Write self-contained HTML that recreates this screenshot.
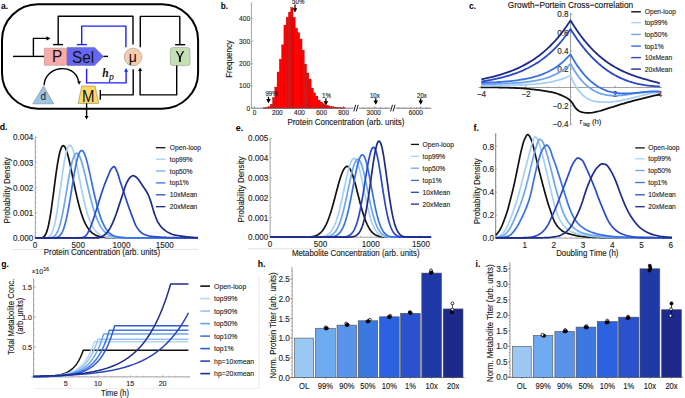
<!DOCTYPE html>
<html><head><meta charset="utf-8"><style>
html,body{margin:0;padding:0;background:#fff;}
body{width:685px;height:398px;overflow:hidden;font-family:"Liberation Sans", sans-serif;}
svg{display:block;}
</style></head><body>
<svg width="685" height="398" viewBox="0 0 685 398">
<rect width="685" height="398" fill="#fff"/>
<text font-size="8.6" text-anchor="start" fill="#000" font-weight="bold" font-style="normal" font-family='"Liberation Sans", sans-serif' transform="translate(1 8.8) scale(1 1.08)">a.</text>
<rect x="2.0" y="4.2" width="196.1" height="104.5" rx="36" ry="36" fill="none" stroke="#000" stroke-width="2.0"/>
<line x1="13" y1="56.4" x2="44.4" y2="56.4" stroke="#000" stroke-width="1.4"/>
<path d="M33.4,56.4 L33.4,38.4 L47.5,38.4" stroke="#000" stroke-width="1.4" fill="none" stroke-linejoin="round"/>
<polygon points="50.5,38.4 46.5,36.2 46.5,40.6" fill="#000"/>
<path d="M44.3,48.2 H64.6 Q67.1,48.2 67.1,50.7 V62.8 Q67.1,65.3 64.6,65.3 H44.3 Z" fill="#f9abab" stroke="#a08080" stroke-width="0.5"/>
<path d="M67.1,47.4 H94.7 L103.4,56.4 L94.7,65.5 H67.1 Z" fill="#6767f4" stroke="#6060a0" stroke-width="0.5"/>
<line x1="103.4" y1="56.4" x2="108" y2="56.4" stroke="#000" stroke-width="1.4"/>
<text font-size="15.3" text-anchor="middle" fill="#111" font-weight="normal" font-style="normal" font-family='"Liberation Sans", sans-serif' transform="translate(57.2 62.3) scale(1 1.04)">P</text>
<text font-size="15.3" text-anchor="middle" fill="#111" font-weight="normal" font-style="normal" font-family='"Liberation Sans", sans-serif' transform="translate(83.1 62.5) scale(1 1.04)">Sel</text>
<path d="M58.2,44.6 L58.2,16.3 L133,16.3 L133,44.5" stroke="#000" stroke-width="1.4" fill="none" stroke-linejoin="round"/>
<line x1="53.1" y1="44.6" x2="63" y2="44.6" stroke="#000" stroke-width="1.4"/>
<path d="M81.7,44.6 L81.7,26.1 L125.9,26.1 L125.9,47.3" stroke="#1f1fff" stroke-width="1.4" fill="none" stroke-linejoin="round"/>
<line x1="76.8" y1="44.6" x2="86.8" y2="44.6" stroke="#1f1fff" stroke-width="1.4"/>
<circle cx="133" cy="57" r="8.8" fill="#f8cbad" stroke="#999" stroke-width="0.6"/>
<text font-size="14" text-anchor="middle" fill="#111" font-weight="normal" font-style="normal" font-family='"Liberation Sans", sans-serif' transform="translate(132.8 61.5) scale(1 1.04)">μ</text>
<path d="M140.3,47.3 L140.3,16.4 L179.8,16.4 L179.8,44.7" stroke="#000" stroke-width="1.4" fill="none" stroke-linejoin="round"/>
<line x1="175.1" y1="44.7" x2="185.2" y2="44.7" stroke="#000" stroke-width="1.4"/>
<rect x="170.3" y="47.6" width="19.7" height="18" rx="2.5" fill="#c5e0b4" stroke="#999" stroke-width="0.6"/>
<path d="M176.4,51.1 C177.6,52.6 179.2,55.5 179.9,58.3 M183.5,51.1 C182.4,52.6 180.7,55.5 179.9,58.3" stroke="#111" stroke-width="1.35" fill="none"/>
<line x1="179.9" y1="57.8" x2="179.9" y2="61.9" stroke="#111" stroke-width="1.9"/>
<path d="M176.7,65.6 L176.7,94.9 L140.1,94.9 L140.1,70.5" stroke="#000" stroke-width="1.4" fill="none" stroke-linejoin="round"/>
<polygon points="140.1,67.5 138.12,71.1 142.08,71.1" fill="#000"/>
<path d="M133.2,69.2 L133.2,94.9 L100.3,94.9" stroke="#000" stroke-width="1.4" fill="none" stroke-linejoin="round"/>
<line x1="100.3" y1="90.1" x2="100.3" y2="99.7" stroke="#000" stroke-width="1.4"/>
<path d="M86.6,68.7 L86.6,82.9 L126.1,82.9 L126.1,71" stroke="#1f1fff" stroke-width="1.4" fill="none" stroke-linejoin="round"/>
<polygon points="126.1,68.1 124.12,71.7 128.08,71.7" fill="#1f1fff"/>
<text font-size="11.5" text-anchor="start" fill="#111" font-weight="bold" font-style="italic" font-family='"Liberation Serif", serif' transform="translate(102.3 76.6)">h</text>
<text font-size="9.6" text-anchor="start" fill="#111" font-weight="normal" font-style="italic" font-family='"Liberation Serif", serif' transform="translate(109 79.6)" stroke="#111" stroke-width="0.15">p</text>
<polygon points="43.6,86.1 32.8,103.8 53.7,103.8" fill="#9dc3e6" stroke="#7a8a9a" stroke-width="0.6"/>
<text font-size="10" text-anchor="middle" fill="#222" font-weight="normal" font-style="normal" font-family='"Liberation Sans", sans-serif' transform="translate(43.3 100.3) scale(1 1.04)">d</text>
<path d="M44.1,85.3 C45,66 74,62 78.6,81" stroke="#000" stroke-width="1.4" fill="none"/>
<polygon points="79.1,84.8 77.12,81.2 81.08,81.2" fill="#000"/>
<polygon points="81.8,86.1 95.1,86.1 98.7,103.4 78.1,103.4" fill="#ffd966" stroke="#8a8060" stroke-width="0.6"/>
<text font-size="15" text-anchor="middle" fill="#111" font-weight="normal" font-style="normal" font-family='"Liberation Sans", sans-serif' transform="translate(88.3 102.1) scale(1 1.04)">M</text>
<line x1="86.6" y1="103.4" x2="86.6" y2="116.5" stroke="#000" stroke-width="1.4"/>
<polygon points="86.6,119.6 84.62,116 88.58,116" fill="#000"/>
<text font-size="8.3" text-anchor="start" fill="#000" font-weight="bold" font-style="normal" font-family='"Liberation Sans", sans-serif' transform="translate(220.8 8.8) scale(1 1.08)">b.</text>
<rect x="263.46" y="107.7" width="2.27" height="0.5" fill="#ff0000" stroke="#b00000" stroke-width="0.35"/>
<rect x="265.73" y="107.5" width="2.27" height="0.7" fill="#ff0000" stroke="#b00000" stroke-width="0.35"/>
<rect x="268" y="106.7" width="2.27" height="1.5" fill="#ff0000" stroke="#b00000" stroke-width="0.35"/>
<rect x="270.27" y="104.2" width="2.27" height="4" fill="#ff0000" stroke="#b00000" stroke-width="0.35"/>
<rect x="272.54" y="97.6" width="2.27" height="10.6" fill="#ff0000" stroke="#b00000" stroke-width="0.35"/>
<rect x="274.81" y="87.1" width="2.27" height="21.1" fill="#ff0000" stroke="#b00000" stroke-width="0.35"/>
<rect x="277.08" y="72" width="2.27" height="36.2" fill="#ff0000" stroke="#b00000" stroke-width="0.35"/>
<rect x="279.35" y="59.1" width="2.27" height="49.1" fill="#ff0000" stroke="#b00000" stroke-width="0.35"/>
<rect x="281.62" y="44.9" width="2.27" height="63.3" fill="#ff0000" stroke="#b00000" stroke-width="0.35"/>
<rect x="283.89" y="25.1" width="2.27" height="83.1" fill="#ff0000" stroke="#b00000" stroke-width="0.35"/>
<rect x="286.16" y="17.3" width="2.27" height="90.9" fill="#ff0000" stroke="#b00000" stroke-width="0.35"/>
<rect x="288.43" y="12.1" width="2.27" height="96.1" fill="#ff0000" stroke="#b00000" stroke-width="0.35"/>
<rect x="290.7" y="7.5" width="2.27" height="100.7" fill="#ff0000" stroke="#b00000" stroke-width="0.35"/>
<rect x="292.97" y="17.3" width="2.27" height="90.9" fill="#ff0000" stroke="#b00000" stroke-width="0.35"/>
<rect x="295.24" y="28.1" width="2.27" height="80.1" fill="#ff0000" stroke="#b00000" stroke-width="0.35"/>
<rect x="297.51" y="32.7" width="2.27" height="75.5" fill="#ff0000" stroke="#b00000" stroke-width="0.35"/>
<rect x="299.78" y="39" width="2.27" height="69.2" fill="#ff0000" stroke="#b00000" stroke-width="0.35"/>
<rect x="302.05" y="50.1" width="2.27" height="58.1" fill="#ff0000" stroke="#b00000" stroke-width="0.35"/>
<rect x="304.32" y="64.1" width="2.27" height="44.1" fill="#ff0000" stroke="#b00000" stroke-width="0.35"/>
<rect x="306.59" y="73" width="2.27" height="35.2" fill="#ff0000" stroke="#b00000" stroke-width="0.35"/>
<rect x="308.86" y="79" width="2.27" height="29.2" fill="#ff0000" stroke="#b00000" stroke-width="0.35"/>
<rect x="311.13" y="88.1" width="2.27" height="20.1" fill="#ff0000" stroke="#b00000" stroke-width="0.35"/>
<rect x="313.4" y="92.9" width="2.27" height="15.3" fill="#ff0000" stroke="#b00000" stroke-width="0.35"/>
<rect x="315.67" y="96.1" width="2.27" height="12.1" fill="#ff0000" stroke="#b00000" stroke-width="0.35"/>
<rect x="317.94" y="100.2" width="2.27" height="8" fill="#ff0000" stroke="#b00000" stroke-width="0.35"/>
<rect x="320.21" y="102" width="2.27" height="6.2" fill="#ff0000" stroke="#b00000" stroke-width="0.35"/>
<rect x="322.48" y="103.7" width="2.27" height="4.5" fill="#ff0000" stroke="#b00000" stroke-width="0.35"/>
<rect x="324.75" y="105.2" width="2.27" height="3" fill="#ff0000" stroke="#b00000" stroke-width="0.35"/>
<rect x="327.02" y="105.7" width="2.27" height="2.5" fill="#ff0000" stroke="#b00000" stroke-width="0.35"/>
<rect x="329.29" y="106.5" width="2.27" height="1.7" fill="#ff0000" stroke="#b00000" stroke-width="0.35"/>
<rect x="331.56" y="106.7" width="2.27" height="1.5" fill="#ff0000" stroke="#b00000" stroke-width="0.35"/>
<rect x="333.83" y="107.2" width="2.27" height="1" fill="#ff0000" stroke="#b00000" stroke-width="0.35"/>
<rect x="336.1" y="107.5" width="2.27" height="0.7" fill="#ff0000" stroke="#b00000" stroke-width="0.35"/>
<rect x="338.37" y="107.7" width="2.27" height="0.5" fill="#ff0000" stroke="#b00000" stroke-width="0.35"/>
<rect x="340.64" y="107.8" width="2.27" height="0.4" fill="#ff0000" stroke="#b00000" stroke-width="0.35"/>
<rect x="342.91" y="107.8" width="2.27" height="0.4" fill="#ff0000" stroke="#b00000" stroke-width="0.35"/>
<line x1="251.4" y1="2.4" x2="251.4" y2="108.2" stroke="#7a7a7a" stroke-width="0.7"/>
<line x1="251.4" y1="108.2" x2="431.3" y2="108.2" stroke="#555" stroke-width="0.8"/>
<text font-size="6.6" text-anchor="end" fill="#262626" font-weight="normal" font-style="normal" font-family='"Liberation Sans", sans-serif' transform="translate(250.1 21.05) scale(1 1.08)" stroke="#262626" stroke-width="0.12">400</text>
<line x1="251.4" y1="18.5" x2="253.4" y2="18.5" stroke="#7a7a7a" stroke-width="0.5"/>
<text font-size="6.6" text-anchor="end" fill="#262626" font-weight="normal" font-style="normal" font-family='"Liberation Sans", sans-serif' transform="translate(250.1 43.65) scale(1 1.08)" stroke="#262626" stroke-width="0.12">300</text>
<line x1="251.4" y1="41.1" x2="253.4" y2="41.1" stroke="#7a7a7a" stroke-width="0.5"/>
<text font-size="6.6" text-anchor="end" fill="#262626" font-weight="normal" font-style="normal" font-family='"Liberation Sans", sans-serif' transform="translate(250.1 66.25) scale(1 1.08)" stroke="#262626" stroke-width="0.12">200</text>
<line x1="251.4" y1="63.7" x2="253.4" y2="63.7" stroke="#7a7a7a" stroke-width="0.5"/>
<text font-size="6.6" text-anchor="end" fill="#262626" font-weight="normal" font-style="normal" font-family='"Liberation Sans", sans-serif' transform="translate(250.1 88.45) scale(1 1.08)" stroke="#262626" stroke-width="0.12">100</text>
<line x1="251.4" y1="85.9" x2="253.4" y2="85.9" stroke="#7a7a7a" stroke-width="0.5"/>
<text font-size="6.6" text-anchor="end" fill="#262626" font-weight="normal" font-style="normal" font-family='"Liberation Sans", sans-serif' transform="translate(250.1 110.55) scale(1 1.08)" stroke="#262626" stroke-width="0.12">0</text>
<line x1="251.4" y1="108" x2="253.4" y2="108" stroke="#7a7a7a" stroke-width="0.5"/>
<text font-size="6.4" text-anchor="middle" fill="#262626" font-weight="normal" font-style="normal" font-family='"Liberation Sans", sans-serif' transform="translate(254.5 115.17) scale(1 1.08)" stroke="#262626" stroke-width="0.12">0</text>
<text font-size="6.4" text-anchor="middle" fill="#262626" font-weight="normal" font-style="normal" font-family='"Liberation Sans", sans-serif' transform="translate(277.3 115.17) scale(1 1.08)" stroke="#262626" stroke-width="0.12">200</text>
<text font-size="6.4" text-anchor="middle" fill="#262626" font-weight="normal" font-style="normal" font-family='"Liberation Sans", sans-serif' transform="translate(299.4 115.17) scale(1 1.08)" stroke="#262626" stroke-width="0.12">400</text>
<text font-size="6.4" text-anchor="middle" fill="#262626" font-weight="normal" font-style="normal" font-family='"Liberation Sans", sans-serif' transform="translate(321.6 115.17) scale(1 1.08)" stroke="#262626" stroke-width="0.12">600</text>
<text font-size="6.4" text-anchor="middle" fill="#262626" font-weight="normal" font-style="normal" font-family='"Liberation Sans", sans-serif' transform="translate(343.6 115.17) scale(1 1.08)" stroke="#262626" stroke-width="0.12">800</text>
<text font-size="6.4" text-anchor="middle" fill="#262626" font-weight="normal" font-style="normal" font-family='"Liberation Sans", sans-serif' transform="translate(373.7 115.17) scale(1 1.08)" stroke="#262626" stroke-width="0.12">3000</text>
<text font-size="6.4" text-anchor="middle" fill="#262626" font-weight="normal" font-style="normal" font-family='"Liberation Sans", sans-serif' transform="translate(415.8 115.17) scale(1 1.08)" stroke="#262626" stroke-width="0.12">6000</text>
<line x1="254.5" y1="108.2" x2="254.5" y2="106.2" stroke="#555" stroke-width="0.5"/>
<line x1="277.3" y1="108.2" x2="277.3" y2="106.2" stroke="#555" stroke-width="0.5"/>
<line x1="299.4" y1="108.2" x2="299.4" y2="106.2" stroke="#555" stroke-width="0.5"/>
<line x1="321.6" y1="108.2" x2="321.6" y2="106.2" stroke="#555" stroke-width="0.5"/>
<line x1="343.6" y1="108.2" x2="343.6" y2="106.2" stroke="#555" stroke-width="0.5"/>
<line x1="374.8" y1="108.2" x2="374.8" y2="106.2" stroke="#555" stroke-width="0.5"/>
<line x1="420.7" y1="108.2" x2="420.7" y2="106.2" stroke="#555" stroke-width="0.5"/>
<line x1="265.9" y1="108.2" x2="265.9" y2="107" stroke="#555" stroke-width="0.4"/>
<line x1="288.4" y1="108.2" x2="288.4" y2="107" stroke="#555" stroke-width="0.4"/>
<line x1="310.5" y1="108.2" x2="310.5" y2="107" stroke="#555" stroke-width="0.4"/>
<line x1="332.6" y1="108.2" x2="332.6" y2="107" stroke="#555" stroke-width="0.4"/>
<line x1="363" y1="108.2" x2="363" y2="107" stroke="#555" stroke-width="0.4"/>
<line x1="369.2" y1="108.2" x2="369.2" y2="107" stroke="#555" stroke-width="0.4"/>
<line x1="380.4" y1="108.2" x2="380.4" y2="107" stroke="#555" stroke-width="0.4"/>
<line x1="386" y1="108.2" x2="386" y2="107" stroke="#555" stroke-width="0.4"/>
<line x1="399" y1="108.2" x2="399" y2="107" stroke="#555" stroke-width="0.4"/>
<line x1="404.6" y1="108.2" x2="404.6" y2="107" stroke="#555" stroke-width="0.4"/>
<line x1="410.8" y1="108.2" x2="410.8" y2="107" stroke="#555" stroke-width="0.4"/>
<line x1="416.4" y1="108.2" x2="416.4" y2="107" stroke="#555" stroke-width="0.4"/>
<line x1="426.9" y1="108.2" x2="426.9" y2="107" stroke="#555" stroke-width="0.4"/>
<rect x="353.5" y="105" width="5.2" height="6" fill="#fff"/>
<line x1="353.8" y1="111.4" x2="355.7" y2="104.8" stroke="#000" stroke-width="0.9"/>
<line x1="356.3" y1="111.4" x2="358.2" y2="104.8" stroke="#000" stroke-width="0.9"/>
<rect x="390.3" y="105" width="5.2" height="6" fill="#fff"/>
<line x1="390.6" y1="111.4" x2="392.5" y2="104.8" stroke="#000" stroke-width="0.9"/>
<line x1="393.1" y1="111.4" x2="395" y2="104.8" stroke="#000" stroke-width="0.9"/>
<text font-size="8" text-anchor="middle" fill="#1a1a1a" font-weight="normal" font-style="normal" font-family='"Liberation Sans", sans-serif' transform="translate(232 59) rotate(-90) scale(1 1.08)" stroke="#1a1a1a" stroke-width="0.12">Frequency</text>
<text font-size="7.95" text-anchor="start" fill="#1a1a1a" font-weight="normal" font-style="normal" font-family='"Liberation Sans", sans-serif' transform="translate(287.4 124.9) scale(1 1.08)" stroke="#1a1a1a" stroke-width="0.12">Protein Concentration (arb. units)</text>
<text font-size="6.1" text-anchor="middle" fill="#1a1a1a" font-weight="normal" font-style="normal" font-family='"Liberation Sans", sans-serif' transform="translate(298.2 4.4) scale(1 1.08)" stroke="#1a1a1a" stroke-width="0.12">50%</text>
<line x1="295" y1="4.6" x2="295" y2="8.9" stroke="#000" stroke-width="1.25"/>
<polygon points="295,12.4 292.69,8.2 297.31,8.2" fill="#000"/>
<text font-size="6.1" text-anchor="middle" fill="#1a1a1a" font-weight="normal" font-style="normal" font-family='"Liberation Sans", sans-serif' transform="translate(271.5 96.4) scale(1 1.08)" stroke="#1a1a1a" stroke-width="0.12">99%</text>
<line x1="268.5" y1="96.8" x2="268.5" y2="99.8" stroke="#000" stroke-width="1.25"/>
<polygon points="268.5,103.3 266.19,99.1 270.81,99.1" fill="#000"/>
<text font-size="6.1" text-anchor="middle" fill="#1a1a1a" font-weight="normal" font-style="normal" font-family='"Liberation Sans", sans-serif' transform="translate(326.5 98) scale(1 1.08)" stroke="#1a1a1a" stroke-width="0.12">1%</text>
<line x1="325.9" y1="98.3" x2="325.9" y2="101.9" stroke="#000" stroke-width="1.25"/>
<polygon points="325.9,105.4 323.59,101.2 328.21,101.2" fill="#000"/>
<text font-size="6.1" text-anchor="middle" fill="#1a1a1a" font-weight="normal" font-style="normal" font-family='"Liberation Sans", sans-serif' transform="translate(374.8 97.9) scale(1 1.08)" stroke="#1a1a1a" stroke-width="0.12">10x</text>
<line x1="375.8" y1="98.2" x2="375.8" y2="101.2" stroke="#000" stroke-width="1.25"/>
<polygon points="375.8,104.7 373.49,100.5 378.11,100.5" fill="#000"/>
<text font-size="6.1" text-anchor="middle" fill="#1a1a1a" font-weight="normal" font-style="normal" font-family='"Liberation Sans", sans-serif' transform="translate(422 97.9) scale(1 1.08)" stroke="#1a1a1a" stroke-width="0.12">20x</text>
<line x1="420.7" y1="98.2" x2="420.7" y2="101.2" stroke="#000" stroke-width="1.25"/>
<polygon points="420.7,104.7 418.39,100.5 423.01,100.5" fill="#000"/>
<text font-size="8.6" text-anchor="start" fill="#000" font-weight="bold" font-style="normal" font-family='"Liberation Sans", sans-serif' transform="translate(469 8.8) scale(1 1.08)">c.</text>
<text font-size="8.3" text-anchor="middle" fill="#111" font-weight="normal" font-style="normal" font-family='"Liberation Sans", sans-serif' transform="translate(570.5 7.9) scale(1 1.08)" stroke="#111" stroke-width="0.12">Growth−Portein Cross−correlation</text>
<line x1="570.5" y1="12.7" x2="570.5" y2="125.5" stroke="#7a7a7a" stroke-width="0.7"/>
<line x1="478.5" y1="87.5" x2="662" y2="87.5" stroke="#7a7a7a" stroke-width="0.7"/>
<text font-size="8.2" text-anchor="end" fill="#262626" font-weight="normal" font-style="normal" font-family='"Liberation Sans", sans-serif' transform="translate(568.6 17.47) scale(1 1.08)" stroke="#262626" stroke-width="0.12">0.8</text>
<line x1="570.5" y1="14.3" x2="572.5" y2="14.3" stroke="#7a7a7a" stroke-width="0.5"/>
<text font-size="8.2" text-anchor="end" fill="#262626" font-weight="normal" font-style="normal" font-family='"Liberation Sans", sans-serif' transform="translate(568.6 35.77) scale(1 1.08)" stroke="#262626" stroke-width="0.12">0.6</text>
<line x1="570.5" y1="32.6" x2="572.5" y2="32.6" stroke="#7a7a7a" stroke-width="0.5"/>
<text font-size="8.2" text-anchor="end" fill="#262626" font-weight="normal" font-style="normal" font-family='"Liberation Sans", sans-serif' transform="translate(568.6 54.07) scale(1 1.08)" stroke="#262626" stroke-width="0.12">0.4</text>
<line x1="570.5" y1="50.9" x2="572.5" y2="50.9" stroke="#7a7a7a" stroke-width="0.5"/>
<text font-size="8.2" text-anchor="end" fill="#262626" font-weight="normal" font-style="normal" font-family='"Liberation Sans", sans-serif' transform="translate(568.6 72.37) scale(1 1.08)" stroke="#262626" stroke-width="0.12">0.2</text>
<line x1="570.5" y1="69.2" x2="572.5" y2="69.2" stroke="#7a7a7a" stroke-width="0.5"/>
<text font-size="8.2" text-anchor="end" fill="#262626" font-weight="normal" font-style="normal" font-family='"Liberation Sans", sans-serif' transform="translate(568.6 108.97) scale(1 1.08)" stroke="#262626" stroke-width="0.12">−0.2</text>
<line x1="570.5" y1="105.8" x2="572.5" y2="105.8" stroke="#7a7a7a" stroke-width="0.5"/>
<text font-size="8.2" text-anchor="end" fill="#262626" font-weight="normal" font-style="normal" font-family='"Liberation Sans", sans-serif' transform="translate(568.6 127.27) scale(1 1.08)" stroke="#262626" stroke-width="0.12">−0.4</text>
<line x1="570.5" y1="124.1" x2="572.5" y2="124.1" stroke="#7a7a7a" stroke-width="0.5"/>
<line x1="570.5" y1="124.1" x2="571.6" y2="124.1" stroke="#7a7a7a" stroke-width="0.4"/>
<line x1="570.5" y1="119.53" x2="571.6" y2="119.53" stroke="#7a7a7a" stroke-width="0.4"/>
<line x1="570.5" y1="114.95" x2="571.6" y2="114.95" stroke="#7a7a7a" stroke-width="0.4"/>
<line x1="570.5" y1="110.38" x2="571.6" y2="110.38" stroke="#7a7a7a" stroke-width="0.4"/>
<line x1="570.5" y1="105.8" x2="571.6" y2="105.8" stroke="#7a7a7a" stroke-width="0.4"/>
<line x1="570.5" y1="101.23" x2="571.6" y2="101.23" stroke="#7a7a7a" stroke-width="0.4"/>
<line x1="570.5" y1="96.65" x2="571.6" y2="96.65" stroke="#7a7a7a" stroke-width="0.4"/>
<line x1="570.5" y1="92.08" x2="571.6" y2="92.08" stroke="#7a7a7a" stroke-width="0.4"/>
<line x1="570.5" y1="87.5" x2="571.6" y2="87.5" stroke="#7a7a7a" stroke-width="0.4"/>
<line x1="570.5" y1="82.93" x2="571.6" y2="82.93" stroke="#7a7a7a" stroke-width="0.4"/>
<line x1="570.5" y1="78.35" x2="571.6" y2="78.35" stroke="#7a7a7a" stroke-width="0.4"/>
<line x1="570.5" y1="73.78" x2="571.6" y2="73.78" stroke="#7a7a7a" stroke-width="0.4"/>
<line x1="570.5" y1="69.2" x2="571.6" y2="69.2" stroke="#7a7a7a" stroke-width="0.4"/>
<line x1="570.5" y1="64.63" x2="571.6" y2="64.63" stroke="#7a7a7a" stroke-width="0.4"/>
<line x1="570.5" y1="60.05" x2="571.6" y2="60.05" stroke="#7a7a7a" stroke-width="0.4"/>
<line x1="570.5" y1="55.48" x2="571.6" y2="55.48" stroke="#7a7a7a" stroke-width="0.4"/>
<line x1="570.5" y1="50.9" x2="571.6" y2="50.9" stroke="#7a7a7a" stroke-width="0.4"/>
<line x1="570.5" y1="46.33" x2="571.6" y2="46.33" stroke="#7a7a7a" stroke-width="0.4"/>
<line x1="570.5" y1="41.75" x2="571.6" y2="41.75" stroke="#7a7a7a" stroke-width="0.4"/>
<line x1="570.5" y1="37.18" x2="571.6" y2="37.18" stroke="#7a7a7a" stroke-width="0.4"/>
<line x1="570.5" y1="32.6" x2="571.6" y2="32.6" stroke="#7a7a7a" stroke-width="0.4"/>
<line x1="570.5" y1="28.03" x2="571.6" y2="28.03" stroke="#7a7a7a" stroke-width="0.4"/>
<line x1="570.5" y1="23.45" x2="571.6" y2="23.45" stroke="#7a7a7a" stroke-width="0.4"/>
<line x1="570.5" y1="18.88" x2="571.6" y2="18.88" stroke="#7a7a7a" stroke-width="0.4"/>
<line x1="570.5" y1="14.3" x2="571.6" y2="14.3" stroke="#7a7a7a" stroke-width="0.4"/>
<text font-size="8.2" text-anchor="middle" fill="#262626" font-weight="normal" font-style="normal" font-family='"Liberation Sans", sans-serif' transform="translate(481.3 97.47) scale(1 1.08)" stroke="#262626" stroke-width="0.12">−4</text>
<line x1="481.3" y1="87.5" x2="481.3" y2="85.5" stroke="#7a7a7a" stroke-width="0.5"/>
<text font-size="8.2" text-anchor="middle" fill="#262626" font-weight="normal" font-style="normal" font-family='"Liberation Sans", sans-serif' transform="translate(525.9 97.47) scale(1 1.08)" stroke="#262626" stroke-width="0.12">−2</text>
<line x1="525.9" y1="87.5" x2="525.9" y2="85.5" stroke="#7a7a7a" stroke-width="0.5"/>
<text font-size="8.2" text-anchor="middle" fill="#262626" font-weight="normal" font-style="normal" font-family='"Liberation Sans", sans-serif' transform="translate(615.1 97.47) scale(1 1.08)" stroke="#262626" stroke-width="0.12">2</text>
<line x1="615.1" y1="87.5" x2="615.1" y2="85.5" stroke="#7a7a7a" stroke-width="0.5"/>
<text font-size="8.2" text-anchor="middle" fill="#262626" font-weight="normal" font-style="normal" font-family='"Liberation Sans", sans-serif' transform="translate(659.7 97.47) scale(1 1.08)" stroke="#262626" stroke-width="0.12">4</text>
<line x1="659.7" y1="87.5" x2="659.7" y2="85.5" stroke="#7a7a7a" stroke-width="0.5"/>
<line x1="481.3" y1="87.5" x2="481.3" y2="86.4" stroke="#7a7a7a" stroke-width="0.4"/>
<line x1="492.45" y1="87.5" x2="492.45" y2="86.4" stroke="#7a7a7a" stroke-width="0.4"/>
<line x1="503.6" y1="87.5" x2="503.6" y2="86.4" stroke="#7a7a7a" stroke-width="0.4"/>
<line x1="514.75" y1="87.5" x2="514.75" y2="86.4" stroke="#7a7a7a" stroke-width="0.4"/>
<line x1="525.9" y1="87.5" x2="525.9" y2="86.4" stroke="#7a7a7a" stroke-width="0.4"/>
<line x1="537.05" y1="87.5" x2="537.05" y2="86.4" stroke="#7a7a7a" stroke-width="0.4"/>
<line x1="548.2" y1="87.5" x2="548.2" y2="86.4" stroke="#7a7a7a" stroke-width="0.4"/>
<line x1="559.35" y1="87.5" x2="559.35" y2="86.4" stroke="#7a7a7a" stroke-width="0.4"/>
<line x1="570.5" y1="87.5" x2="570.5" y2="86.4" stroke="#7a7a7a" stroke-width="0.4"/>
<line x1="581.65" y1="87.5" x2="581.65" y2="86.4" stroke="#7a7a7a" stroke-width="0.4"/>
<line x1="592.8" y1="87.5" x2="592.8" y2="86.4" stroke="#7a7a7a" stroke-width="0.4"/>
<line x1="603.95" y1="87.5" x2="603.95" y2="86.4" stroke="#7a7a7a" stroke-width="0.4"/>
<line x1="615.1" y1="87.5" x2="615.1" y2="86.4" stroke="#7a7a7a" stroke-width="0.4"/>
<line x1="626.25" y1="87.5" x2="626.25" y2="86.4" stroke="#7a7a7a" stroke-width="0.4"/>
<line x1="637.4" y1="87.5" x2="637.4" y2="86.4" stroke="#7a7a7a" stroke-width="0.4"/>
<line x1="648.55" y1="87.5" x2="648.55" y2="86.4" stroke="#7a7a7a" stroke-width="0.4"/>
<line x1="659.7" y1="87.5" x2="659.7" y2="86.4" stroke="#7a7a7a" stroke-width="0.4"/>
<text font-size="7.4" text-anchor="start" fill="#222" font-weight="normal" font-style="italic" font-family='"Liberation Sans", sans-serif' transform="translate(579.2 124.3) scale(1 1.08)" stroke="#222" stroke-width="0.12">τ</text>
<text font-size="4.8" text-anchor="start" fill="#222" font-weight="normal" font-style="normal" font-family='"Liberation Sans", sans-serif' transform="translate(583.3 126) scale(1 1.08)" stroke="#222" stroke-width="0.12">lag</text>
<text font-size="7.8" text-anchor="start" fill="#222" font-weight="normal" font-style="normal" font-family='"Liberation Sans", sans-serif' transform="translate(591.9 124.2) scale(1 1.02)" stroke="#222" stroke-width="0.12">(h)</text>
<path d="M480.8,87.4 L482.3,87.4 L483.81,87.4 L485.31,87.41 L486.82,87.41 L488.32,87.42 L489.83,87.42 L491.33,87.43 L492.83,87.44 L494.34,87.45 L495.84,87.46 L497.35,87.47 L498.85,87.49 L500.35,87.51 L501.86,87.54 L503.36,87.57 L504.87,87.6 L506.37,87.64 L507.88,87.69 L509.38,87.76 L510.88,87.82 L512.39,87.89 L513.89,87.95 L515.4,88 L516.9,88.06 L518.41,88.12 L519.91,88.2 L521.41,88.29 L522.92,88.39 L524.42,88.52 L525.93,88.65 L527.43,88.79 L528.93,88.94 L530.44,89.11 L531.94,89.28 L533.45,89.45 L534.95,89.62 L536.46,89.8 L537.96,89.98 L539.46,90.17 L540.97,90.38 L542.47,90.6 L543.98,90.83 L545.48,91.08 L546.98,91.32 L548.49,91.56 L549.99,91.82 L551.5,92.1 L553,92.41 L554.51,92.78 L556.01,93.23 L557.51,93.75 L559.02,94.33 L560.52,94.95 L562.03,95.59 L563.53,96.26 L565.04,97 L566.54,97.82 L568.04,98.76 L569.55,99.9 L571.05,101.38 L572.56,103.31 L574.06,105.9 L575.56,107.93 L577.07,109.54 L578.57,110.67 L580.08,111.51 L581.58,112.13 L583.09,112.45 L584.59,112.64 L586.09,112.79 L587.6,112.88 L589.1,112.9 L590.61,112.81 L592.11,112.62 L593.62,112.35 L595.12,112.04 L596.62,111.71 L598.13,111.38 L599.63,111 L601.14,110.56 L602.64,110.08 L604.14,109.59 L605.65,109.1 L607.15,108.64 L608.66,108.18 L610.16,107.72 L611.67,107.26 L613.17,106.8 L614.67,106.33 L616.18,105.87 L617.68,105.39 L619.19,104.92 L620.69,104.45 L622.19,103.98 L623.7,103.53 L625.2,103.09 L626.71,102.65 L628.21,102.21 L629.72,101.79 L631.22,101.37 L632.72,100.97 L634.23,100.58 L635.73,100.2 L637.24,99.83 L638.74,99.46 L640.25,99.09 L641.75,98.71 L643.25,98.33 L644.76,97.94 L646.26,97.56 L647.77,97.17 L649.27,96.8 L650.77,96.44 L652.28,96.08 L653.78,95.73 L655.29,95.39 L656.79,95.05 L658.3,94.72 L659.8,94.4" stroke="#111111" stroke-width="1.8" fill="none" stroke-linejoin="round"/>
<path d="M481.3,85.8 L483.53,85.78 L485.76,85.77 L487.99,85.75 L490.22,85.73 L492.45,85.7 L494.68,85.68 L496.91,85.65 L499.14,85.61 L501.37,85.58 L503.6,85.54 L505.83,85.49 L508.06,85.44 L510.29,85.39 L512.52,85.32 L514.75,85.25 L516.98,85.17 L519.21,85.09 L521.44,84.99 L523.67,84.88 L525.9,84.76 L528.13,84.62 L530.36,84.47 L532.59,84.3 L534.82,84.11 L537.05,83.9 L539.28,83.67 L541.51,83.41 L543.74,83.11 L545.97,82.79 L548.2,82.42 L550.43,82.01 L552.66,81.56 L554.89,81.05 L557.12,80.49 L559.35,79.85 L561.58,79.15 L563.81,78.36 L566.04,77.48 L568.27,76.5 L570.5,75.5 L571.5,77.92 L572.51,80.16 L573.51,82.22 L574.51,84.12 L575.52,85.88 L576.52,87.49 L577.52,88.98 L578.53,90.35 L579.53,91.62 L580.53,92.79 L581.54,93.87 L582.54,94.85 L583.54,95.76 L584.55,96.58 L585.55,97.32 L586.55,98 L587.56,98.6 L588.56,99.14 L589.56,99.62 L590.57,100.04 L591.57,100.41 L592.57,100.73 L593.58,101.01 L594.58,101.25 L595.58,101.45 L596.59,101.62 L597.59,101.76 L598.59,101.88 L599.6,101.98 L600.6,102.06 L601.6,102.13 L602.61,102.17 L603.61,102.2 L604.61,102.21 L605.62,102.21 L606.62,102.19 L607.62,102.15 L608.63,102.11 L609.63,102.04 L610.63,101.96 L611.64,101.87 L612.64,101.77 L613.64,101.66 L614.65,101.53 L615.65,101.39 L616.66,101.24 L617.66,101.08 L618.66,100.92 L619.67,100.74 L620.67,100.55 L621.67,100.36 L622.68,100.16 L623.68,99.95 L624.68,99.73 L625.69,99.51 L626.69,99.28 L627.69,99.05 L628.7,98.81 L629.7,98.56 L630.7,98.32 L631.71,98.07 L632.71,97.82 L633.71,97.56 L634.72,97.3 L635.72,97.05 L636.72,96.79 L637.73,96.53 L638.73,96.27 L639.73,96.01 L640.74,95.75 L641.74,95.5 L642.74,95.24 L643.75,94.99 L644.75,94.74 L645.75,94.5 L646.76,94.26 L647.76,94.02 L648.76,93.79 L649.77,93.57 L650.77,93.35 L651.77,93.14 L652.78,92.93 L653.78,92.73 L654.78,92.54 L655.79,92.36 L656.79,92.19 L657.79,92.02 L658.8,91.87 L659.8,91.73" stroke="#a6d0f6" stroke-width="1.8" fill="none" stroke-linejoin="round"/>
<path d="M481.3,84.26 L483.53,84.23 L485.76,84.19 L487.99,84.15 L490.22,84.1 L492.45,84.05 L494.68,84 L496.91,83.93 L499.14,83.86 L501.37,83.79 L503.6,83.7 L505.83,83.61 L508.06,83.5 L510.29,83.38 L512.52,83.25 L514.75,83.1 L516.98,82.94 L519.21,82.76 L521.44,82.56 L523.67,82.33 L525.9,82.08 L528.13,81.8 L530.36,81.49 L532.59,81.15 L534.82,80.77 L537.05,80.34 L539.28,79.87 L541.51,79.35 L543.74,78.76 L545.97,78.11 L548.2,77.39 L550.43,76.58 L552.66,75.69 L554.89,74.69 L557.12,73.58 L559.35,72.35 L561.58,70.98 L563.81,69.46 L566.04,67.77 L568.27,65.88 L570.5,63.8 L571.5,65.65 L572.51,67.42 L573.51,69.11 L574.51,70.74 L575.52,72.3 L576.52,73.8 L577.52,75.22 L578.53,76.59 L579.53,77.89 L580.53,79.13 L581.54,80.32 L582.54,81.44 L583.54,82.51 L584.55,83.53 L585.55,84.49 L586.55,85.4 L587.56,86.26 L588.56,87.07 L589.56,87.83 L590.57,88.55 L591.57,89.23 L592.57,89.86 L593.58,90.45 L594.58,91 L595.58,91.51 L596.59,91.99 L597.59,92.43 L598.59,92.84 L599.6,93.21 L600.6,93.56 L601.6,93.87 L602.61,94.16 L603.61,94.42 L604.61,94.65 L605.62,94.85 L606.62,95.03 L607.62,95.18 L608.63,95.31 L609.63,95.42 L610.63,95.5 L611.64,95.56 L612.64,95.61 L613.64,95.63 L614.65,95.64 L615.65,95.63 L616.66,95.6 L617.66,95.56 L618.66,95.51 L619.67,95.44 L620.67,95.35 L621.67,95.26 L622.68,95.16 L623.68,95.04 L624.68,94.92 L625.69,94.79 L626.69,94.65 L627.69,94.51 L628.7,94.36 L629.7,94.2 L630.7,94.05 L631.71,93.89 L632.71,93.73 L633.71,93.57 L634.72,93.41 L635.72,93.25 L636.72,93.09 L637.73,92.94 L638.73,92.79 L639.73,92.65 L640.74,92.51 L641.74,92.38 L642.74,92.25 L643.75,92.14 L644.75,92.03 L645.75,91.94 L646.76,91.86 L647.76,91.79 L648.76,91.73 L649.77,91.69 L650.77,91.66 L651.77,91.65 L652.78,91.66 L653.78,91.68 L654.78,91.72 L655.79,91.79 L656.79,91.87 L657.79,91.98 L658.8,92.11 L659.8,92.26" stroke="#6fa6ee" stroke-width="1.8" fill="none" stroke-linejoin="round"/>
<path d="M481.3,82.86 L483.53,82.78 L485.76,82.7 L487.99,82.61 L490.22,82.52 L492.45,82.41 L494.68,82.29 L496.91,82.16 L499.14,82.02 L501.37,81.87 L503.6,81.7 L505.83,81.52 L508.06,81.31 L510.29,81.09 L512.52,80.85 L514.75,80.59 L516.98,80.29 L519.21,79.98 L521.44,79.63 L523.67,79.25 L525.9,78.83 L528.13,78.37 L530.36,77.87 L532.59,77.32 L534.82,76.72 L537.05,76.06 L539.28,75.34 L541.51,74.55 L543.74,73.68 L545.97,72.73 L548.2,71.7 L550.43,70.56 L552.66,69.31 L554.89,67.95 L557.12,66.46 L559.35,64.82 L561.58,63.03 L563.81,61.07 L566.04,58.92 L568.27,56.57 L570.5,54.4 L571.5,56.21 L572.51,57.96 L573.51,59.66 L574.51,61.3 L575.52,62.9 L576.52,64.44 L577.52,65.93 L578.53,67.37 L579.53,68.76 L580.53,70.1 L581.54,71.4 L582.54,72.65 L583.54,73.85 L584.55,75.01 L585.55,76.12 L586.55,77.2 L587.56,78.22 L588.56,79.21 L589.56,80.15 L590.57,81.06 L591.57,81.92 L592.57,82.75 L593.58,83.54 L594.58,84.29 L595.58,85.01 L596.59,85.69 L597.59,86.33 L598.59,86.94 L599.6,87.52 L600.6,88.07 L601.6,88.58 L602.61,89.06 L603.61,89.52 L604.61,89.94 L605.62,90.33 L606.62,90.7 L607.62,91.04 L608.63,91.36 L609.63,91.65 L610.63,91.91 L611.64,92.16 L612.64,92.37 L613.64,92.57 L614.65,92.75 L615.65,92.9 L616.66,93.04 L617.66,93.15 L618.66,93.25 L619.67,93.33 L620.67,93.4 L621.67,93.44 L622.68,93.48 L623.68,93.5 L624.68,93.5 L625.69,93.5 L626.69,93.48 L627.69,93.45 L628.7,93.41 L629.7,93.36 L630.7,93.31 L631.71,93.24 L632.71,93.17 L633.71,93.09 L634.72,93.01 L635.72,92.92 L636.72,92.83 L637.73,92.73 L638.73,92.63 L639.73,92.53 L640.74,92.43 L641.74,92.33 L642.74,92.24 L643.75,92.14 L644.75,92.04 L645.75,91.95 L646.76,91.87 L647.76,91.78 L648.76,91.71 L649.77,91.64 L650.77,91.57 L651.77,91.52 L652.78,91.47 L653.78,91.44 L654.78,91.41 L655.79,91.4 L656.79,91.39 L657.79,91.4 L658.8,91.43 L659.8,91.47" stroke="#3a70e6" stroke-width="1.8" fill="none" stroke-linejoin="round"/>
<path d="M481.3,81.6 L483.53,81.25 L485.76,80.89 L487.99,80.51 L490.22,80.1 L492.45,79.67 L494.68,79.21 L496.91,78.73 L499.14,78.22 L501.37,77.67 L503.6,77.1 L505.83,76.49 L508.06,75.84 L510.29,75.15 L512.52,74.42 L514.75,73.65 L516.98,72.84 L519.21,71.97 L521.44,71.05 L523.67,70.08 L525.9,69.05 L528.13,67.96 L530.36,66.8 L532.59,65.57 L534.82,64.27 L537.05,62.89 L539.28,61.43 L541.51,59.88 L543.74,58.24 L545.97,56.5 L548.2,54.66 L550.43,52.71 L552.66,50.64 L554.89,48.44 L557.12,46.11 L559.35,43.65 L561.58,41.04 L563.81,38.27 L566.04,35.33 L568.27,32.22 L570.5,29.1 L571.5,30.7 L572.51,32.28 L573.51,33.82 L574.51,35.34 L575.52,36.82 L576.52,38.28 L577.52,39.7 L578.53,41.1 L579.53,42.48 L580.53,43.82 L581.54,45.13 L582.54,46.42 L583.54,47.69 L584.55,48.92 L585.55,50.13 L586.55,51.31 L587.56,52.47 L588.56,53.6 L589.56,54.71 L590.57,55.79 L591.57,56.85 L592.57,57.88 L593.58,58.89 L594.58,59.88 L595.58,60.84 L596.59,61.78 L597.59,62.69 L598.59,63.58 L599.6,64.45 L600.6,65.3 L601.6,66.13 L602.61,66.93 L603.61,67.72 L604.61,68.48 L605.62,69.22 L606.62,69.95 L607.62,70.65 L608.63,71.33 L609.63,71.99 L610.63,72.64 L611.64,73.26 L612.64,73.87 L613.64,74.46 L614.65,75.03 L615.65,75.58 L616.66,76.11 L617.66,76.63 L618.66,77.13 L619.67,77.61 L620.67,78.08 L621.67,78.53 L622.68,78.97 L623.68,79.39 L624.68,79.79 L625.69,80.18 L626.69,80.55 L627.69,80.92 L628.7,81.26 L629.7,81.59 L630.7,81.91 L631.71,82.22 L632.71,82.51 L633.71,82.79 L634.72,83.06 L635.72,83.32 L636.72,83.56 L637.73,83.79 L638.73,84.01 L639.73,84.22 L640.74,84.42 L641.74,84.61 L642.74,84.79 L643.75,84.96 L644.75,85.12 L645.75,85.27 L646.76,85.41 L647.76,85.54 L648.76,85.67 L649.77,85.78 L650.77,85.89 L651.77,85.99 L652.78,86.08 L653.78,86.17 L654.78,86.25 L655.79,86.32 L656.79,86.39 L657.79,86.45 L658.8,86.51 L659.8,86.56" stroke="#2a48c8" stroke-width="1.8" fill="none" stroke-linejoin="round"/>
<path d="M481.3,79.31 L483.53,78.87 L485.76,78.41 L487.99,77.93 L490.22,77.42 L492.45,76.88 L494.68,76.31 L496.91,75.71 L499.14,75.07 L501.37,74.41 L503.6,73.7 L505.83,72.96 L508.06,72.17 L510.29,71.35 L512.52,70.48 L514.75,69.56 L516.98,68.59 L519.21,67.57 L521.44,66.49 L523.67,65.35 L525.9,64.15 L528.13,62.89 L530.36,61.55 L532.59,60.15 L534.82,58.66 L537.05,57.1 L539.28,55.45 L541.51,53.71 L543.74,51.87 L545.97,49.94 L548.2,47.9 L550.43,45.75 L552.66,43.48 L554.89,41.08 L557.12,38.56 L559.35,35.89 L561.58,33.08 L563.81,30.12 L566.04,27 L568.27,23.7 L570.5,20.4 L571.5,22.05 L572.51,23.66 L573.51,25.24 L574.51,26.79 L575.52,28.3 L576.52,29.79 L577.52,31.24 L578.53,32.66 L579.53,34.06 L580.53,35.42 L581.54,36.75 L582.54,38.06 L583.54,39.34 L584.55,40.58 L585.55,41.8 L586.55,43 L587.56,44.16 L588.56,45.3 L589.56,46.42 L590.57,47.51 L591.57,48.57 L592.57,49.61 L593.58,50.62 L594.58,51.61 L595.58,52.57 L596.59,53.52 L597.59,54.43 L598.59,55.33 L599.6,56.21 L600.6,57.06 L601.6,57.89 L602.61,58.7 L603.61,59.49 L604.61,60.26 L605.62,61.01 L606.62,61.74 L607.62,62.45 L608.63,63.15 L609.63,63.82 L610.63,64.48 L611.64,65.12 L612.64,65.74 L613.64,66.35 L614.65,66.94 L615.65,67.51 L616.66,68.07 L617.66,68.62 L618.66,69.15 L619.67,69.66 L620.67,70.17 L621.67,70.65 L622.68,71.13 L623.68,71.59 L624.68,72.04 L625.69,72.48 L626.69,72.91 L627.69,73.33 L628.7,73.74 L629.7,74.13 L630.7,74.52 L631.71,74.9 L632.71,75.26 L633.71,75.62 L634.72,75.98 L635.72,76.32 L636.72,76.66 L637.73,76.99 L638.73,77.31 L639.73,77.63 L640.74,77.94 L641.74,78.25 L642.74,78.55 L643.75,78.84 L644.75,79.14 L645.75,79.42 L646.76,79.71 L647.76,79.99 L648.76,80.27 L649.77,80.55 L650.77,80.83 L651.77,81.1 L652.78,81.37 L653.78,81.65 L654.78,81.92 L655.79,82.19 L656.79,82.47 L657.79,82.74 L658.8,83.02 L659.8,83.3" stroke="#1d2a8a" stroke-width="1.8" fill="none" stroke-linejoin="round"/>
<line x1="631.2" y1="11.8" x2="640.9" y2="11.8" stroke="#111111" stroke-width="1.4"/>
<text font-size="6.7" text-anchor="start" fill="#262626" font-weight="normal" font-style="normal" font-family='"Liberation Sans", sans-serif' transform="translate(644.7 14.39) scale(1 1.08)" stroke="#262626" stroke-width="0.12">Open-loop</text>
<line x1="631.2" y1="22.6" x2="640.9" y2="22.6" stroke="#a6d0f6" stroke-width="1.4"/>
<text font-size="6.7" text-anchor="start" fill="#262626" font-weight="normal" font-style="normal" font-family='"Liberation Sans", sans-serif' transform="translate(644.7 25.19) scale(1 1.08)" stroke="#262626" stroke-width="0.12">top99%</text>
<line x1="631.2" y1="34.4" x2="640.9" y2="34.4" stroke="#6fa6ee" stroke-width="1.4"/>
<text font-size="6.7" text-anchor="start" fill="#262626" font-weight="normal" font-style="normal" font-family='"Liberation Sans", sans-serif' transform="translate(644.7 36.99) scale(1 1.08)" stroke="#262626" stroke-width="0.12">top50%</text>
<line x1="631.2" y1="46.1" x2="640.9" y2="46.1" stroke="#3a70e6" stroke-width="1.4"/>
<text font-size="6.7" text-anchor="start" fill="#262626" font-weight="normal" font-style="normal" font-family='"Liberation Sans", sans-serif' transform="translate(644.7 48.69) scale(1 1.08)" stroke="#262626" stroke-width="0.12">top1%</text>
<line x1="631.2" y1="57.6" x2="640.9" y2="57.6" stroke="#2a48c8" stroke-width="1.4"/>
<text font-size="6.7" text-anchor="start" fill="#262626" font-weight="normal" font-style="normal" font-family='"Liberation Sans", sans-serif' transform="translate(644.7 60.19) scale(1 1.08)" stroke="#262626" stroke-width="0.12">10xMean</text>
<line x1="631.2" y1="69.1" x2="640.9" y2="69.1" stroke="#1d2a8a" stroke-width="1.4"/>
<text font-size="6.7" text-anchor="start" fill="#262626" font-weight="normal" font-style="normal" font-family='"Liberation Sans", sans-serif' transform="translate(644.7 71.69) scale(1 1.08)" stroke="#262626" stroke-width="0.12">20xMean</text>
<text font-size="8.8" text-anchor="start" fill="#000" font-weight="bold" font-style="normal" font-family='"Liberation Sans", sans-serif' transform="translate(-0.3 130) scale(1 1.08)">d.</text>
<line x1="35.3" y1="136.8" x2="35.3" y2="237.9" stroke="#7a7a7a" stroke-width="0.7"/>
<line x1="35.3" y1="237.9" x2="198.2" y2="237.9" stroke="#7a7a7a" stroke-width="0.7"/>
<text font-size="8.1" text-anchor="end" fill="#262626" font-weight="normal" font-style="normal" font-family='"Liberation Sans", sans-serif' transform="translate(33.2 241.03) scale(1 1.08)" stroke="#262626" stroke-width="0.12">0.000</text>
<text font-size="8.1" text-anchor="end" fill="#262626" font-weight="normal" font-style="normal" font-family='"Liberation Sans", sans-serif' transform="translate(33.2 215.93) scale(1 1.08)" stroke="#262626" stroke-width="0.12">0.001</text>
<text font-size="8.1" text-anchor="end" fill="#262626" font-weight="normal" font-style="normal" font-family='"Liberation Sans", sans-serif' transform="translate(33.2 190.53) scale(1 1.08)" stroke="#262626" stroke-width="0.12">0.002</text>
<text font-size="8.1" text-anchor="end" fill="#262626" font-weight="normal" font-style="normal" font-family='"Liberation Sans", sans-serif' transform="translate(33.2 165.63) scale(1 1.08)" stroke="#262626" stroke-width="0.12">0.003</text>
<text font-size="8.1" text-anchor="end" fill="#262626" font-weight="normal" font-style="normal" font-family='"Liberation Sans", sans-serif' transform="translate(33.2 140.33) scale(1 1.08)" stroke="#262626" stroke-width="0.12">0.004</text>
<line x1="35.3" y1="237.9" x2="37.5" y2="237.9" stroke="#7a7a7a" stroke-width="0.4"/>
<line x1="35.3" y1="232.86" x2="36.6" y2="232.86" stroke="#7a7a7a" stroke-width="0.4"/>
<line x1="35.3" y1="227.82" x2="36.6" y2="227.82" stroke="#7a7a7a" stroke-width="0.4"/>
<line x1="35.3" y1="222.78" x2="36.6" y2="222.78" stroke="#7a7a7a" stroke-width="0.4"/>
<line x1="35.3" y1="217.74" x2="36.6" y2="217.74" stroke="#7a7a7a" stroke-width="0.4"/>
<line x1="35.3" y1="212.7" x2="37.5" y2="212.7" stroke="#7a7a7a" stroke-width="0.4"/>
<line x1="35.3" y1="207.66" x2="36.6" y2="207.66" stroke="#7a7a7a" stroke-width="0.4"/>
<line x1="35.3" y1="202.62" x2="36.6" y2="202.62" stroke="#7a7a7a" stroke-width="0.4"/>
<line x1="35.3" y1="197.58" x2="36.6" y2="197.58" stroke="#7a7a7a" stroke-width="0.4"/>
<line x1="35.3" y1="192.54" x2="36.6" y2="192.54" stroke="#7a7a7a" stroke-width="0.4"/>
<line x1="35.3" y1="187.5" x2="37.5" y2="187.5" stroke="#7a7a7a" stroke-width="0.4"/>
<line x1="35.3" y1="182.46" x2="36.6" y2="182.46" stroke="#7a7a7a" stroke-width="0.4"/>
<line x1="35.3" y1="177.42" x2="36.6" y2="177.42" stroke="#7a7a7a" stroke-width="0.4"/>
<line x1="35.3" y1="172.38" x2="36.6" y2="172.38" stroke="#7a7a7a" stroke-width="0.4"/>
<line x1="35.3" y1="167.34" x2="36.6" y2="167.34" stroke="#7a7a7a" stroke-width="0.4"/>
<line x1="35.3" y1="162.3" x2="37.5" y2="162.3" stroke="#7a7a7a" stroke-width="0.4"/>
<line x1="35.3" y1="157.26" x2="36.6" y2="157.26" stroke="#7a7a7a" stroke-width="0.4"/>
<line x1="35.3" y1="152.22" x2="36.6" y2="152.22" stroke="#7a7a7a" stroke-width="0.4"/>
<line x1="35.3" y1="147.18" x2="36.6" y2="147.18" stroke="#7a7a7a" stroke-width="0.4"/>
<line x1="35.3" y1="142.14" x2="36.6" y2="142.14" stroke="#7a7a7a" stroke-width="0.4"/>
<line x1="35.3" y1="137.1" x2="37.5" y2="137.1" stroke="#7a7a7a" stroke-width="0.4"/>
<text font-size="8.1" text-anchor="middle" fill="#262626" font-weight="normal" font-style="normal" font-family='"Liberation Sans", sans-serif' transform="translate(35 247.53) scale(1 1.08)" stroke="#262626" stroke-width="0.12">0</text>
<text font-size="8.1" text-anchor="middle" fill="#262626" font-weight="normal" font-style="normal" font-family='"Liberation Sans", sans-serif' transform="translate(78.25 247.53) scale(1 1.08)" stroke="#262626" stroke-width="0.12">500</text>
<text font-size="8.1" text-anchor="middle" fill="#262626" font-weight="normal" font-style="normal" font-family='"Liberation Sans", sans-serif' transform="translate(121.5 247.53) scale(1 1.08)" stroke="#262626" stroke-width="0.12">1000</text>
<text font-size="8.1" text-anchor="middle" fill="#262626" font-weight="normal" font-style="normal" font-family='"Liberation Sans", sans-serif' transform="translate(164.75 247.53) scale(1 1.08)" stroke="#262626" stroke-width="0.12">1500</text>
<line x1="35" y1="237.9" x2="35" y2="235.8" stroke="#7a7a7a" stroke-width="0.4"/>
<line x1="43.65" y1="237.9" x2="43.65" y2="236.6" stroke="#7a7a7a" stroke-width="0.4"/>
<line x1="52.3" y1="237.9" x2="52.3" y2="236.6" stroke="#7a7a7a" stroke-width="0.4"/>
<line x1="60.95" y1="237.9" x2="60.95" y2="236.6" stroke="#7a7a7a" stroke-width="0.4"/>
<line x1="69.6" y1="237.9" x2="69.6" y2="236.6" stroke="#7a7a7a" stroke-width="0.4"/>
<line x1="78.25" y1="237.9" x2="78.25" y2="235.8" stroke="#7a7a7a" stroke-width="0.4"/>
<line x1="86.9" y1="237.9" x2="86.9" y2="236.6" stroke="#7a7a7a" stroke-width="0.4"/>
<line x1="95.55" y1="237.9" x2="95.55" y2="236.6" stroke="#7a7a7a" stroke-width="0.4"/>
<line x1="104.2" y1="237.9" x2="104.2" y2="236.6" stroke="#7a7a7a" stroke-width="0.4"/>
<line x1="112.85" y1="237.9" x2="112.85" y2="236.6" stroke="#7a7a7a" stroke-width="0.4"/>
<line x1="121.5" y1="237.9" x2="121.5" y2="235.8" stroke="#7a7a7a" stroke-width="0.4"/>
<line x1="130.15" y1="237.9" x2="130.15" y2="236.6" stroke="#7a7a7a" stroke-width="0.4"/>
<line x1="138.8" y1="237.9" x2="138.8" y2="236.6" stroke="#7a7a7a" stroke-width="0.4"/>
<line x1="147.45" y1="237.9" x2="147.45" y2="236.6" stroke="#7a7a7a" stroke-width="0.4"/>
<line x1="156.1" y1="237.9" x2="156.1" y2="236.6" stroke="#7a7a7a" stroke-width="0.4"/>
<line x1="164.75" y1="237.9" x2="164.75" y2="235.8" stroke="#7a7a7a" stroke-width="0.4"/>
<line x1="173.4" y1="237.9" x2="173.4" y2="236.6" stroke="#7a7a7a" stroke-width="0.4"/>
<line x1="182.05" y1="237.9" x2="182.05" y2="236.6" stroke="#7a7a7a" stroke-width="0.4"/>
<line x1="190.7" y1="237.9" x2="190.7" y2="236.6" stroke="#7a7a7a" stroke-width="0.4"/>
<text font-size="7.95" text-anchor="middle" fill="#1a1a1a" font-weight="normal" font-style="normal" font-family='"Liberation Sans", sans-serif' transform="translate(9.8 190.5) rotate(-90) scale(1 1.08)" stroke="#1a1a1a" stroke-width="0.12">Probability Density</text>
<line x1="12.8" y1="249.4" x2="198" y2="249.4" stroke="#ccc" stroke-width="0.6"/>
<text font-size="7.9" text-anchor="start" fill="#1a1a1a" font-weight="normal" font-style="normal" font-family='"Liberation Sans", sans-serif' transform="translate(43.8 254.6) scale(1 1.08)" stroke="#1a1a1a" stroke-width="0.12">Protein Concentration (arb. units)</text>
<path d="M35,237.9 L35.68,237.9 L36.36,237.9 L37.04,237.9 L37.72,237.9 L38.4,237.9 L39.08,237.9 L39.76,237.88 L40.44,237.86 L41.12,237.8 L41.8,237.69 L42.48,237.5 L43.17,237.19 L43.85,236.72 L44.53,236.03 L45.21,235.07 L45.89,233.8 L46.57,232.17 L47.25,230.14 L47.93,227.68 L48.61,224.78 L49.29,221.44 L49.97,217.68 L50.65,213.52 L51.33,209.01 L52.01,204.22 L52.69,199.19 L53.37,194.02 L54.05,188.78 L54.73,183.55 L55.41,178.42 L56.09,173.46 L56.77,168.75 L57.45,164.36 L58.13,160.35 L58.81,156.76 L59.5,153.65 L60.18,151.02 L60.86,148.92 L61.54,147.34 L62.22,146.28 L62.9,145.75 L63.58,145.71 L64.26,146.16 L64.94,147.05 L65.62,148.36 L66.3,150.04 L66.98,152.07 L67.66,154.4 L68.34,156.99 L69.02,159.8 L69.7,162.78 L70.38,165.91 L71.06,169.14 L71.74,172.44 L72.42,175.77 L73.1,179.12 L73.78,182.44 L74.46,185.73 L75.14,188.95 L75.83,192.1 L76.51,195.15 L77.19,198.1 L77.87,200.93 L78.55,203.64 L79.23,206.22 L79.91,208.67 L80.59,210.99 L81.27,213.18 L81.95,215.23 L82.63,217.15 L83.31,218.95 L83.99,220.62 L84.67,222.17 L85.35,223.61 L86.03,224.93 L86.71,226.16 L87.39,227.28 L88.07,228.31 L88.75,229.26 L89.43,230.12 L90.11,230.91 L90.79,231.62 L91.47,232.27 L92.16,232.86 L92.84,233.4 L93.52,233.88 L94.2,234.31 L94.88,234.71 L95.56,235.06 L96.24,235.37 L96.92,235.66 L97.6,235.91 L98.28,236.14 L98.96,236.34 L99.64,236.52 L100.32,236.68 L101,236.83 L101.68,236.96 L102.36,237.07 L103.04,237.17 L103.72,237.26 L104.4,237.34 L105.08,237.4 L105.76,237.47 L106.44,237.52 L107.12,237.57 L107.8,237.61 L108.49,237.65 L109.17,237.68 L109.85,237.71 L110.53,237.73 L111.21,237.75 L111.89,237.77 L112.57,237.79 L113.25,237.8 L113.93,237.82 L114.61,237.83 L115.29,237.84 L115.97,237.85 L116.65,237.85 L117.33,237.86 L118.01,237.86 L118.69,237.87 L119.37,237.87 L120.05,237.88 L120.73,237.88 L121.41,237.88 L122.09,237.89 L122.77,237.89 L123.45,237.89 L124.13,237.89 L124.82,237.89 L125.5,237.89 L126.18,237.89 L126.86,237.89 L127.54,237.9 L128.22,237.9 L128.9,237.9 L129.58,237.9 L130.26,237.9 L130.94,237.9 L131.62,237.9 L132.3,237.9 L132.98,237.9 L133.66,237.9 L134.34,237.9 L135.02,237.9 L135.7,237.9 L136.38,237.9 L137.06,237.9 L137.74,237.9 L138.42,237.9 L139.1,237.9 L139.78,237.9 L140.46,237.9 L141.15,237.9 L141.83,237.9 L142.51,237.9 L143.19,237.9 L143.87,237.9 L144.55,237.9 L145.23,237.9 L145.91,237.9 L146.59,237.9 L147.27,237.9 L147.95,237.9 L148.63,237.9 L149.31,237.9 L149.99,237.9 L150.67,237.9 L151.35,237.9 L152.03,237.9 L152.71,237.9 L153.39,237.9 L154.07,237.9 L154.75,237.9 L155.43,237.9 L156.11,237.9 L156.79,237.9 L157.48,237.9 L158.16,237.9 L158.84,237.9 L159.52,237.9 L160.2,237.9 L160.88,237.9 L161.56,237.9 L162.24,237.9 L162.92,237.9 L163.6,237.9 L164.28,237.9 L164.96,237.9 L165.64,237.9 L166.32,237.9 L167,237.9 L167.68,237.9 L168.36,237.9 L169.04,237.9 L169.72,237.9 L170.4,237.9 L171.08,237.9 L171.76,237.9 L172.44,237.9 L173.12,237.9 L173.81,237.9 L174.49,237.9 L175.17,237.9 L175.85,237.9 L176.53,237.9 L177.21,237.9 L177.89,237.9 L178.57,237.9 L179.25,237.9 L179.93,237.9 L180.61,237.9 L181.29,237.9 L181.97,237.9 L182.65,237.9 L183.33,237.9 L184.01,237.9 L184.69,237.9 L185.37,237.9 L186.05,237.9 L186.73,237.9 L187.41,237.9 L188.09,237.9 L188.77,237.9 L189.45,237.9 L190.14,237.9 L190.82,237.9 L191.5,237.9 L192.18,237.9 L192.86,237.9 L193.54,237.9 L194.22,237.9 L194.9,237.9 L195.58,237.9 L196.26,237.9 L196.94,237.9 L197.62,237.9" stroke="#111111" stroke-width="1.7" fill="none" stroke-linejoin="round"/>
<path d="M35,237.9 L35.68,237.9 L36.36,237.9 L37.04,237.9 L37.72,237.9 L38.4,237.9 L39.08,237.9 L39.76,237.9 L40.44,237.9 L41.12,237.9 L41.8,237.9 L42.48,237.9 L43.17,237.89 L43.85,237.89 L44.53,237.87 L45.21,237.84 L45.89,237.78 L46.57,237.69 L47.25,237.54 L47.93,237.32 L48.61,236.99 L49.29,236.54 L49.97,235.91 L50.65,235.08 L51.33,234.01 L52.01,232.66 L52.69,231 L53.37,228.99 L54.05,226.63 L54.73,223.89 L55.41,220.76 L56.09,217.27 L56.77,213.42 L57.45,209.25 L58.13,204.79 L58.81,200.11 L59.5,195.25 L60.18,190.28 L60.86,185.27 L61.54,180.3 L62.22,175.43 L62.9,170.74 L63.58,166.3 L64.26,162.17 L64.94,158.4 L65.62,155.05 L66.3,152.15 L66.98,149.73 L67.66,147.82 L68.34,146.42 L69.02,145.54 L69.7,145.18 L70.38,145.31 L71.06,145.92 L71.74,146.97 L72.42,148.45 L73.1,150.31 L73.78,152.51 L74.46,155.01 L75.14,157.77 L75.83,160.75 L76.51,163.91 L77.19,167.21 L77.87,170.6 L78.55,174.06 L79.23,177.55 L79.91,181.03 L80.59,184.48 L81.27,187.88 L81.95,191.21 L82.63,194.44 L83.31,197.57 L83.99,200.57 L84.67,203.44 L85.35,206.18 L86.03,208.77 L86.71,211.22 L87.39,213.52 L88.07,215.67 L88.75,217.68 L89.43,219.55 L90.11,221.29 L90.79,222.89 L91.47,224.36 L92.16,225.72 L92.84,226.96 L93.52,228.09 L94.2,229.13 L94.88,230.06 L95.56,230.92 L96.24,231.68 L96.92,232.38 L97.6,233 L98.28,233.57 L98.96,234.07 L99.64,234.52 L100.32,234.92 L101,235.28 L101.68,235.6 L102.36,235.88 L103.04,236.13 L103.72,236.35 L104.4,236.55 L105.08,236.72 L105.76,236.87 L106.44,237.01 L107.12,237.12 L107.8,237.23 L108.49,237.32 L109.17,237.39 L109.85,237.46 L110.53,237.52 L111.21,237.57 L111.89,237.62 L112.57,237.66 L113.25,237.69 L113.93,237.72 L114.61,237.75 L115.29,237.77 L115.97,237.79 L116.65,237.8 L117.33,237.82 L118.01,237.83 L118.69,237.84 L119.37,237.85 L120.05,237.86 L120.73,237.86 L121.41,237.87 L122.09,237.87 L122.77,237.88 L123.45,237.88 L124.13,237.88 L124.82,237.89 L125.5,237.89 L126.18,237.89 L126.86,237.89 L127.54,237.89 L128.22,237.89 L128.9,237.89 L129.58,237.9 L130.26,237.9 L130.94,237.9 L131.62,237.9 L132.3,237.9 L132.98,237.9 L133.66,237.9 L134.34,237.9 L135.02,237.9 L135.7,237.9 L136.38,237.9 L137.06,237.9 L137.74,237.9 L138.42,237.9 L139.1,237.9 L139.78,237.9 L140.46,237.9 L141.15,237.9 L141.83,237.9 L142.51,237.9 L143.19,237.9 L143.87,237.9 L144.55,237.9 L145.23,237.9 L145.91,237.9 L146.59,237.9 L147.27,237.9 L147.95,237.9 L148.63,237.9 L149.31,237.9 L149.99,237.9 L150.67,237.9 L151.35,237.9 L152.03,237.9 L152.71,237.9 L153.39,237.9 L154.07,237.9 L154.75,237.9 L155.43,237.9 L156.11,237.9 L156.79,237.9 L157.48,237.9 L158.16,237.9 L158.84,237.9 L159.52,237.9 L160.2,237.9 L160.88,237.9 L161.56,237.9 L162.24,237.9 L162.92,237.9 L163.6,237.9 L164.28,237.9 L164.96,237.9 L165.64,237.9 L166.32,237.9 L167,237.9 L167.68,237.9 L168.36,237.9 L169.04,237.9 L169.72,237.9 L170.4,237.9 L171.08,237.9 L171.76,237.9 L172.44,237.9 L173.12,237.9 L173.81,237.9 L174.49,237.9 L175.17,237.9 L175.85,237.9 L176.53,237.9 L177.21,237.9 L177.89,237.9 L178.57,237.9 L179.25,237.9 L179.93,237.9 L180.61,237.9 L181.29,237.9 L181.97,237.9 L182.65,237.9 L183.33,237.9 L184.01,237.9 L184.69,237.9 L185.37,237.9 L186.05,237.9 L186.73,237.9 L187.41,237.9 L188.09,237.9 L188.77,237.9 L189.45,237.9 L190.14,237.9 L190.82,237.9 L191.5,237.9 L192.18,237.9 L192.86,237.9 L193.54,237.9 L194.22,237.9 L194.9,237.9 L195.58,237.9 L196.26,237.9 L196.94,237.9 L197.62,237.9" stroke="#a6d0f6" stroke-width="1.7" fill="none" stroke-linejoin="round"/>
<path d="M35,237.9 L35.68,237.9 L36.36,237.9 L37.04,237.9 L37.72,237.9 L38.4,237.9 L39.08,237.9 L39.76,237.9 L40.44,237.9 L41.12,237.9 L41.8,237.9 L42.48,237.9 L43.17,237.9 L43.85,237.9 L44.53,237.9 L45.21,237.9 L45.89,237.9 L46.57,237.89 L47.25,237.88 L47.93,237.87 L48.61,237.85 L49.29,237.81 L49.97,237.76 L50.65,237.67 L51.33,237.55 L52.01,237.37 L52.69,237.12 L53.37,236.79 L54.05,236.34 L54.73,235.77 L55.41,235.05 L56.09,234.15 L56.77,233.06 L57.45,231.74 L58.13,230.18 L58.81,228.37 L59.5,226.29 L60.18,223.94 L60.86,221.32 L61.54,218.42 L62.22,215.28 L62.9,211.89 L63.58,208.3 L64.26,204.52 L64.94,200.61 L65.62,196.58 L66.3,192.5 L66.98,188.41 L67.66,184.35 L68.34,180.38 L69.02,176.54 L69.7,172.88 L70.38,169.43 L71.06,166.25 L71.74,163.37 L72.42,160.81 L73.1,158.59 L73.78,156.75 L74.46,155.29 L75.14,154.22 L75.83,153.54 L76.51,153.24 L77.19,153.33 L77.87,153.77 L78.55,154.57 L79.23,155.69 L79.91,157.12 L80.59,158.83 L81.27,160.78 L81.95,162.96 L82.63,165.33 L83.31,167.86 L83.99,170.53 L84.67,173.31 L85.35,176.16 L86.03,179.07 L86.71,182 L87.39,184.94 L88.07,187.87 L88.75,190.77 L89.43,193.61 L90.11,196.39 L90.79,199.1 L91.47,201.72 L92.16,204.24 L92.84,206.66 L93.52,208.98 L94.2,211.18 L94.88,213.27 L95.56,215.24 L96.24,217.1 L96.92,218.85 L97.6,220.48 L98.28,222.01 L98.96,223.43 L99.64,224.75 L100.32,225.97 L101,227.1 L101.68,228.13 L102.36,229.09 L103.04,229.96 L103.72,230.76 L104.4,231.49 L105.08,232.15 L105.76,232.75 L106.44,233.3 L107.12,233.8 L107.8,234.24 L108.49,234.65 L109.17,235.01 L109.85,235.33 L110.53,235.63 L111.21,235.89 L111.89,236.12 L112.57,236.33 L113.25,236.52 L113.93,236.68 L114.61,236.83 L115.29,236.96 L115.97,237.08 L116.65,237.18 L117.33,237.27 L118.01,237.35 L118.69,237.42 L119.37,237.48 L120.05,237.53 L120.73,237.58 L121.41,237.62 L122.09,237.66 L122.77,237.69 L123.45,237.72 L124.13,237.74 L124.82,237.76 L125.5,237.78 L126.18,237.8 L126.86,237.81 L127.54,237.82 L128.22,237.84 L128.9,237.84 L129.58,237.85 L130.26,237.86 L130.94,237.86 L131.62,237.87 L132.3,237.87 L132.98,237.88 L133.66,237.88 L134.34,237.88 L135.02,237.89 L135.7,237.89 L136.38,237.89 L137.06,237.89 L137.74,237.89 L138.42,237.89 L139.1,237.89 L139.78,237.9 L140.46,237.9 L141.15,237.9 L141.83,237.9 L142.51,237.9 L143.19,237.9 L143.87,237.9 L144.55,237.9 L145.23,237.9 L145.91,237.9 L146.59,237.9 L147.27,237.9 L147.95,237.9 L148.63,237.9 L149.31,237.9 L149.99,237.9 L150.67,237.9 L151.35,237.9 L152.03,237.9 L152.71,237.9 L153.39,237.9 L154.07,237.9 L154.75,237.9 L155.43,237.9 L156.11,237.9 L156.79,237.9 L157.48,237.9 L158.16,237.9 L158.84,237.9 L159.52,237.9 L160.2,237.9 L160.88,237.9 L161.56,237.9 L162.24,237.9 L162.92,237.9 L163.6,237.9 L164.28,237.9 L164.96,237.9 L165.64,237.9 L166.32,237.9 L167,237.9 L167.68,237.9 L168.36,237.9 L169.04,237.9 L169.72,237.9 L170.4,237.9 L171.08,237.9 L171.76,237.9 L172.44,237.9 L173.12,237.9 L173.81,237.9 L174.49,237.9 L175.17,237.9 L175.85,237.9 L176.53,237.9 L177.21,237.9 L177.89,237.9 L178.57,237.9 L179.25,237.9 L179.93,237.9 L180.61,237.9 L181.29,237.9 L181.97,237.9 L182.65,237.9 L183.33,237.9 L184.01,237.9 L184.69,237.9 L185.37,237.9 L186.05,237.9 L186.73,237.9 L187.41,237.9 L188.09,237.9 L188.77,237.9 L189.45,237.9 L190.14,237.9 L190.82,237.9 L191.5,237.9 L192.18,237.9 L192.86,237.9 L193.54,237.9 L194.22,237.9 L194.9,237.9 L195.58,237.9 L196.26,237.9 L196.94,237.9 L197.62,237.9" stroke="#6fa6ee" stroke-width="1.7" fill="none" stroke-linejoin="round"/>
<path d="M35,237.9 L35.68,237.9 L36.36,237.9 L37.04,237.9 L37.72,237.9 L38.4,237.9 L39.08,237.9 L39.76,237.9 L40.44,237.9 L41.12,237.9 L41.8,237.9 L42.48,237.9 L43.17,237.9 L43.85,237.9 L44.53,237.9 L45.21,237.9 L45.89,237.9 L46.57,237.9 L47.25,237.9 L47.93,237.9 L48.61,237.9 L49.29,237.9 L49.97,237.9 L50.65,237.89 L51.33,237.89 L52.01,237.88 L52.69,237.86 L53.37,237.84 L54.05,237.79 L54.73,237.73 L55.41,237.65 L56.09,237.52 L56.77,237.34 L57.45,237.1 L58.13,236.79 L58.81,236.37 L59.5,235.83 L60.18,235.15 L60.86,234.31 L61.54,233.28 L62.22,232.04 L62.9,230.57 L63.58,228.85 L64.26,226.87 L64.94,224.62 L65.62,222.08 L66.3,219.27 L66.98,216.19 L67.66,212.85 L68.34,209.28 L69.02,205.49 L69.7,201.53 L70.38,197.43 L71.06,193.24 L71.74,188.99 L72.42,184.75 L73.1,180.56 L73.78,176.48 L74.46,172.56 L75.14,168.83 L75.83,165.37 L76.51,162.19 L77.19,159.34 L77.87,156.86 L78.55,154.76 L79.23,153.07 L79.91,151.79 L80.59,150.94 L81.27,150.51 L81.95,150.5 L82.63,150.9 L83.31,151.68 L83.99,152.84 L84.67,154.33 L85.35,156.14 L86.03,158.23 L86.71,160.58 L87.39,163.14 L88.07,165.89 L88.75,168.78 L89.43,171.8 L90.11,174.9 L90.79,178.06 L91.47,181.25 L92.16,184.44 L92.84,187.61 L93.52,190.74 L94.2,193.8 L94.88,196.79 L95.56,199.68 L96.24,202.47 L96.92,205.14 L97.6,207.7 L98.28,210.12 L98.96,212.42 L99.64,214.59 L100.32,216.62 L101,218.52 L101.68,220.3 L102.36,221.95 L103.04,223.47 L103.72,224.88 L104.4,226.18 L105.08,227.37 L105.76,228.46 L106.44,229.46 L107.12,230.36 L107.8,231.18 L108.49,231.92 L109.17,232.59 L109.85,233.2 L110.53,233.74 L111.21,234.23 L111.89,234.66 L112.57,235.05 L113.25,235.4 L113.93,235.71 L114.61,235.98 L115.29,236.22 L115.97,236.44 L116.65,236.63 L117.33,236.79 L118.01,236.94 L118.69,237.06 L119.37,237.18 L120.05,237.27 L120.73,237.36 L121.41,237.43 L122.09,237.5 L122.77,237.56 L123.45,237.6 L124.13,237.65 L124.82,237.68 L125.5,237.71 L126.18,237.74 L126.86,237.76 L127.54,237.78 L128.22,237.8 L128.9,237.82 L129.58,237.83 L130.26,237.84 L130.94,237.85 L131.62,237.86 L132.3,237.86 L132.98,237.87 L133.66,237.87 L134.34,237.88 L135.02,237.88 L135.7,237.88 L136.38,237.89 L137.06,237.89 L137.74,237.89 L138.42,237.89 L139.1,237.89 L139.78,237.89 L140.46,237.9 L141.15,237.9 L141.83,237.9 L142.51,237.9 L143.19,237.9 L143.87,237.9 L144.55,237.9 L145.23,237.9 L145.91,237.9 L146.59,237.9 L147.27,237.9 L147.95,237.9 L148.63,237.9 L149.31,237.9 L149.99,237.9 L150.67,237.9 L151.35,237.9 L152.03,237.9 L152.71,237.9 L153.39,237.9 L154.07,237.9 L154.75,237.9 L155.43,237.9 L156.11,237.9 L156.79,237.9 L157.48,237.9 L158.16,237.9 L158.84,237.9 L159.52,237.9 L160.2,237.9 L160.88,237.9 L161.56,237.9 L162.24,237.9 L162.92,237.9 L163.6,237.9 L164.28,237.9 L164.96,237.9 L165.64,237.9 L166.32,237.9 L167,237.9 L167.68,237.9 L168.36,237.9 L169.04,237.9 L169.72,237.9 L170.4,237.9 L171.08,237.9 L171.76,237.9 L172.44,237.9 L173.12,237.9 L173.81,237.9 L174.49,237.9 L175.17,237.9 L175.85,237.9 L176.53,237.9 L177.21,237.9 L177.89,237.9 L178.57,237.9 L179.25,237.9 L179.93,237.9 L180.61,237.9 L181.29,237.9 L181.97,237.9 L182.65,237.9 L183.33,237.9 L184.01,237.9 L184.69,237.9 L185.37,237.9 L186.05,237.9 L186.73,237.9 L187.41,237.9 L188.09,237.9 L188.77,237.9 L189.45,237.9 L190.14,237.9 L190.82,237.9 L191.5,237.9 L192.18,237.9 L192.86,237.9 L193.54,237.9 L194.22,237.9 L194.9,237.9 L195.58,237.9 L196.26,237.9 L196.94,237.9 L197.62,237.9" stroke="#3a70e6" stroke-width="1.7" fill="none" stroke-linejoin="round"/>
<path d="M35.3,237.9 L36.04,237.9 L36.79,237.9 L37.53,237.9 L38.27,237.9 L39.01,237.9 L39.76,237.9 L40.5,237.9 L41.24,237.9 L41.99,237.9 L42.73,237.9 L43.47,237.9 L44.22,237.9 L44.96,237.9 L45.7,237.9 L46.44,237.9 L47.19,237.9 L47.93,237.9 L48.67,237.9 L49.42,237.9 L50.16,237.9 L50.9,237.9 L51.64,237.9 L52.39,237.9 L53.13,237.9 L53.87,237.9 L54.62,237.9 L55.36,237.9 L56.1,237.9 L56.84,237.9 L57.59,237.9 L58.33,237.9 L59.07,237.9 L59.82,237.9 L60.56,237.9 L61.3,237.9 L62.05,237.9 L62.79,237.9 L63.53,237.9 L64.27,237.9 L65.02,237.9 L65.76,237.9 L66.5,237.9 L67.25,237.9 L67.99,237.9 L68.73,237.9 L69.47,237.9 L70.22,237.9 L70.96,237.9 L71.7,237.9 L72.45,237.9 L73.19,237.9 L73.93,237.9 L74.67,237.9 L75.42,237.9 L76.16,237.9 L76.9,237.9 L77.65,237.9 L78.39,237.9 L79.13,237.87 L79.88,237.83 L80.62,237.76 L81.36,237.68 L82.1,237.58 L82.85,237.39 L83.59,237.08 L84.33,236.65 L85.08,236.13 L85.82,235.55 L86.56,234.82 L87.3,233.75 L88.05,232.43 L88.79,230.96 L89.53,229.43 L90.28,227.76 L91.02,225.86 L91.76,223.83 L92.51,221.71 L93.25,219.59 L93.99,217.38 L94.73,215.09 L95.48,212.75 L96.22,210.39 L96.96,208.03 L97.71,205.62 L98.45,203.19 L99.19,200.77 L99.93,198.41 L100.68,196.08 L101.42,193.75 L102.16,191.46 L102.91,189.22 L103.65,187.08 L104.39,185.04 L105.13,183.1 L105.88,181.22 L106.62,179.4 L107.36,177.61 L108.11,175.84 L108.85,173.96 L109.59,172.06 L110.34,170.39 L111.08,169.2 L111.82,168.27 L112.56,167.45 L113.31,166.85 L114.05,166.6 L114.79,167.03 L115.54,168.23 L116.28,169.85 L117.02,171.55 L117.76,173.49 L118.51,175.87 L119.25,178.42 L119.99,180.87 L120.74,183.13 L121.48,185.34 L122.22,187.54 L122.96,189.73 L123.71,191.93 L124.45,194.16 L125.19,196.42 L125.94,198.71 L126.68,200.98 L127.42,203.22 L128.17,205.39 L128.91,207.51 L129.65,209.6 L130.39,211.65 L131.14,213.66 L131.88,215.63 L132.62,217.58 L133.37,219.57 L134.11,221.53 L134.85,223.38 L135.59,225.03 L136.34,226.42 L137.08,227.63 L137.82,228.72 L138.57,229.7 L139.31,230.59 L140.05,231.4 L140.79,232.16 L141.54,232.83 L142.28,233.35 L143.02,233.77 L143.77,234.13 L144.51,234.44 L145.25,234.73 L146,235 L146.74,235.27 L147.48,235.53 L148.22,235.78 L148.97,235.99 L149.71,236.15 L150.45,236.27 L151.2,236.36 L151.94,236.45 L152.68,236.52 L153.42,236.59 L154.17,236.65 L154.91,236.71 L155.65,236.76 L156.4,236.82 L157.14,236.87 L157.88,236.92 L158.63,236.97 L159.37,237.03 L160.11,237.08 L160.85,237.13 L161.6,237.19 L162.34,237.24 L163.08,237.28 L163.83,237.33 L164.57,237.38 L165.31,237.42 L166.05,237.46 L166.8,237.49 L167.54,237.53 L168.28,237.55 L169.03,237.58 L169.77,237.6 L170.51,237.61 L171.25,237.62 L172,237.64 L172.74,237.65 L173.48,237.67 L174.23,237.68 L174.97,237.69 L175.71,237.7 L176.46,237.72 L177.2,237.73 L177.94,237.74 L178.68,237.75 L179.43,237.76 L180.17,237.77 L180.91,237.78 L181.66,237.79 L182.4,237.8 L183.14,237.81 L183.88,237.82 L184.63,237.83 L185.37,237.83 L186.11,237.84 L186.86,237.85 L187.6,237.85 L188.34,237.86 L189.08,237.87 L189.83,237.87 L190.57,237.88 L191.31,237.88 L192.06,237.88 L192.8,237.89 L193.54,237.89 L194.29,237.89 L195.03,237.9 L195.77,237.9 L196.51,237.9 L197.26,237.9 L198,237.9" stroke="#2a48c8" stroke-width="1.7" fill="none" stroke-linejoin="round"/>
<path d="M35.3,237.9 L36.04,237.9 L36.79,237.9 L37.53,237.9 L38.27,237.9 L39.01,237.9 L39.76,237.9 L40.5,237.9 L41.24,237.9 L41.99,237.9 L42.73,237.9 L43.47,237.9 L44.22,237.9 L44.96,237.9 L45.7,237.9 L46.44,237.9 L47.19,237.9 L47.93,237.9 L48.67,237.9 L49.42,237.9 L50.16,237.9 L50.9,237.9 L51.64,237.9 L52.39,237.9 L53.13,237.9 L53.87,237.9 L54.62,237.9 L55.36,237.9 L56.1,237.9 L56.84,237.9 L57.59,237.9 L58.33,237.9 L59.07,237.9 L59.82,237.9 L60.56,237.9 L61.3,237.9 L62.05,237.9 L62.79,237.9 L63.53,237.9 L64.27,237.9 L65.02,237.9 L65.76,237.9 L66.5,237.9 L67.25,237.9 L67.99,237.9 L68.73,237.9 L69.47,237.9 L70.22,237.9 L70.96,237.9 L71.7,237.9 L72.45,237.9 L73.19,237.9 L73.93,237.9 L74.67,237.9 L75.42,237.9 L76.16,237.9 L76.9,237.9 L77.65,237.9 L78.39,237.9 L79.13,237.9 L79.88,237.9 L80.62,237.9 L81.36,237.9 L82.1,237.9 L82.85,237.9 L83.59,237.9 L84.33,237.9 L85.08,237.9 L85.82,237.9 L86.56,237.9 L87.3,237.9 L88.05,237.9 L88.79,237.9 L89.53,237.9 L90.28,237.9 L91.02,237.9 L91.76,237.9 L92.51,237.9 L93.25,237.9 L93.99,237.9 L94.73,237.9 L95.48,237.9 L96.22,237.9 L96.96,237.86 L97.71,237.79 L98.45,237.68 L99.19,237.56 L99.93,237.41 L100.68,237.21 L101.42,236.9 L102.16,236.5 L102.91,236.04 L103.65,235.54 L104.39,235.02 L105.13,234.41 L105.88,233.71 L106.62,232.94 L107.36,232.09 L108.11,231.16 L108.85,230.11 L109.59,228.9 L110.34,227.57 L111.08,226.15 L111.82,224.67 L112.56,223.1 L113.31,221.4 L114.05,219.59 L114.79,217.69 L115.54,215.72 L116.28,213.71 L117.02,211.6 L117.76,209.38 L118.51,207.1 L119.25,204.8 L119.99,202.52 L120.74,200.28 L121.48,198.02 L122.22,195.76 L122.96,193.51 L123.71,191.2 L124.45,188.81 L125.19,186.52 L125.94,184.49 L126.68,182.81 L127.42,181.31 L128.17,180.01 L128.91,178.91 L129.65,177.93 L130.39,177.12 L131.14,176.57 L131.88,176.09 L132.62,175.77 L133.37,175.72 L134.11,175.91 L134.85,176.25 L135.59,176.65 L136.34,177.22 L137.08,177.99 L137.82,178.88 L138.57,179.81 L139.31,180.76 L140.05,181.82 L140.79,182.94 L141.54,184.06 L142.28,185.16 L143.02,186.27 L143.77,187.4 L144.51,188.51 L145.25,189.59 L146,190.69 L146.74,191.91 L147.48,193.26 L148.22,194.77 L148.97,196.48 L149.71,198.46 L150.45,200.63 L151.2,202.9 L151.94,205.39 L152.68,208.05 L153.42,210.62 L154.17,212.88 L154.91,215.02 L155.65,217.06 L156.4,218.95 L157.14,220.61 L157.88,222 L158.63,223.25 L159.37,224.41 L160.11,225.46 L160.85,226.41 L161.6,227.27 L162.34,228.04 L163.08,228.74 L163.83,229.39 L164.57,230.01 L165.31,230.58 L166.05,231.11 L166.8,231.6 L167.54,232.06 L168.28,232.48 L169.03,232.86 L169.77,233.22 L170.51,233.57 L171.25,233.89 L172,234.19 L172.74,234.46 L173.48,234.7 L174.23,234.91 L174.97,235.08 L175.71,235.24 L176.46,235.38 L177.2,235.51 L177.94,235.63 L178.68,235.74 L179.43,235.84 L180.17,235.94 L180.91,236.04 L181.66,236.14 L182.4,236.24 L183.14,236.34 L183.88,236.44 L184.63,236.54 L185.37,236.63 L186.11,236.73 L186.86,236.81 L187.6,236.9 L188.34,236.98 L189.08,237.05 L189.83,237.12 L190.57,237.19 L191.31,237.25 L192.06,237.31 L192.8,237.37 L193.54,237.43 L194.29,237.48 L195.03,237.53 L195.77,237.58 L196.51,237.62 L197.26,237.66 L198,237.7" stroke="#1d2a8a" stroke-width="1.7" fill="none" stroke-linejoin="round"/>
<line x1="155.9" y1="147.7" x2="165.4" y2="147.7" stroke="#111111" stroke-width="1.3"/>
<text font-size="6.7" text-anchor="start" fill="#262626" font-weight="normal" font-style="normal" font-family='"Liberation Sans", sans-serif' transform="translate(169.8 150.29) scale(1 1.08)" stroke="#262626" stroke-width="0.12">Open-loop</text>
<line x1="155.9" y1="159.2" x2="165.4" y2="159.2" stroke="#a6d0f6" stroke-width="1.3"/>
<text font-size="6.7" text-anchor="start" fill="#262626" font-weight="normal" font-style="normal" font-family='"Liberation Sans", sans-serif' transform="translate(169.8 161.79) scale(1 1.08)" stroke="#262626" stroke-width="0.12">top99%</text>
<line x1="155.9" y1="171" x2="165.4" y2="171" stroke="#6fa6ee" stroke-width="1.3"/>
<text font-size="6.7" text-anchor="start" fill="#262626" font-weight="normal" font-style="normal" font-family='"Liberation Sans", sans-serif' transform="translate(169.8 173.59) scale(1 1.08)" stroke="#262626" stroke-width="0.12">top50%</text>
<line x1="155.9" y1="182.9" x2="165.4" y2="182.9" stroke="#3a70e6" stroke-width="1.3"/>
<text font-size="6.7" text-anchor="start" fill="#262626" font-weight="normal" font-style="normal" font-family='"Liberation Sans", sans-serif' transform="translate(169.8 185.49) scale(1 1.08)" stroke="#262626" stroke-width="0.12">top1%</text>
<line x1="155.9" y1="194.8" x2="165.4" y2="194.8" stroke="#2a48c8" stroke-width="1.3"/>
<text font-size="6.7" text-anchor="start" fill="#262626" font-weight="normal" font-style="normal" font-family='"Liberation Sans", sans-serif' transform="translate(169.8 197.39) scale(1 1.08)" stroke="#262626" stroke-width="0.12">10xMean</text>
<line x1="155.9" y1="206.7" x2="165.4" y2="206.7" stroke="#1d2a8a" stroke-width="1.3"/>
<text font-size="6.7" text-anchor="start" fill="#262626" font-weight="normal" font-style="normal" font-family='"Liberation Sans", sans-serif' transform="translate(169.8 209.29) scale(1 1.08)" stroke="#262626" stroke-width="0.12">20xMean</text>
<text font-size="9" text-anchor="start" fill="#000" font-weight="bold" font-style="normal" font-family='"Liberation Sans", sans-serif' transform="translate(235.8 131.4) scale(1 1.08)">e.</text>
<line x1="270.1" y1="138" x2="270.1" y2="237.2" stroke="#7a7a7a" stroke-width="0.7"/>
<line x1="270.1" y1="237.2" x2="431.2" y2="237.2" stroke="#7a7a7a" stroke-width="0.7"/>
<text font-size="8.1" text-anchor="end" fill="#262626" font-weight="normal" font-style="normal" font-family='"Liberation Sans", sans-serif' transform="translate(268.3 240.33) scale(1 1.08)" stroke="#262626" stroke-width="0.12">0.000</text>
<text font-size="8.1" text-anchor="end" fill="#262626" font-weight="normal" font-style="normal" font-family='"Liberation Sans", sans-serif' transform="translate(268.3 220.53) scale(1 1.08)" stroke="#262626" stroke-width="0.12">0.001</text>
<text font-size="8.1" text-anchor="end" fill="#262626" font-weight="normal" font-style="normal" font-family='"Liberation Sans", sans-serif' transform="translate(268.3 200.73) scale(1 1.08)" stroke="#262626" stroke-width="0.12">0.002</text>
<text font-size="8.1" text-anchor="end" fill="#262626" font-weight="normal" font-style="normal" font-family='"Liberation Sans", sans-serif' transform="translate(268.3 180.93) scale(1 1.08)" stroke="#262626" stroke-width="0.12">0.003</text>
<text font-size="8.1" text-anchor="end" fill="#262626" font-weight="normal" font-style="normal" font-family='"Liberation Sans", sans-serif' transform="translate(268.3 161.13) scale(1 1.08)" stroke="#262626" stroke-width="0.12">0.004</text>
<text font-size="8.1" text-anchor="end" fill="#262626" font-weight="normal" font-style="normal" font-family='"Liberation Sans", sans-serif' transform="translate(268.3 141.33) scale(1 1.08)" stroke="#262626" stroke-width="0.12">0.005</text>
<text font-size="8.1" text-anchor="middle" fill="#262626" font-weight="normal" font-style="normal" font-family='"Liberation Sans", sans-serif' transform="translate(270.1 247.33) scale(1 1.08)" stroke="#262626" stroke-width="0.12">0</text>
<text font-size="8.1" text-anchor="middle" fill="#262626" font-weight="normal" font-style="normal" font-family='"Liberation Sans", sans-serif' transform="translate(320.4 247.33) scale(1 1.08)" stroke="#262626" stroke-width="0.12">500</text>
<text font-size="8.1" text-anchor="middle" fill="#262626" font-weight="normal" font-style="normal" font-family='"Liberation Sans", sans-serif' transform="translate(370.7 247.33) scale(1 1.08)" stroke="#262626" stroke-width="0.12">1000</text>
<text font-size="8.1" text-anchor="middle" fill="#262626" font-weight="normal" font-style="normal" font-family='"Liberation Sans", sans-serif' transform="translate(421 247.33) scale(1 1.08)" stroke="#262626" stroke-width="0.12">1500</text>
<line x1="270.1" y1="237.2" x2="270.1" y2="235.2" stroke="#7a7a7a" stroke-width="0.4"/>
<line x1="280.16" y1="237.2" x2="280.16" y2="235.9" stroke="#7a7a7a" stroke-width="0.4"/>
<line x1="290.22" y1="237.2" x2="290.22" y2="235.9" stroke="#7a7a7a" stroke-width="0.4"/>
<line x1="300.28" y1="237.2" x2="300.28" y2="235.9" stroke="#7a7a7a" stroke-width="0.4"/>
<line x1="310.34" y1="237.2" x2="310.34" y2="235.9" stroke="#7a7a7a" stroke-width="0.4"/>
<line x1="320.4" y1="237.2" x2="320.4" y2="235.2" stroke="#7a7a7a" stroke-width="0.4"/>
<line x1="330.46" y1="237.2" x2="330.46" y2="235.9" stroke="#7a7a7a" stroke-width="0.4"/>
<line x1="340.52" y1="237.2" x2="340.52" y2="235.9" stroke="#7a7a7a" stroke-width="0.4"/>
<line x1="350.58" y1="237.2" x2="350.58" y2="235.9" stroke="#7a7a7a" stroke-width="0.4"/>
<line x1="360.64" y1="237.2" x2="360.64" y2="235.9" stroke="#7a7a7a" stroke-width="0.4"/>
<line x1="370.7" y1="237.2" x2="370.7" y2="235.2" stroke="#7a7a7a" stroke-width="0.4"/>
<line x1="380.76" y1="237.2" x2="380.76" y2="235.9" stroke="#7a7a7a" stroke-width="0.4"/>
<line x1="390.82" y1="237.2" x2="390.82" y2="235.9" stroke="#7a7a7a" stroke-width="0.4"/>
<line x1="400.88" y1="237.2" x2="400.88" y2="235.9" stroke="#7a7a7a" stroke-width="0.4"/>
<line x1="410.94" y1="237.2" x2="410.94" y2="235.9" stroke="#7a7a7a" stroke-width="0.4"/>
<line x1="421" y1="237.2" x2="421" y2="235.2" stroke="#7a7a7a" stroke-width="0.4"/>
<line x1="270.1" y1="237.2" x2="272.2" y2="237.2" stroke="#7a7a7a" stroke-width="0.4"/>
<line x1="270.1" y1="233.24" x2="271.2" y2="233.24" stroke="#b0b0b0" stroke-width="0.4"/>
<line x1="270.1" y1="229.28" x2="271.2" y2="229.28" stroke="#b0b0b0" stroke-width="0.4"/>
<line x1="270.1" y1="225.32" x2="271.2" y2="225.32" stroke="#b0b0b0" stroke-width="0.4"/>
<line x1="270.1" y1="221.36" x2="271.2" y2="221.36" stroke="#b0b0b0" stroke-width="0.4"/>
<line x1="270.1" y1="217.4" x2="272.2" y2="217.4" stroke="#7a7a7a" stroke-width="0.4"/>
<line x1="270.1" y1="213.44" x2="271.2" y2="213.44" stroke="#b0b0b0" stroke-width="0.4"/>
<line x1="270.1" y1="209.48" x2="271.2" y2="209.48" stroke="#b0b0b0" stroke-width="0.4"/>
<line x1="270.1" y1="205.52" x2="271.2" y2="205.52" stroke="#b0b0b0" stroke-width="0.4"/>
<line x1="270.1" y1="201.56" x2="271.2" y2="201.56" stroke="#b0b0b0" stroke-width="0.4"/>
<line x1="270.1" y1="197.6" x2="272.2" y2="197.6" stroke="#7a7a7a" stroke-width="0.4"/>
<line x1="270.1" y1="193.64" x2="271.2" y2="193.64" stroke="#b0b0b0" stroke-width="0.4"/>
<line x1="270.1" y1="189.68" x2="271.2" y2="189.68" stroke="#b0b0b0" stroke-width="0.4"/>
<line x1="270.1" y1="185.72" x2="271.2" y2="185.72" stroke="#b0b0b0" stroke-width="0.4"/>
<line x1="270.1" y1="181.76" x2="271.2" y2="181.76" stroke="#b0b0b0" stroke-width="0.4"/>
<line x1="270.1" y1="177.8" x2="272.2" y2="177.8" stroke="#7a7a7a" stroke-width="0.4"/>
<line x1="270.1" y1="173.84" x2="271.2" y2="173.84" stroke="#b0b0b0" stroke-width="0.4"/>
<line x1="270.1" y1="169.88" x2="271.2" y2="169.88" stroke="#b0b0b0" stroke-width="0.4"/>
<line x1="270.1" y1="165.92" x2="271.2" y2="165.92" stroke="#b0b0b0" stroke-width="0.4"/>
<line x1="270.1" y1="161.96" x2="271.2" y2="161.96" stroke="#b0b0b0" stroke-width="0.4"/>
<line x1="270.1" y1="158" x2="272.2" y2="158" stroke="#7a7a7a" stroke-width="0.4"/>
<line x1="270.1" y1="154.04" x2="271.2" y2="154.04" stroke="#b0b0b0" stroke-width="0.4"/>
<line x1="270.1" y1="150.08" x2="271.2" y2="150.08" stroke="#b0b0b0" stroke-width="0.4"/>
<line x1="270.1" y1="146.12" x2="271.2" y2="146.12" stroke="#b0b0b0" stroke-width="0.4"/>
<line x1="270.1" y1="142.16" x2="271.2" y2="142.16" stroke="#b0b0b0" stroke-width="0.4"/>
<line x1="270.1" y1="138.2" x2="272.2" y2="138.2" stroke="#7a7a7a" stroke-width="0.4"/>
<text font-size="7.95" text-anchor="middle" fill="#1a1a1a" font-weight="normal" font-style="normal" font-family='"Liberation Sans", sans-serif' transform="translate(244 189.5) rotate(-90) scale(1 1.08)" stroke="#1a1a1a" stroke-width="0.12">Probability Density</text>
<line x1="248.5" y1="248.8" x2="432" y2="248.8" stroke="#ccc" stroke-width="0.6"/>
<text font-size="7.9" text-anchor="start" fill="#1a1a1a" font-weight="normal" font-style="normal" font-family='"Liberation Sans", sans-serif' transform="translate(291.9 255.9) scale(1 1.08)" stroke="#1a1a1a" stroke-width="0.12">Metabolite Concentration (arb. units)</text>
<path d="M270.1,237.2 L270.77,237.2 L271.45,237.2 L272.12,237.2 L272.79,237.2 L273.47,237.2 L274.14,237.2 L274.81,237.2 L275.49,237.2 L276.16,237.2 L276.83,237.2 L277.51,237.2 L278.18,237.2 L278.86,237.2 L279.53,237.2 L280.2,237.2 L280.88,237.2 L281.55,237.2 L282.22,237.2 L282.9,237.2 L283.57,237.2 L284.24,237.2 L284.92,237.2 L285.59,237.2 L286.26,237.2 L286.94,237.2 L287.61,237.2 L288.28,237.2 L288.96,237.2 L289.63,237.2 L290.3,237.2 L290.98,237.2 L291.65,237.2 L292.32,237.2 L293,237.2 L293.67,237.2 L294.35,237.2 L295.02,237.2 L295.69,237.2 L296.37,237.2 L297.04,237.2 L297.71,237.2 L298.39,237.19 L299.06,237.19 L299.73,237.19 L300.41,237.19 L301.08,237.18 L301.75,237.18 L302.43,237.17 L303.1,237.16 L303.77,237.16 L304.45,237.14 L305.12,237.13 L305.79,237.11 L306.47,237.09 L307.14,237.07 L307.81,237.04 L308.49,237 L309.16,236.95 L309.83,236.9 L310.51,236.83 L311.18,236.76 L311.86,236.66 L312.53,236.55 L313.2,236.42 L313.88,236.27 L314.55,236.1 L315.22,235.89 L315.9,235.65 L316.57,235.38 L317.24,235.06 L317.92,234.7 L318.59,234.29 L319.26,233.82 L319.94,233.29 L320.61,232.7 L321.28,232.03 L321.96,231.28 L322.63,230.45 L323.3,229.53 L323.98,228.51 L324.65,227.4 L325.32,226.18 L326,224.86 L326.67,223.43 L327.35,221.88 L328.02,220.22 L328.69,218.45 L329.37,216.57 L330.04,214.58 L330.71,212.48 L331.39,210.29 L332.06,208.01 L332.73,205.65 L333.41,203.22 L334.08,200.73 L334.75,198.2 L335.43,195.65 L336.1,193.08 L336.77,190.52 L337.45,187.99 L338.12,185.51 L338.79,183.1 L339.47,180.78 L340.14,178.56 L340.81,176.48 L341.49,174.54 L342.16,172.78 L342.84,171.2 L343.51,169.83 L344.18,168.67 L344.86,167.74 L345.53,167.05 L346.2,166.6 L346.88,166.41 L347.55,166.47 L348.22,166.8 L348.9,167.4 L349.57,168.26 L350.24,169.38 L350.92,170.72 L351.59,172.3 L352.26,174.07 L352.94,176.04 L353.61,178.17 L354.28,180.44 L354.96,182.84 L355.63,185.34 L356.3,187.91 L356.98,190.53 L357.65,193.18 L358.32,195.84 L359,198.49 L359.67,201.11 L360.35,203.68 L361.02,206.19 L361.69,208.62 L362.37,210.96 L363.04,213.2 L363.71,215.33 L364.39,217.35 L365.06,219.25 L365.73,221.04 L366.41,222.7 L367.08,224.24 L367.75,225.66 L368.43,226.96 L369.1,228.16 L369.77,229.24 L370.45,230.22 L371.12,231.1 L371.79,231.9 L372.47,232.6 L373.14,233.23 L373.81,233.79 L374.49,234.28 L375.16,234.7 L375.84,235.08 L376.51,235.4 L377.18,235.68 L377.86,235.93 L378.53,236.13 L379.2,236.31 L379.88,236.46 L380.55,236.59 L381.22,236.7 L381.9,236.79 L382.57,236.86 L383.24,236.92 L383.92,236.98 L384.59,237.02 L385.26,237.05 L385.94,237.08 L386.61,237.11 L387.28,237.13 L387.96,237.14 L388.63,237.15 L389.3,237.16 L389.98,237.17 L390.65,237.18 L391.33,237.18 L392,237.19 L392.67,237.19 L393.35,237.19 L394.02,237.19 L394.69,237.2 L395.37,237.2 L396.04,237.2 L396.71,237.2 L397.39,237.2 L398.06,237.2 L398.73,237.2 L399.41,237.2 L400.08,237.2 L400.75,237.2 L401.43,237.2 L402.1,237.2 L402.77,237.2 L403.45,237.2 L404.12,237.2 L404.79,237.2 L405.47,237.2 L406.14,237.2 L406.81,237.2 L407.49,237.2 L408.16,237.2 L408.84,237.2 L409.51,237.2 L410.18,237.2 L410.86,237.2 L411.53,237.2 L412.2,237.2 L412.88,237.2 L413.55,237.2 L414.22,237.2 L414.9,237.2 L415.57,237.2 L416.24,237.2 L416.92,237.2 L417.59,237.2 L418.26,237.2 L418.94,237.2 L419.61,237.2 L420.28,237.2 L420.96,237.2 L421.63,237.2 L422.3,237.2 L422.98,237.2 L423.65,237.2 L424.33,237.2 L425,237.2 L425.67,237.2 L426.35,237.2 L427.02,237.2 L427.69,237.2 L428.37,237.2 L429.04,237.2 L429.71,237.2 L430.39,237.2 L431.06,237.2" stroke="#111111" stroke-width="1.7" fill="none" stroke-linejoin="round"/>
<path d="M270.1,237.2 L270.77,237.2 L271.45,237.2 L272.12,237.2 L272.79,237.2 L273.47,237.2 L274.14,237.2 L274.81,237.2 L275.49,237.2 L276.16,237.2 L276.83,237.2 L277.51,237.2 L278.18,237.2 L278.86,237.2 L279.53,237.2 L280.2,237.2 L280.88,237.2 L281.55,237.2 L282.22,237.2 L282.9,237.2 L283.57,237.2 L284.24,237.2 L284.92,237.2 L285.59,237.2 L286.26,237.2 L286.94,237.2 L287.61,237.2 L288.28,237.2 L288.96,237.2 L289.63,237.2 L290.3,237.2 L290.98,237.2 L291.65,237.2 L292.32,237.2 L293,237.2 L293.67,237.2 L294.35,237.2 L295.02,237.2 L295.69,237.2 L296.37,237.2 L297.04,237.2 L297.71,237.2 L298.39,237.2 L299.06,237.2 L299.73,237.2 L300.41,237.2 L301.08,237.2 L301.75,237.2 L302.43,237.2 L303.1,237.2 L303.77,237.2 L304.45,237.2 L305.12,237.2 L305.79,237.2 L306.47,237.2 L307.14,237.2 L307.81,237.2 L308.49,237.2 L309.16,237.2 L309.83,237.2 L310.51,237.19 L311.18,237.19 L311.86,237.19 L312.53,237.18 L313.2,237.18 L313.88,237.17 L314.55,237.17 L315.22,237.15 L315.9,237.14 L316.57,237.13 L317.24,237.1 L317.92,237.08 L318.59,237.04 L319.26,237 L319.94,236.95 L320.61,236.89 L321.28,236.81 L321.96,236.72 L322.63,236.61 L323.3,236.47 L323.98,236.31 L324.65,236.11 L325.32,235.88 L326,235.61 L326.67,235.28 L327.35,234.91 L328.02,234.46 L328.69,233.95 L329.37,233.36 L330.04,232.69 L330.71,231.91 L331.39,231.04 L332.06,230.05 L332.73,228.94 L333.41,227.7 L334.08,226.32 L334.75,224.79 L335.43,223.12 L336.1,221.29 L336.77,219.31 L337.45,217.17 L338.12,214.87 L338.79,212.42 L339.47,209.83 L340.14,207.09 L340.81,204.24 L341.49,201.27 L342.16,198.21 L342.84,195.08 L343.51,191.91 L344.18,188.71 L344.86,185.51 L345.53,182.36 L346.2,179.27 L346.88,176.28 L347.55,173.42 L348.22,170.73 L348.9,168.23 L349.57,165.96 L350.24,163.94 L350.92,162.21 L351.59,160.77 L352.26,159.66 L352.94,158.88 L353.61,158.45 L354.28,158.37 L354.96,158.66 L355.63,159.32 L356.3,160.34 L356.98,161.71 L357.65,163.4 L358.32,165.4 L359,167.68 L359.67,170.21 L360.35,172.95 L361.02,175.87 L361.69,178.94 L362.37,182.12 L363.04,185.37 L363.71,188.66 L364.39,191.96 L365.06,195.23 L365.73,198.45 L366.41,201.6 L367.08,204.64 L367.75,207.57 L368.43,210.36 L369.1,213.01 L369.77,215.49 L370.45,217.82 L371.12,219.97 L371.79,221.96 L372.47,223.79 L373.14,225.45 L373.81,226.95 L374.49,228.31 L375.16,229.52 L375.84,230.6 L376.51,231.55 L377.18,232.39 L377.86,233.13 L378.53,233.76 L379.2,234.32 L379.88,234.79 L380.55,235.2 L381.22,235.54 L381.9,235.84 L382.57,236.08 L383.24,236.29 L383.92,236.46 L384.59,236.6 L385.26,236.72 L385.94,236.81 L386.61,236.89 L387.28,236.96 L387.96,237.01 L388.63,237.05 L389.3,237.08 L389.98,237.11 L390.65,237.13 L391.33,237.15 L392,237.16 L392.67,237.17 L393.35,237.18 L394.02,237.18 L394.69,237.19 L395.37,237.19 L396.04,237.19 L396.71,237.19 L397.39,237.2 L398.06,237.2 L398.73,237.2 L399.41,237.2 L400.08,237.2 L400.75,237.2 L401.43,237.2 L402.1,237.2 L402.77,237.2 L403.45,237.2 L404.12,237.2 L404.79,237.2 L405.47,237.2 L406.14,237.2 L406.81,237.2 L407.49,237.2 L408.16,237.2 L408.84,237.2 L409.51,237.2 L410.18,237.2 L410.86,237.2 L411.53,237.2 L412.2,237.2 L412.88,237.2 L413.55,237.2 L414.22,237.2 L414.9,237.2 L415.57,237.2 L416.24,237.2 L416.92,237.2 L417.59,237.2 L418.26,237.2 L418.94,237.2 L419.61,237.2 L420.28,237.2 L420.96,237.2 L421.63,237.2 L422.3,237.2 L422.98,237.2 L423.65,237.2 L424.33,237.2 L425,237.2 L425.67,237.2 L426.35,237.2 L427.02,237.2 L427.69,237.2 L428.37,237.2 L429.04,237.2 L429.71,237.2 L430.39,237.2 L431.06,237.2" stroke="#a6d0f6" stroke-width="1.7" fill="none" stroke-linejoin="round"/>
<path d="M270.1,237.2 L270.77,237.2 L271.45,237.2 L272.12,237.2 L272.79,237.2 L273.47,237.2 L274.14,237.2 L274.81,237.2 L275.49,237.2 L276.16,237.2 L276.83,237.2 L277.51,237.2 L278.18,237.2 L278.86,237.2 L279.53,237.2 L280.2,237.2 L280.88,237.2 L281.55,237.2 L282.22,237.2 L282.9,237.2 L283.57,237.2 L284.24,237.2 L284.92,237.2 L285.59,237.2 L286.26,237.2 L286.94,237.2 L287.61,237.2 L288.28,237.2 L288.96,237.2 L289.63,237.2 L290.3,237.2 L290.98,237.2 L291.65,237.2 L292.32,237.2 L293,237.2 L293.67,237.2 L294.35,237.2 L295.02,237.2 L295.69,237.2 L296.37,237.2 L297.04,237.2 L297.71,237.2 L298.39,237.2 L299.06,237.2 L299.73,237.2 L300.41,237.2 L301.08,237.2 L301.75,237.2 L302.43,237.2 L303.1,237.2 L303.77,237.2 L304.45,237.2 L305.12,237.2 L305.79,237.2 L306.47,237.2 L307.14,237.2 L307.81,237.2 L308.49,237.2 L309.16,237.2 L309.83,237.2 L310.51,237.2 L311.18,237.2 L311.86,237.2 L312.53,237.2 L313.2,237.2 L313.88,237.2 L314.55,237.2 L315.22,237.19 L315.9,237.19 L316.57,237.19 L317.24,237.18 L317.92,237.18 L318.59,237.17 L319.26,237.16 L319.94,237.15 L320.61,237.14 L321.28,237.12 L321.96,237.1 L322.63,237.07 L323.3,237.04 L323.98,236.99 L324.65,236.94 L325.32,236.87 L326,236.79 L326.67,236.69 L327.35,236.56 L328.02,236.42 L328.69,236.24 L329.37,236.02 L330.04,235.77 L330.71,235.47 L331.39,235.12 L332.06,234.7 L332.73,234.22 L333.41,233.66 L334.08,233.01 L334.75,232.27 L335.43,231.42 L336.1,230.47 L336.77,229.38 L337.45,228.17 L338.12,226.82 L338.79,225.32 L339.47,223.67 L340.14,221.86 L340.81,219.89 L341.49,217.75 L342.16,215.46 L342.84,213.01 L343.51,210.4 L344.18,207.66 L344.86,204.78 L345.53,201.79 L346.2,198.71 L346.88,195.55 L347.55,192.34 L348.22,189.11 L348.9,185.88 L349.57,182.7 L350.24,179.58 L350.92,176.58 L351.59,173.71 L352.26,171.02 L352.94,168.53 L353.61,166.28 L354.28,164.3 L354.96,162.61 L355.63,161.24 L356.3,160.2 L356.98,159.52 L357.65,159.19 L358.32,159.23 L359,159.65 L359.67,160.45 L360.35,161.62 L361.02,163.14 L361.69,165 L362.37,167.15 L363.04,169.57 L363.71,172.24 L364.39,175.11 L365.06,178.14 L365.73,181.31 L366.41,184.57 L367.08,187.88 L367.75,191.22 L368.43,194.54 L369.1,197.81 L369.77,201.02 L370.45,204.13 L371.12,207.12 L371.79,209.98 L372.47,212.69 L373.14,215.23 L373.81,217.61 L374.49,219.82 L375.16,221.86 L375.84,223.72 L376.51,225.42 L377.18,226.95 L377.86,228.33 L378.53,229.56 L379.2,230.66 L379.88,231.62 L380.55,232.47 L381.22,233.2 L381.9,233.84 L382.57,234.39 L383.24,234.87 L383.92,235.27 L384.59,235.61 L385.26,235.9 L385.94,236.14 L386.61,236.34 L387.28,236.5 L387.96,236.64 L388.63,236.75 L389.3,236.84 L389.98,236.92 L390.65,236.98 L391.33,237.03 L392,237.06 L392.67,237.09 L393.35,237.12 L394.02,237.14 L394.69,237.15 L395.37,237.16 L396.04,237.17 L396.71,237.18 L397.39,237.18 L398.06,237.19 L398.73,237.19 L399.41,237.19 L400.08,237.2 L400.75,237.2 L401.43,237.2 L402.1,237.2 L402.77,237.2 L403.45,237.2 L404.12,237.2 L404.79,237.2 L405.47,237.2 L406.14,237.2 L406.81,237.2 L407.49,237.2 L408.16,237.2 L408.84,237.2 L409.51,237.2 L410.18,237.2 L410.86,237.2 L411.53,237.2 L412.2,237.2 L412.88,237.2 L413.55,237.2 L414.22,237.2 L414.9,237.2 L415.57,237.2 L416.24,237.2 L416.92,237.2 L417.59,237.2 L418.26,237.2 L418.94,237.2 L419.61,237.2 L420.28,237.2 L420.96,237.2 L421.63,237.2 L422.3,237.2 L422.98,237.2 L423.65,237.2 L424.33,237.2 L425,237.2 L425.67,237.2 L426.35,237.2 L427.02,237.2 L427.69,237.2 L428.37,237.2 L429.04,237.2 L429.71,237.2 L430.39,237.2 L431.06,237.2" stroke="#6fa6ee" stroke-width="1.7" fill="none" stroke-linejoin="round"/>
<path d="M270.1,237.2 L270.77,237.2 L271.45,237.2 L272.12,237.2 L272.79,237.2 L273.47,237.2 L274.14,237.2 L274.81,237.2 L275.49,237.2 L276.16,237.2 L276.83,237.2 L277.51,237.2 L278.18,237.2 L278.86,237.2 L279.53,237.2 L280.2,237.2 L280.88,237.2 L281.55,237.2 L282.22,237.2 L282.9,237.2 L283.57,237.2 L284.24,237.2 L284.92,237.2 L285.59,237.2 L286.26,237.2 L286.94,237.2 L287.61,237.2 L288.28,237.2 L288.96,237.2 L289.63,237.2 L290.3,237.2 L290.98,237.2 L291.65,237.2 L292.32,237.2 L293,237.2 L293.67,237.2 L294.35,237.2 L295.02,237.2 L295.69,237.2 L296.37,237.2 L297.04,237.2 L297.71,237.2 L298.39,237.2 L299.06,237.2 L299.73,237.2 L300.41,237.2 L301.08,237.2 L301.75,237.2 L302.43,237.2 L303.1,237.2 L303.77,237.2 L304.45,237.2 L305.12,237.2 L305.79,237.2 L306.47,237.2 L307.14,237.2 L307.81,237.2 L308.49,237.2 L309.16,237.2 L309.83,237.2 L310.51,237.2 L311.18,237.2 L311.86,237.2 L312.53,237.2 L313.2,237.2 L313.88,237.2 L314.55,237.2 L315.22,237.2 L315.9,237.2 L316.57,237.2 L317.24,237.2 L317.92,237.2 L318.59,237.2 L319.26,237.2 L319.94,237.2 L320.61,237.2 L321.28,237.19 L321.96,237.19 L322.63,237.19 L323.3,237.19 L323.98,237.18 L324.65,237.18 L325.32,237.17 L326,237.16 L326.67,237.14 L327.35,237.12 L328.02,237.1 L328.69,237.07 L329.37,237.04 L330.04,236.99 L330.71,236.93 L331.39,236.86 L332.06,236.76 L332.73,236.65 L333.41,236.51 L334.08,236.34 L334.75,236.14 L335.43,235.89 L336.1,235.59 L336.77,235.23 L337.45,234.81 L338.12,234.32 L338.79,233.73 L339.47,233.06 L340.14,232.27 L340.81,231.37 L341.49,230.34 L342.16,229.16 L342.84,227.84 L343.51,226.35 L344.18,224.69 L344.86,222.85 L345.53,220.82 L346.2,218.6 L346.88,216.2 L347.55,213.6 L348.22,210.83 L348.9,207.87 L349.57,204.76 L350.24,201.5 L350.92,198.12 L351.59,194.63 L352.26,191.08 L352.94,187.49 L353.61,183.89 L354.28,180.33 L354.96,176.85 L355.63,173.48 L356.3,170.27 L356.98,167.27 L357.65,164.5 L358.32,162.02 L359,159.86 L359.67,158.04 L360.35,156.6 L361.02,155.56 L361.69,154.94 L362.37,154.73 L363.04,154.97 L363.71,155.66 L364.39,156.79 L365.06,158.34 L365.73,160.29 L366.41,162.61 L367.08,165.25 L367.75,168.19 L368.43,171.36 L369.1,174.74 L369.77,178.28 L370.45,181.92 L371.12,185.62 L371.79,189.34 L372.47,193.03 L373.14,196.67 L373.81,200.21 L374.49,203.63 L375.16,206.9 L375.84,210 L376.51,212.92 L377.18,215.65 L377.86,218.17 L378.53,220.49 L379.2,222.61 L379.88,224.53 L380.55,226.26 L381.22,227.81 L381.9,229.18 L382.57,230.39 L383.24,231.45 L383.92,232.37 L384.59,233.16 L385.26,233.85 L385.94,234.43 L386.61,234.92 L387.28,235.34 L387.96,235.69 L388.63,235.98 L389.3,236.22 L389.98,236.42 L390.65,236.58 L391.33,236.71 L392,236.81 L392.67,236.9 L393.35,236.96 L394.02,237.02 L394.69,237.06 L395.37,237.09 L396.04,237.12 L396.71,237.14 L397.39,237.15 L398.06,237.17 L398.73,237.17 L399.41,237.18 L400.08,237.19 L400.75,237.19 L401.43,237.19 L402.1,237.19 L402.77,237.2 L403.45,237.2 L404.12,237.2 L404.79,237.2 L405.47,237.2 L406.14,237.2 L406.81,237.2 L407.49,237.2 L408.16,237.2 L408.84,237.2 L409.51,237.2 L410.18,237.2 L410.86,237.2 L411.53,237.2 L412.2,237.2 L412.88,237.2 L413.55,237.2 L414.22,237.2 L414.9,237.2 L415.57,237.2 L416.24,237.2 L416.92,237.2 L417.59,237.2 L418.26,237.2 L418.94,237.2 L419.61,237.2 L420.28,237.2 L420.96,237.2 L421.63,237.2 L422.3,237.2 L422.98,237.2 L423.65,237.2 L424.33,237.2 L425,237.2 L425.67,237.2 L426.35,237.2 L427.02,237.2 L427.69,237.2 L428.37,237.2 L429.04,237.2 L429.71,237.2 L430.39,237.2 L431.06,237.2" stroke="#3a70e6" stroke-width="1.7" fill="none" stroke-linejoin="round"/>
<path d="M270.1,237.2 L270.77,237.2 L271.45,237.2 L272.12,237.2 L272.79,237.2 L273.47,237.2 L274.14,237.2 L274.81,237.2 L275.49,237.2 L276.16,237.2 L276.83,237.2 L277.51,237.2 L278.18,237.2 L278.86,237.2 L279.53,237.2 L280.2,237.2 L280.88,237.2 L281.55,237.2 L282.22,237.2 L282.9,237.2 L283.57,237.2 L284.24,237.2 L284.92,237.2 L285.59,237.2 L286.26,237.2 L286.94,237.2 L287.61,237.2 L288.28,237.2 L288.96,237.2 L289.63,237.2 L290.3,237.2 L290.98,237.2 L291.65,237.2 L292.32,237.2 L293,237.2 L293.67,237.2 L294.35,237.2 L295.02,237.2 L295.69,237.2 L296.37,237.2 L297.04,237.2 L297.71,237.2 L298.39,237.2 L299.06,237.2 L299.73,237.2 L300.41,237.2 L301.08,237.2 L301.75,237.2 L302.43,237.2 L303.1,237.2 L303.77,237.2 L304.45,237.2 L305.12,237.2 L305.79,237.2 L306.47,237.2 L307.14,237.2 L307.81,237.2 L308.49,237.2 L309.16,237.2 L309.83,237.2 L310.51,237.2 L311.18,237.2 L311.86,237.2 L312.53,237.2 L313.2,237.2 L313.88,237.2 L314.55,237.2 L315.22,237.2 L315.9,237.2 L316.57,237.2 L317.24,237.2 L317.92,237.2 L318.59,237.2 L319.26,237.2 L319.94,237.2 L320.61,237.2 L321.28,237.2 L321.96,237.2 L322.63,237.2 L323.3,237.2 L323.98,237.2 L324.65,237.2 L325.32,237.2 L326,237.2 L326.67,237.2 L327.35,237.2 L328.02,237.2 L328.69,237.2 L329.37,237.2 L330.04,237.2 L330.71,237.2 L331.39,237.2 L332.06,237.2 L332.73,237.2 L333.41,237.2 L334.08,237.2 L334.75,237.2 L335.43,237.19 L336.1,237.19 L336.77,237.19 L337.45,237.18 L338.12,237.18 L338.79,237.17 L339.47,237.16 L340.14,237.15 L340.81,237.13 L341.49,237.1 L342.16,237.07 L342.84,237.03 L343.51,236.98 L344.18,236.91 L344.86,236.83 L345.53,236.72 L346.2,236.58 L346.88,236.42 L347.55,236.21 L348.22,235.95 L348.9,235.63 L349.57,235.25 L350.24,234.79 L350.92,234.23 L351.59,233.58 L352.26,232.8 L352.94,231.89 L353.61,230.83 L354.28,229.6 L354.96,228.19 L355.63,226.59 L356.3,224.77 L356.98,222.74 L357.65,220.47 L358.32,217.96 L359,215.21 L359.67,212.21 L360.35,208.98 L361.02,205.53 L361.69,201.87 L362.37,198.02 L363.04,194.02 L363.71,189.89 L364.39,185.68 L365.06,181.44 L365.73,177.22 L366.41,173.06 L367.08,169.03 L367.75,165.18 L368.43,161.58 L369.1,158.27 L369.77,155.32 L370.45,152.77 L371.12,150.67 L371.79,149.05 L372.47,147.95 L373.14,147.38 L373.81,147.35 L374.49,147.91 L375.16,149.06 L375.84,150.77 L376.51,153.01 L377.18,155.74 L377.86,158.91 L378.53,162.45 L379.2,166.3 L379.88,170.4 L380.55,174.69 L381.22,179.08 L381.9,183.53 L382.57,187.97 L383.24,192.33 L383.92,196.59 L384.59,200.68 L385.26,204.58 L385.94,208.26 L386.61,211.69 L387.28,214.87 L387.96,217.78 L388.63,220.42 L389.3,222.8 L389.98,224.92 L390.65,226.8 L391.33,228.45 L392,229.89 L392.67,231.13 L393.35,232.2 L394.02,233.1 L394.69,233.87 L395.37,234.51 L396.04,235.04 L396.71,235.47 L397.39,235.83 L398.06,236.12 L398.73,236.36 L399.41,236.55 L400.08,236.7 L400.75,236.81 L401.43,236.91 L402.1,236.98 L402.77,237.03 L403.45,237.08 L404.12,237.11 L404.79,237.13 L405.47,237.15 L406.14,237.16 L406.81,237.17 L407.49,237.18 L408.16,237.19 L408.84,237.19 L409.51,237.19 L410.18,237.2 L410.86,237.2 L411.53,237.2 L412.2,237.2 L412.88,237.2 L413.55,237.2 L414.22,237.2 L414.9,237.2 L415.57,237.2 L416.24,237.2 L416.92,237.2 L417.59,237.2 L418.26,237.2 L418.94,237.2 L419.61,237.2 L420.28,237.2 L420.96,237.2 L421.63,237.2 L422.3,237.2 L422.98,237.2 L423.65,237.2 L424.33,237.2 L425,237.2 L425.67,237.2 L426.35,237.2 L427.02,237.2 L427.69,237.2 L428.37,237.2 L429.04,237.2 L429.71,237.2 L430.39,237.2 L431.06,237.2" stroke="#2a48c8" stroke-width="1.7" fill="none" stroke-linejoin="round"/>
<path d="M270.1,237.2 L270.77,237.2 L271.45,237.2 L272.12,237.2 L272.79,237.2 L273.47,237.2 L274.14,237.2 L274.81,237.2 L275.49,237.2 L276.16,237.2 L276.83,237.2 L277.51,237.2 L278.18,237.2 L278.86,237.2 L279.53,237.2 L280.2,237.2 L280.88,237.2 L281.55,237.2 L282.22,237.2 L282.9,237.2 L283.57,237.2 L284.24,237.2 L284.92,237.2 L285.59,237.2 L286.26,237.2 L286.94,237.2 L287.61,237.2 L288.28,237.2 L288.96,237.2 L289.63,237.2 L290.3,237.2 L290.98,237.2 L291.65,237.2 L292.32,237.2 L293,237.2 L293.67,237.2 L294.35,237.2 L295.02,237.2 L295.69,237.2 L296.37,237.2 L297.04,237.2 L297.71,237.2 L298.39,237.2 L299.06,237.2 L299.73,237.2 L300.41,237.2 L301.08,237.2 L301.75,237.2 L302.43,237.2 L303.1,237.2 L303.77,237.2 L304.45,237.2 L305.12,237.2 L305.79,237.2 L306.47,237.2 L307.14,237.2 L307.81,237.2 L308.49,237.2 L309.16,237.2 L309.83,237.2 L310.51,237.2 L311.18,237.2 L311.86,237.2 L312.53,237.2 L313.2,237.2 L313.88,237.2 L314.55,237.2 L315.22,237.2 L315.9,237.2 L316.57,237.2 L317.24,237.2 L317.92,237.2 L318.59,237.2 L319.26,237.2 L319.94,237.2 L320.61,237.2 L321.28,237.2 L321.96,237.2 L322.63,237.2 L323.3,237.2 L323.98,237.2 L324.65,237.2 L325.32,237.2 L326,237.2 L326.67,237.2 L327.35,237.2 L328.02,237.2 L328.69,237.2 L329.37,237.2 L330.04,237.2 L330.71,237.2 L331.39,237.2 L332.06,237.2 L332.73,237.2 L333.41,237.2 L334.08,237.2 L334.75,237.2 L335.43,237.2 L336.1,237.2 L336.77,237.2 L337.45,237.2 L338.12,237.2 L338.79,237.2 L339.47,237.2 L340.14,237.2 L340.81,237.2 L341.49,237.2 L342.16,237.2 L342.84,237.2 L343.51,237.19 L344.18,237.19 L344.86,237.19 L345.53,237.18 L346.2,237.18 L346.88,237.17 L347.55,237.15 L348.22,237.14 L348.9,237.11 L349.57,237.08 L350.24,237.04 L350.92,236.99 L351.59,236.91 L352.26,236.82 L352.94,236.7 L353.61,236.55 L354.28,236.36 L354.96,236.11 L355.63,235.81 L356.3,235.43 L356.98,234.96 L357.65,234.4 L358.32,233.71 L359,232.88 L359.67,231.9 L360.35,230.74 L361.02,229.38 L361.69,227.81 L362.37,225.99 L363.04,223.91 L363.71,221.56 L364.39,218.92 L365.06,215.98 L365.73,212.74 L366.41,209.21 L367.08,205.39 L367.75,201.3 L368.43,196.96 L369.1,192.42 L369.77,187.72 L370.45,182.9 L371.12,178.02 L371.79,173.16 L372.47,168.38 L373.14,163.77 L373.81,159.39 L374.49,155.32 L375.16,151.64 L375.84,148.43 L376.51,145.73 L377.18,143.61 L377.86,142.11 L378.53,141.26 L379.2,141.07 L379.88,141.59 L380.55,142.8 L381.22,144.67 L381.9,147.18 L382.57,150.26 L383.24,153.85 L383.92,157.88 L384.59,162.27 L385.26,166.93 L385.94,171.79 L386.61,176.76 L387.28,181.76 L387.96,186.72 L388.63,191.58 L389.3,196.27 L389.98,200.75 L390.65,204.97 L391.33,208.92 L392,212.56 L392.67,215.89 L393.35,218.91 L394.02,221.62 L394.69,224.02 L395.37,226.13 L396.04,227.98 L396.71,229.57 L397.39,230.93 L398.06,232.09 L398.73,233.06 L399.41,233.88 L400.08,234.55 L400.75,235.1 L401.43,235.55 L402.1,235.91 L402.77,236.2 L403.45,236.44 L404.12,236.62 L404.79,236.76 L405.47,236.87 L406.14,236.95 L406.81,237.02 L407.49,237.06 L408.16,237.1 L408.84,237.13 L409.51,237.15 L410.18,237.16 L410.86,237.17 L411.53,237.18 L412.2,237.19 L412.88,237.19 L413.55,237.19 L414.22,237.2 L414.9,237.2 L415.57,237.2 L416.24,237.2 L416.92,237.2 L417.59,237.2 L418.26,237.2 L418.94,237.2 L419.61,237.2 L420.28,237.2 L420.96,237.2 L421.63,237.2 L422.3,237.2 L422.98,237.2 L423.65,237.2 L424.33,237.2 L425,237.2 L425.67,237.2 L426.35,237.2 L427.02,237.2 L427.69,237.2 L428.37,237.2 L429.04,237.2 L429.71,237.2 L430.39,237.2 L431.06,237.2" stroke="#1d2a8a" stroke-width="1.7" fill="none" stroke-linejoin="round"/>
<line x1="410.9" y1="144.4" x2="419" y2="144.4" stroke="#111111" stroke-width="1.3"/>
<text font-size="6.7" text-anchor="start" fill="#262626" font-weight="normal" font-style="normal" font-family='"Liberation Sans", sans-serif' transform="translate(422.6 146.99) scale(1 1.08)" stroke="#262626" stroke-width="0.12">Open-loop</text>
<line x1="410.9" y1="156.3" x2="419" y2="156.3" stroke="#a6d0f6" stroke-width="1.3"/>
<text font-size="6.7" text-anchor="start" fill="#262626" font-weight="normal" font-style="normal" font-family='"Liberation Sans", sans-serif' transform="translate(422.6 158.89) scale(1 1.08)" stroke="#262626" stroke-width="0.12">top99%</text>
<line x1="410.9" y1="168.2" x2="419" y2="168.2" stroke="#6fa6ee" stroke-width="1.3"/>
<text font-size="6.7" text-anchor="start" fill="#262626" font-weight="normal" font-style="normal" font-family='"Liberation Sans", sans-serif' transform="translate(422.6 170.79) scale(1 1.08)" stroke="#262626" stroke-width="0.12">top50%</text>
<line x1="410.9" y1="180.4" x2="419" y2="180.4" stroke="#3a70e6" stroke-width="1.3"/>
<text font-size="6.7" text-anchor="start" fill="#262626" font-weight="normal" font-style="normal" font-family='"Liberation Sans", sans-serif' transform="translate(422.6 182.99) scale(1 1.08)" stroke="#262626" stroke-width="0.12">top1%</text>
<line x1="410.9" y1="192.3" x2="419" y2="192.3" stroke="#2a48c8" stroke-width="1.3"/>
<text font-size="6.7" text-anchor="start" fill="#262626" font-weight="normal" font-style="normal" font-family='"Liberation Sans", sans-serif' transform="translate(422.6 194.89) scale(1 1.08)" stroke="#262626" stroke-width="0.12">10xMean</text>
<line x1="410.9" y1="204.1" x2="419" y2="204.1" stroke="#1d2a8a" stroke-width="1.3"/>
<text font-size="6.7" text-anchor="start" fill="#262626" font-weight="normal" font-style="normal" font-family='"Liberation Sans", sans-serif' transform="translate(422.6 206.69) scale(1 1.08)" stroke="#262626" stroke-width="0.12">20xMean</text>
<text font-size="9" text-anchor="start" fill="#000" font-weight="bold" font-style="normal" font-family='"Liberation Sans", sans-serif' transform="translate(473.6 130.8) scale(1 1.08)">f.</text>
<line x1="495.7" y1="133.2" x2="495.7" y2="238" stroke="#606060" stroke-width="0.8"/>
<line x1="495.7" y1="238.1" x2="672" y2="238.1" stroke="#7a7a7a" stroke-width="0.7"/>
<text font-size="8.2" text-anchor="end" fill="#262626" font-weight="normal" font-style="normal" font-family='"Liberation Sans", sans-serif' transform="translate(494 241.17) scale(1 1.08)" stroke="#262626" stroke-width="0.12">0.0</text>
<text font-size="8.2" text-anchor="end" fill="#262626" font-weight="normal" font-style="normal" font-family='"Liberation Sans", sans-serif' transform="translate(494 218.27) scale(1 1.08)" stroke="#262626" stroke-width="0.12">0.2</text>
<text font-size="8.2" text-anchor="end" fill="#262626" font-weight="normal" font-style="normal" font-family='"Liberation Sans", sans-serif' transform="translate(494 195.37) scale(1 1.08)" stroke="#262626" stroke-width="0.12">0.4</text>
<text font-size="8.2" text-anchor="end" fill="#262626" font-weight="normal" font-style="normal" font-family='"Liberation Sans", sans-serif' transform="translate(494 172.47) scale(1 1.08)" stroke="#262626" stroke-width="0.12">0.6</text>
<text font-size="8.2" text-anchor="end" fill="#262626" font-weight="normal" font-style="normal" font-family='"Liberation Sans", sans-serif' transform="translate(494 149.57) scale(1 1.08)" stroke="#262626" stroke-width="0.12">0.8</text>
<line x1="495.7" y1="238" x2="497.8" y2="238" stroke="#7a7a7a" stroke-width="0.4"/>
<line x1="495.7" y1="232.28" x2="496.9" y2="232.28" stroke="#b0b0b0" stroke-width="0.4"/>
<line x1="495.7" y1="226.55" x2="496.9" y2="226.55" stroke="#b0b0b0" stroke-width="0.4"/>
<line x1="495.7" y1="220.82" x2="496.9" y2="220.82" stroke="#b0b0b0" stroke-width="0.4"/>
<line x1="495.7" y1="215.1" x2="497.8" y2="215.1" stroke="#7a7a7a" stroke-width="0.4"/>
<line x1="495.7" y1="209.38" x2="496.9" y2="209.38" stroke="#b0b0b0" stroke-width="0.4"/>
<line x1="495.7" y1="203.65" x2="496.9" y2="203.65" stroke="#b0b0b0" stroke-width="0.4"/>
<line x1="495.7" y1="197.93" x2="496.9" y2="197.93" stroke="#b0b0b0" stroke-width="0.4"/>
<line x1="495.7" y1="192.2" x2="497.8" y2="192.2" stroke="#7a7a7a" stroke-width="0.4"/>
<line x1="495.7" y1="186.47" x2="496.9" y2="186.47" stroke="#b0b0b0" stroke-width="0.4"/>
<line x1="495.7" y1="180.75" x2="496.9" y2="180.75" stroke="#b0b0b0" stroke-width="0.4"/>
<line x1="495.7" y1="175.02" x2="496.9" y2="175.02" stroke="#b0b0b0" stroke-width="0.4"/>
<line x1="495.7" y1="169.3" x2="497.8" y2="169.3" stroke="#7a7a7a" stroke-width="0.4"/>
<line x1="495.7" y1="163.57" x2="496.9" y2="163.57" stroke="#b0b0b0" stroke-width="0.4"/>
<line x1="495.7" y1="157.85" x2="496.9" y2="157.85" stroke="#b0b0b0" stroke-width="0.4"/>
<line x1="495.7" y1="152.12" x2="496.9" y2="152.12" stroke="#b0b0b0" stroke-width="0.4"/>
<line x1="495.7" y1="146.4" x2="497.8" y2="146.4" stroke="#7a7a7a" stroke-width="0.4"/>
<line x1="495.7" y1="140.67" x2="496.9" y2="140.67" stroke="#b0b0b0" stroke-width="0.4"/>
<line x1="495.7" y1="134.95" x2="496.9" y2="134.95" stroke="#b0b0b0" stroke-width="0.4"/>
<text font-size="8.2" text-anchor="middle" fill="#262626" font-weight="normal" font-style="normal" font-family='"Liberation Sans", sans-serif' transform="translate(524.7 248.17) scale(1 1.08)" stroke="#262626" stroke-width="0.12">1</text>
<text font-size="8.2" text-anchor="middle" fill="#262626" font-weight="normal" font-style="normal" font-family='"Liberation Sans", sans-serif' transform="translate(553.9 248.17) scale(1 1.08)" stroke="#262626" stroke-width="0.12">2</text>
<text font-size="8.2" text-anchor="middle" fill="#262626" font-weight="normal" font-style="normal" font-family='"Liberation Sans", sans-serif' transform="translate(583.1 248.17) scale(1 1.08)" stroke="#262626" stroke-width="0.12">3</text>
<text font-size="8.2" text-anchor="middle" fill="#262626" font-weight="normal" font-style="normal" font-family='"Liberation Sans", sans-serif' transform="translate(612.3 248.17) scale(1 1.08)" stroke="#262626" stroke-width="0.12">4</text>
<text font-size="8.2" text-anchor="middle" fill="#262626" font-weight="normal" font-style="normal" font-family='"Liberation Sans", sans-serif' transform="translate(641.5 248.17) scale(1 1.08)" stroke="#262626" stroke-width="0.12">5</text>
<text font-size="8.2" text-anchor="middle" fill="#262626" font-weight="normal" font-style="normal" font-family='"Liberation Sans", sans-serif' transform="translate(670.7 248.17) scale(1 1.08)" stroke="#262626" stroke-width="0.12">6</text>
<line x1="501.34" y1="238.1" x2="501.34" y2="236.8" stroke="#7a7a7a" stroke-width="0.4"/>
<line x1="507.18" y1="238.1" x2="507.18" y2="236.8" stroke="#7a7a7a" stroke-width="0.4"/>
<line x1="513.02" y1="238.1" x2="513.02" y2="236.8" stroke="#7a7a7a" stroke-width="0.4"/>
<line x1="518.86" y1="238.1" x2="518.86" y2="236.8" stroke="#7a7a7a" stroke-width="0.4"/>
<line x1="524.7" y1="238.1" x2="524.7" y2="236" stroke="#7a7a7a" stroke-width="0.4"/>
<line x1="530.54" y1="238.1" x2="530.54" y2="236.8" stroke="#7a7a7a" stroke-width="0.4"/>
<line x1="536.38" y1="238.1" x2="536.38" y2="236.8" stroke="#7a7a7a" stroke-width="0.4"/>
<line x1="542.22" y1="238.1" x2="542.22" y2="236.8" stroke="#7a7a7a" stroke-width="0.4"/>
<line x1="548.06" y1="238.1" x2="548.06" y2="236.8" stroke="#7a7a7a" stroke-width="0.4"/>
<line x1="553.9" y1="238.1" x2="553.9" y2="236" stroke="#7a7a7a" stroke-width="0.4"/>
<line x1="559.74" y1="238.1" x2="559.74" y2="236.8" stroke="#7a7a7a" stroke-width="0.4"/>
<line x1="565.58" y1="238.1" x2="565.58" y2="236.8" stroke="#7a7a7a" stroke-width="0.4"/>
<line x1="571.42" y1="238.1" x2="571.42" y2="236.8" stroke="#7a7a7a" stroke-width="0.4"/>
<line x1="577.26" y1="238.1" x2="577.26" y2="236.8" stroke="#7a7a7a" stroke-width="0.4"/>
<line x1="583.1" y1="238.1" x2="583.1" y2="236" stroke="#7a7a7a" stroke-width="0.4"/>
<line x1="588.94" y1="238.1" x2="588.94" y2="236.8" stroke="#7a7a7a" stroke-width="0.4"/>
<line x1="594.78" y1="238.1" x2="594.78" y2="236.8" stroke="#7a7a7a" stroke-width="0.4"/>
<line x1="600.62" y1="238.1" x2="600.62" y2="236.8" stroke="#7a7a7a" stroke-width="0.4"/>
<line x1="606.46" y1="238.1" x2="606.46" y2="236.8" stroke="#7a7a7a" stroke-width="0.4"/>
<line x1="612.3" y1="238.1" x2="612.3" y2="236" stroke="#7a7a7a" stroke-width="0.4"/>
<line x1="618.14" y1="238.1" x2="618.14" y2="236.8" stroke="#7a7a7a" stroke-width="0.4"/>
<line x1="623.98" y1="238.1" x2="623.98" y2="236.8" stroke="#7a7a7a" stroke-width="0.4"/>
<line x1="629.82" y1="238.1" x2="629.82" y2="236.8" stroke="#7a7a7a" stroke-width="0.4"/>
<line x1="635.66" y1="238.1" x2="635.66" y2="236.8" stroke="#7a7a7a" stroke-width="0.4"/>
<line x1="641.5" y1="238.1" x2="641.5" y2="236" stroke="#7a7a7a" stroke-width="0.4"/>
<line x1="647.34" y1="238.1" x2="647.34" y2="236.8" stroke="#7a7a7a" stroke-width="0.4"/>
<line x1="653.18" y1="238.1" x2="653.18" y2="236.8" stroke="#7a7a7a" stroke-width="0.4"/>
<line x1="659.02" y1="238.1" x2="659.02" y2="236.8" stroke="#7a7a7a" stroke-width="0.4"/>
<line x1="664.86" y1="238.1" x2="664.86" y2="236.8" stroke="#7a7a7a" stroke-width="0.4"/>
<line x1="670.7" y1="238.1" x2="670.7" y2="236" stroke="#7a7a7a" stroke-width="0.4"/>
<text font-size="7.95" text-anchor="middle" fill="#1a1a1a" font-weight="normal" font-style="normal" font-family='"Liberation Sans", sans-serif' transform="translate(479.6 191.3) rotate(-90) scale(1 1.08)" stroke="#1a1a1a" stroke-width="0.12">Probability Density</text>
<text font-size="7.9" text-anchor="middle" fill="#1a1a1a" font-weight="normal" font-style="normal" font-family='"Liberation Sans", sans-serif' transform="translate(587.3 256.3) scale(1 1.08)" stroke="#1a1a1a" stroke-width="0.12">Doubling Time (h)</text>
<path d="M495.7,235.2 L496.38,234.57 L497.06,233.83 L497.74,233.01 L498.42,232.11 L499.1,231.11 L499.78,229.99 L500.46,228.75 L501.15,227.42 L501.83,226 L502.51,224.42 L503.19,222.7 L503.87,220.9 L504.55,219.07 L505.23,217.21 L505.91,215.29 L506.59,213.28 L507.27,211.17 L507.95,208.9 L508.63,206.44 L509.31,203.84 L509.99,201.17 L510.68,198.51 L511.36,195.87 L512.04,193.2 L512.72,190.48 L513.4,187.66 L514.08,184.7 L514.76,181.59 L515.44,178.4 L516.12,175.12 L516.8,171.78 L517.48,168.43 L518.16,165.11 L518.84,161.85 L519.52,158.5 L520.21,155.19 L520.89,152.06 L521.57,149.24 L522.25,146.6 L522.93,144.08 L523.61,141.82 L524.29,139.97 L524.97,138.5 L525.65,137.08 L526.33,135.83 L527.01,134.92 L527.69,134.51 L528.37,134.75 L529.05,135.53 L529.73,136.58 L530.42,137.74 L531.1,139.29 L531.78,141.15 L532.46,143.25 L533.14,145.8 L533.82,148.65 L534.5,151.59 L535.18,154.42 L535.86,157.16 L536.54,159.91 L537.22,162.66 L537.9,165.41 L538.58,168.15 L539.26,170.9 L539.95,173.64 L540.63,176.34 L541.31,179 L541.99,181.61 L542.67,184.19 L543.35,186.73 L544.03,189.24 L544.71,191.73 L545.39,194.23 L546.07,196.69 L546.75,199.1 L547.43,201.43 L548.11,203.66 L548.79,205.79 L549.47,207.84 L550.16,209.82 L550.84,211.77 L551.52,213.71 L552.2,215.72 L552.88,217.7 L553.56,219.53 L554.24,221.08 L554.92,222.37 L555.6,223.56 L556.28,224.64 L556.96,225.63 L557.64,226.51 L558.32,227.31 L559,228.03 L559.69,228.71 L560.37,229.34 L561.05,229.94 L561.73,230.48 L562.41,230.97 L563.09,231.41 L563.77,231.78 L564.45,232.11 L565.13,232.42 L565.81,232.7 L566.49,232.96 L567.17,233.2 L567.85,233.43 L568.53,233.65 L569.22,233.85 L569.9,234.04 L570.58,234.23 L571.26,234.42 L571.94,234.6 L572.62,234.77 L573.3,234.94 L573.98,235.11 L574.66,235.27 L575.34,235.43 L576.02,235.58 L576.7,235.72 L577.38,235.85 L578.06,235.97 L578.74,236.08 L579.43,236.18 L580.11,236.27 L580.79,236.35 L581.47,236.44 L582.15,236.52 L582.83,236.6 L583.51,236.68 L584.19,236.75 L584.87,236.82 L585.55,236.88 L586.23,236.94 L586.91,237 L587.59,237.05 L588.27,237.1 L588.96,237.14 L589.64,237.17 L590.32,237.2 L591,237.23 L591.68,237.26 L592.36,237.29 L593.04,237.31 L593.72,237.34 L594.4,237.37 L595.08,237.39 L595.76,237.41 L596.44,237.44 L597.12,237.46 L597.8,237.48 L598.48,237.5 L599.17,237.52 L599.85,237.54 L600.53,237.56 L601.21,237.57 L601.89,237.59 L602.57,237.6 L603.25,237.62 L603.93,237.63 L604.61,237.64 L605.29,237.65 L605.97,237.66 L606.65,237.67 L607.33,237.68 L608.01,237.69 L608.7,237.69 L609.38,237.7 L610.06,237.7 L610.74,237.7 L611.42,237.7 L612.1,237.71 L612.78,237.71 L613.46,237.71 L614.14,237.71 L614.82,237.72 L615.5,237.72 L616.18,237.72 L616.86,237.72 L617.54,237.72 L618.23,237.73 L618.91,237.73 L619.59,237.73 L620.27,237.73 L620.95,237.73 L621.63,237.74 L622.31,237.74 L622.99,237.74 L623.67,237.74 L624.35,237.74 L625.03,237.75 L625.71,237.75 L626.39,237.75 L627.07,237.75 L627.75,237.75 L628.44,237.75 L629.12,237.76 L629.8,237.76 L630.48,237.76 L631.16,237.76 L631.84,237.76 L632.52,237.76 L633.2,237.76 L633.88,237.77 L634.56,237.77 L635.24,237.77 L635.92,237.77 L636.6,237.77 L637.28,237.77 L637.97,237.77 L638.65,237.77 L639.33,237.78 L640.01,237.78 L640.69,237.78 L641.37,237.78 L642.05,237.78 L642.73,237.78 L643.41,237.78 L644.09,237.78 L644.77,237.78 L645.45,237.78 L646.13,237.78 L646.81,237.79 L647.49,237.79 L648.18,237.79 L648.86,237.79 L649.54,237.79 L650.22,237.79 L650.9,237.79 L651.58,237.79 L652.26,237.79 L652.94,237.79 L653.62,237.79 L654.3,237.79 L654.98,237.79 L655.66,237.79 L656.34,237.79 L657.02,237.8 L657.71,237.8 L658.39,237.8 L659.07,237.8 L659.75,237.8 L660.43,237.8 L661.11,237.8 L661.79,237.8 L662.47,237.8 L663.15,237.8 L663.83,237.8 L664.51,237.8 L665.19,237.8 L665.87,237.8 L666.55,237.8 L667.24,237.8 L667.92,237.8 L668.6,237.8 L669.28,237.8 L669.96,237.8 L670.64,237.8 L671.32,237.8 L672,237.8" stroke="#111111" stroke-width="1.7" fill="none" stroke-linejoin="round"/>
<path d="M495.7,237.3 L496.38,237.21 L497.06,237.04 L497.74,236.8 L498.42,236.51 L499.1,236.17 L499.78,235.82 L500.46,235.42 L501.15,234.92 L501.83,234.31 L502.51,233.62 L503.19,232.85 L503.87,232.02 L504.55,231.13 L505.23,230.13 L505.91,228.96 L506.59,227.66 L507.27,226.26 L507.95,224.78 L508.63,223.26 L509.31,221.71 L509.99,220.06 L510.68,218.3 L511.36,216.45 L512.04,214.55 L512.72,212.62 L513.4,210.67 L514.08,208.74 L514.76,206.81 L515.44,204.86 L516.12,202.86 L516.8,200.8 L517.48,198.65 L518.16,196.39 L518.84,193.94 L519.52,191.33 L520.21,188.62 L520.89,185.9 L521.57,183.24 L522.25,180.63 L522.93,178.01 L523.61,175.4 L524.29,172.8 L524.97,170.22 L525.65,167.64 L526.33,165.08 L527.01,162.51 L527.69,159.95 L528.37,157.38 L529.05,154.79 L529.73,152.05 L530.42,149.21 L531.1,146.5 L531.78,144.15 L532.46,142.18 L533.14,140.19 L533.82,138.43 L534.5,137.2 L535.18,136.8 L535.86,137.09 L536.54,137.74 L537.22,138.61 L537.9,139.76 L538.58,141.7 L539.26,144 L539.95,146.21 L540.63,148.48 L541.31,150.86 L541.99,153.33 L542.67,155.86 L543.35,158.48 L544.03,161.21 L544.71,164.01 L545.39,166.83 L546.07,169.67 L546.75,172.56 L547.43,175.49 L548.11,178.42 L548.79,181.33 L549.47,184.26 L550.16,187.22 L550.84,190.16 L551.52,193.08 L552.2,195.94 L552.88,198.73 L553.56,201.53 L554.24,204.28 L554.92,206.86 L555.6,209.14 L556.28,211.25 L556.96,213.21 L557.64,215 L558.32,216.62 L559,218.06 L559.69,219.41 L560.37,220.67 L561.05,221.83 L561.73,222.91 L562.41,223.88 L563.09,224.76 L563.77,225.59 L564.45,226.38 L565.13,227.11 L565.81,227.8 L566.49,228.43 L567.17,228.99 L567.85,229.5 L568.53,229.95 L569.22,230.38 L569.9,230.78 L570.58,231.15 L571.26,231.5 L571.94,231.82 L572.62,232.12 L573.3,232.4 L573.98,232.65 L574.66,232.89 L575.34,233.11 L576.02,233.31 L576.7,233.51 L577.38,233.7 L578.06,233.87 L578.74,234.04 L579.43,234.2 L580.11,234.35 L580.79,234.5 L581.47,234.64 L582.15,234.77 L582.83,234.91 L583.51,235.03 L584.19,235.16 L584.87,235.29 L585.55,235.41 L586.23,235.53 L586.91,235.65 L587.59,235.76 L588.27,235.87 L588.96,235.97 L589.64,236.07 L590.32,236.17 L591,236.25 L591.68,236.33 L592.36,236.4 L593.04,236.47 L593.72,236.53 L594.4,236.58 L595.08,236.64 L595.76,236.69 L596.44,236.74 L597.12,236.79 L597.8,236.84 L598.48,236.89 L599.17,236.94 L599.85,236.98 L600.53,237.02 L601.21,237.06 L601.89,237.1 L602.57,237.14 L603.25,237.18 L603.93,237.21 L604.61,237.24 L605.29,237.27 L605.97,237.3 L606.65,237.32 L607.33,237.34 L608.01,237.36 L608.7,237.38 L609.38,237.39 L610.06,237.4 L610.74,237.41 L611.42,237.42 L612.1,237.43 L612.78,237.44 L613.46,237.45 L614.14,237.45 L614.82,237.46 L615.5,237.47 L616.18,237.48 L616.86,237.49 L617.54,237.5 L618.23,237.5 L618.91,237.51 L619.59,237.52 L620.27,237.53 L620.95,237.53 L621.63,237.54 L622.31,237.55 L622.99,237.56 L623.67,237.56 L624.35,237.57 L625.03,237.58 L625.71,237.58 L626.39,237.59 L627.07,237.6 L627.75,237.6 L628.44,237.61 L629.12,237.61 L629.8,237.62 L630.48,237.63 L631.16,237.63 L631.84,237.64 L632.52,237.64 L633.2,237.65 L633.88,237.66 L634.56,237.66 L635.24,237.67 L635.92,237.67 L636.6,237.68 L637.28,237.68 L637.97,237.69 L638.65,237.69 L639.33,237.69 L640.01,237.7 L640.69,237.7 L641.37,237.71 L642.05,237.71 L642.73,237.72 L643.41,237.72 L644.09,237.72 L644.77,237.73 L645.45,237.73 L646.13,237.73 L646.81,237.74 L647.49,237.74 L648.18,237.74 L648.86,237.75 L649.54,237.75 L650.22,237.75 L650.9,237.76 L651.58,237.76 L652.26,237.76 L652.94,237.76 L653.62,237.77 L654.3,237.77 L654.98,237.77 L655.66,237.77 L656.34,237.78 L657.02,237.78 L657.71,237.78 L658.39,237.78 L659.07,237.78 L659.75,237.79 L660.43,237.79 L661.11,237.79 L661.79,237.79 L662.47,237.79 L663.15,237.79 L663.83,237.79 L664.51,237.79 L665.19,237.8 L665.87,237.8 L666.55,237.8 L667.24,237.8 L667.92,237.8 L668.6,237.8 L669.28,237.8 L669.96,237.8 L670.64,237.8 L671.32,237.8 L672,237.8" stroke="#a6d0f6" stroke-width="1.7" fill="none" stroke-linejoin="round"/>
<path d="M495.7,237.6 L496.38,237.58 L497.06,237.51 L497.74,237.41 L498.42,237.27 L499.1,237.1 L499.78,236.9 L500.46,236.68 L501.15,236.44 L501.83,236.18 L502.51,235.9 L503.19,235.62 L503.87,235.24 L504.55,234.76 L505.23,234.19 L505.91,233.53 L506.59,232.81 L507.27,232.02 L507.95,231.18 L508.63,230.31 L509.31,229.41 L509.99,228.37 L510.68,227.18 L511.36,225.87 L512.04,224.47 L512.72,222.99 L513.4,221.46 L514.08,219.91 L514.76,218.36 L515.44,216.84 L516.12,215.28 L516.8,213.68 L517.48,212.05 L518.16,210.37 L518.84,208.65 L519.52,206.88 L520.21,205.06 L520.89,203.2 L521.57,201.27 L522.25,199.25 L522.93,197.14 L523.61,194.96 L524.29,192.71 L524.97,190.39 L525.65,187.96 L526.33,185.45 L527.01,182.88 L527.69,180.25 L528.37,177.52 L529.05,174.7 L529.73,171.83 L530.42,168.95 L531.1,166.09 L531.78,163.29 L532.46,160.56 L533.14,157.77 L533.82,154.99 L534.5,152.36 L535.18,149.99 L535.86,147.9 L536.54,145.73 L537.22,143.6 L537.9,141.7 L538.58,140.23 L539.26,139.41 L539.95,139.34 L540.63,139.66 L541.31,140.21 L541.99,140.91 L542.67,141.72 L543.35,143 L544.03,144.78 L544.71,146.83 L545.39,148.96 L546.07,151.08 L546.75,153.4 L547.43,155.86 L548.11,158.39 L548.79,160.92 L549.47,163.49 L550.16,166.12 L550.84,168.79 L551.52,171.48 L552.2,174.19 L552.88,176.98 L553.56,179.77 L554.24,182.51 L554.92,185.14 L555.6,187.68 L556.28,190.17 L556.96,192.61 L557.64,195.01 L558.32,197.39 L559,199.76 L559.69,202.11 L560.37,204.36 L561.05,206.44 L561.73,208.43 L562.41,210.33 L563.09,212.11 L563.77,213.73 L564.45,215.23 L565.13,216.67 L565.81,218.02 L566.49,219.29 L567.17,220.45 L567.85,221.49 L568.53,222.43 L569.22,223.3 L569.9,224.12 L570.58,224.89 L571.26,225.6 L571.94,226.27 L572.62,226.91 L573.3,227.5 L573.98,228.07 L574.66,228.62 L575.34,229.16 L576.02,229.67 L576.7,230.15 L577.38,230.6 L578.06,231.02 L578.74,231.39 L579.43,231.72 L580.11,232.01 L580.79,232.29 L581.47,232.54 L582.15,232.78 L582.83,233.01 L583.51,233.23 L584.19,233.43 L584.87,233.62 L585.55,233.8 L586.23,233.97 L586.91,234.14 L587.59,234.29 L588.27,234.44 L588.96,234.58 L589.64,234.72 L590.32,234.85 L591,234.98 L591.68,235.1 L592.36,235.22 L593.04,235.33 L593.72,235.44 L594.4,235.54 L595.08,235.64 L595.76,235.73 L596.44,235.82 L597.12,235.9 L597.8,235.98 L598.48,236.05 L599.17,236.12 L599.85,236.2 L600.53,236.27 L601.21,236.34 L601.89,236.41 L602.57,236.48 L603.25,236.54 L603.93,236.61 L604.61,236.67 L605.29,236.73 L605.97,236.79 L606.65,236.85 L607.33,236.91 L608.01,236.96 L608.7,237.01 L609.38,237.05 L610.06,237.1 L610.74,237.14 L611.42,237.17 L612.1,237.21 L612.78,237.24 L613.46,237.26 L614.14,237.28 L614.82,237.3 L615.5,237.31 L616.18,237.32 L616.86,237.33 L617.54,237.35 L618.23,237.36 L618.91,237.37 L619.59,237.38 L620.27,237.39 L620.95,237.4 L621.63,237.41 L622.31,237.42 L622.99,237.44 L623.67,237.45 L624.35,237.46 L625.03,237.47 L625.71,237.48 L626.39,237.49 L627.07,237.5 L627.75,237.51 L628.44,237.51 L629.12,237.52 L629.8,237.53 L630.48,237.54 L631.16,237.55 L631.84,237.56 L632.52,237.57 L633.2,237.58 L633.88,237.58 L634.56,237.59 L635.24,237.6 L635.92,237.61 L636.6,237.61 L637.28,237.62 L637.97,237.63 L638.65,237.64 L639.33,237.64 L640.01,237.65 L640.69,237.66 L641.37,237.66 L642.05,237.67 L642.73,237.67 L643.41,237.68 L644.09,237.69 L644.77,237.69 L645.45,237.7 L646.13,237.7 L646.81,237.71 L647.49,237.71 L648.18,237.72 L648.86,237.72 L649.54,237.73 L650.22,237.73 L650.9,237.74 L651.58,237.74 L652.26,237.74 L652.94,237.75 L653.62,237.75 L654.3,237.75 L654.98,237.76 L655.66,237.76 L656.34,237.76 L657.02,237.77 L657.71,237.77 L658.39,237.77 L659.07,237.78 L659.75,237.78 L660.43,237.78 L661.11,237.78 L661.79,237.79 L662.47,237.79 L663.15,237.79 L663.83,237.79 L664.51,237.79 L665.19,237.79 L665.87,237.79 L666.55,237.8 L667.24,237.8 L667.92,237.8 L668.6,237.8 L669.28,237.8 L669.96,237.8 L670.64,237.8 L671.32,237.8 L672,237.8" stroke="#6fa6ee" stroke-width="1.7" fill="none" stroke-linejoin="round"/>
<path d="M495.7,237.7 L496.38,237.7 L497.06,237.68 L497.74,237.66 L498.42,237.63 L499.1,237.6 L499.78,237.56 L500.46,237.51 L501.15,237.46 L501.83,237.4 L502.51,237.34 L503.19,237.28 L503.87,237.2 L504.55,237.09 L505.23,236.95 L505.91,236.78 L506.59,236.6 L507.27,236.38 L507.95,236.15 L508.63,235.89 L509.31,235.6 L509.99,235.21 L510.68,234.71 L511.36,234.1 L512.04,233.41 L512.72,232.65 L513.4,231.84 L514.08,231 L514.76,230.13 L515.44,229.25 L516.12,228.28 L516.8,227.22 L517.48,226.07 L518.16,224.86 L518.84,223.6 L519.52,222.3 L520.21,220.97 L520.89,219.62 L521.57,218.27 L522.25,216.89 L522.93,215.47 L523.61,214 L524.29,212.49 L524.97,210.92 L525.65,209.29 L526.33,207.6 L527.01,205.83 L527.69,203.99 L528.37,202.03 L529.05,199.95 L529.73,197.71 L530.42,195.31 L531.1,192.61 L531.78,189.55 L532.46,186.31 L533.14,183.09 L533.82,180.04 L534.5,177 L535.18,173.93 L535.86,170.9 L536.54,167.97 L537.22,165.21 L537.9,162.68 L538.58,160.35 L539.26,158.04 L539.95,155.81 L540.63,153.74 L541.31,151.91 L541.99,150.39 L542.67,149.25 L543.35,148.23 L544.03,147.27 L544.71,146.42 L545.39,145.74 L546.07,145.28 L546.75,145.1 L547.43,145.33 L548.11,145.98 L548.79,146.91 L549.47,147.96 L550.16,149.35 L550.84,151.27 L551.52,153.46 L552.2,155.62 L552.88,157.54 L553.56,159.39 L554.24,161.22 L554.92,163.08 L555.6,165 L556.28,167.01 L556.96,169.06 L557.64,171.16 L558.32,173.29 L559,175.45 L559.69,177.62 L560.37,179.8 L561.05,181.98 L561.73,184.14 L562.41,186.29 L563.09,188.45 L563.77,190.62 L564.45,192.79 L565.13,194.95 L565.81,197.1 L566.49,199.24 L567.17,201.4 L567.85,203.51 L568.53,205.5 L569.22,207.38 L569.9,209.19 L570.58,210.9 L571.26,212.49 L571.94,213.95 L572.62,215.36 L573.3,216.69 L573.98,217.95 L574.66,219.09 L575.34,220.12 L576.02,221.04 L576.7,221.91 L577.38,222.72 L578.06,223.48 L578.74,224.2 L579.43,224.87 L580.11,225.49 L580.79,226.07 L581.47,226.62 L582.15,227.15 L582.83,227.65 L583.51,228.13 L584.19,228.58 L584.87,229.01 L585.55,229.42 L586.23,229.8 L586.91,230.16 L587.59,230.49 L588.27,230.81 L588.96,231.12 L589.64,231.41 L590.32,231.69 L591,231.95 L591.68,232.2 L592.36,232.45 L593.04,232.68 L593.72,232.9 L594.4,233.12 L595.08,233.33 L595.76,233.53 L596.44,233.72 L597.12,233.89 L597.8,234.06 L598.48,234.21 L599.17,234.36 L599.85,234.5 L600.53,234.65 L601.21,234.79 L601.89,234.93 L602.57,235.06 L603.25,235.19 L603.93,235.32 L604.61,235.44 L605.29,235.55 L605.97,235.66 L606.65,235.77 L607.33,235.87 L608.01,235.96 L608.7,236.05 L609.38,236.13 L610.06,236.21 L610.74,236.28 L611.42,236.35 L612.1,236.42 L612.78,236.48 L613.46,236.55 L614.14,236.62 L614.82,236.68 L615.5,236.74 L616.18,236.8 L616.86,236.86 L617.54,236.91 L618.23,236.96 L618.91,237.01 L619.59,237.06 L620.27,237.1 L620.95,237.14 L621.63,237.18 L622.31,237.21 L622.99,237.24 L623.67,237.26 L624.35,237.28 L625.03,237.3 L625.71,237.32 L626.39,237.33 L627.07,237.34 L627.75,237.36 L628.44,237.37 L629.12,237.38 L629.8,237.4 L630.48,237.41 L631.16,237.42 L631.84,237.44 L632.52,237.45 L633.2,237.46 L633.88,237.47 L634.56,237.48 L635.24,237.49 L635.92,237.51 L636.6,237.52 L637.28,237.53 L637.97,237.54 L638.65,237.55 L639.33,237.56 L640.01,237.57 L640.69,237.58 L641.37,237.59 L642.05,237.6 L642.73,237.61 L643.41,237.62 L644.09,237.62 L644.77,237.63 L645.45,237.64 L646.13,237.65 L646.81,237.66 L647.49,237.66 L648.18,237.67 L648.86,237.68 L649.54,237.69 L650.22,237.69 L650.9,237.7 L651.58,237.71 L652.26,237.71 L652.94,237.72 L653.62,237.72 L654.3,237.73 L654.98,237.73 L655.66,237.74 L656.34,237.74 L657.02,237.75 L657.71,237.75 L658.39,237.76 L659.07,237.76 L659.75,237.77 L660.43,237.77 L661.11,237.77 L661.79,237.78 L662.47,237.78 L663.15,237.78 L663.83,237.78 L664.51,237.79 L665.19,237.79 L665.87,237.79 L666.55,237.79 L667.24,237.79 L667.92,237.8 L668.6,237.8 L669.28,237.8 L669.96,237.8 L670.64,237.8 L671.32,237.8 L672,237.8" stroke="#3a70e6" stroke-width="1.7" fill="none" stroke-linejoin="round"/>
<path d="M495.7,237.8 L496.38,237.8 L497.06,237.8 L497.74,237.8 L498.42,237.8 L499.1,237.8 L499.78,237.8 L500.46,237.8 L501.15,237.8 L501.83,237.8 L502.51,237.8 L503.19,237.8 L503.87,237.8 L504.55,237.8 L505.23,237.8 L505.91,237.8 L506.59,237.8 L507.27,237.8 L507.95,237.8 L508.63,237.8 L509.31,237.8 L509.99,237.8 L510.68,237.8 L511.36,237.8 L512.04,237.8 L512.72,237.8 L513.4,237.8 L514.08,237.8 L514.76,237.8 L515.44,237.8 L516.12,237.8 L516.8,237.8 L517.48,237.8 L518.16,237.8 L518.84,237.8 L519.52,237.8 L520.21,237.8 L520.89,237.79 L521.57,237.78 L522.25,237.76 L522.93,237.74 L523.61,237.71 L524.29,237.68 L524.97,237.65 L525.65,237.62 L526.33,237.58 L527.01,237.55 L527.69,237.5 L528.37,237.45 L529.05,237.4 L529.73,237.33 L530.42,237.25 L531.1,237.14 L531.78,237.01 L532.46,236.86 L533.14,236.69 L533.82,236.5 L534.5,236.29 L535.18,236.07 L535.86,235.85 L536.54,235.6 L537.22,235.32 L537.9,235 L538.58,234.64 L539.26,234.25 L539.95,233.83 L540.63,233.37 L541.31,232.85 L541.99,232.28 L542.67,231.65 L543.35,230.98 L544.03,230.27 L544.71,229.5 L545.39,228.66 L546.07,227.75 L546.75,226.77 L547.43,225.72 L548.11,224.61 L548.79,223.36 L549.47,221.98 L550.16,220.5 L550.84,218.97 L551.52,217.42 L552.2,215.91 L552.88,214.42 L553.56,212.92 L554.24,211.42 L554.92,209.88 L555.6,208.31 L556.28,206.69 L556.96,204.99 L557.64,203.22 L558.32,201.4 L559,199.58 L559.69,197.78 L560.37,196.01 L561.05,194.24 L561.73,192.48 L562.41,190.72 L563.09,188.96 L563.77,187.19 L564.45,185.4 L565.13,183.58 L565.81,181.75 L566.49,179.9 L567.17,178.05 L567.85,176.22 L568.53,174.41 L569.22,172.57 L569.9,170.69 L570.58,168.86 L571.26,167.14 L571.94,165.63 L572.62,164.29 L573.3,163.04 L573.98,161.91 L574.66,160.93 L575.34,160.08 L576.02,159.23 L576.7,158.5 L577.38,158.06 L578.06,158.02 L578.74,158.16 L579.43,158.42 L580.11,158.78 L580.79,159.21 L581.47,159.7 L582.15,160.24 L582.83,161.04 L583.51,162.19 L584.19,163.58 L584.87,165.09 L585.55,166.58 L586.23,168.01 L586.91,169.52 L587.59,171.08 L588.27,172.64 L588.96,174.18 L589.64,175.72 L590.32,177.27 L591,178.87 L591.68,180.49 L592.36,182.15 L593.04,183.82 L593.72,185.48 L594.4,187.13 L595.08,188.8 L595.76,190.54 L596.44,192.41 L597.12,194.41 L597.8,196.37 L598.48,198.17 L599.17,199.91 L599.85,201.59 L600.53,203.23 L601.21,204.87 L601.89,206.51 L602.57,208.18 L603.25,209.84 L603.93,211.49 L604.61,213.1 L605.29,214.64 L605.97,216.13 L606.65,217.61 L607.33,219.06 L608.01,220.43 L608.7,221.7 L609.38,222.82 L610.06,223.84 L610.74,224.81 L611.42,225.72 L612.1,226.57 L612.78,227.36 L613.46,228.09 L614.14,228.75 L614.82,229.36 L615.5,229.95 L616.18,230.5 L616.86,231.02 L617.54,231.52 L618.23,231.98 L618.91,232.4 L619.59,232.79 L620.27,233.14 L620.95,233.46 L621.63,233.76 L622.31,234.04 L622.99,234.32 L623.67,234.58 L624.35,234.82 L625.03,235.06 L625.71,235.28 L626.39,235.48 L627.07,235.67 L627.75,235.84 L628.44,236 L629.12,236.15 L629.8,236.27 L630.48,236.4 L631.16,236.52 L631.84,236.64 L632.52,236.76 L633.2,236.87 L633.88,236.98 L634.56,237.08 L635.24,237.17 L635.92,237.25 L636.6,237.32 L637.28,237.38 L637.97,237.43 L638.65,237.47 L639.33,237.5 L640.01,237.51 L640.69,237.52 L641.37,237.54 L642.05,237.55 L642.73,237.56 L643.41,237.57 L644.09,237.59 L644.77,237.6 L645.45,237.61 L646.13,237.62 L646.81,237.63 L647.49,237.64 L648.18,237.65 L648.86,237.66 L649.54,237.67 L650.22,237.67 L650.9,237.68 L651.58,237.69 L652.26,237.7 L652.94,237.71 L653.62,237.71 L654.3,237.72 L654.98,237.73 L655.66,237.73 L656.34,237.74 L657.02,237.74 L657.71,237.75 L658.39,237.75 L659.07,237.76 L659.75,237.76 L660.43,237.77 L661.11,237.77 L661.79,237.77 L662.47,237.78 L663.15,237.78 L663.83,237.78 L664.51,237.79 L665.19,237.79 L665.87,237.79 L666.55,237.79 L667.24,237.79 L667.92,237.8 L668.6,237.8 L669.28,237.8 L669.96,237.8 L670.64,237.8 L671.32,237.8 L672,237.8" stroke="#2a48c8" stroke-width="1.7" fill="none" stroke-linejoin="round"/>
<path d="M495.7,237.8 L496.38,237.8 L497.06,237.8 L497.74,237.8 L498.42,237.8 L499.1,237.8 L499.78,237.8 L500.46,237.8 L501.15,237.8 L501.83,237.8 L502.51,237.8 L503.19,237.8 L503.87,237.8 L504.55,237.8 L505.23,237.8 L505.91,237.8 L506.59,237.8 L507.27,237.8 L507.95,237.8 L508.63,237.8 L509.31,237.8 L509.99,237.8 L510.68,237.8 L511.36,237.8 L512.04,237.8 L512.72,237.8 L513.4,237.8 L514.08,237.8 L514.76,237.8 L515.44,237.8 L516.12,237.8 L516.8,237.8 L517.48,237.8 L518.16,237.8 L518.84,237.8 L519.52,237.8 L520.21,237.8 L520.89,237.8 L521.57,237.8 L522.25,237.8 L522.93,237.8 L523.61,237.8 L524.29,237.8 L524.97,237.8 L525.65,237.8 L526.33,237.8 L527.01,237.8 L527.69,237.8 L528.37,237.8 L529.05,237.8 L529.73,237.8 L530.42,237.8 L531.1,237.8 L531.78,237.8 L532.46,237.8 L533.14,237.8 L533.82,237.8 L534.5,237.8 L535.18,237.8 L535.86,237.8 L536.54,237.8 L537.22,237.8 L537.9,237.8 L538.58,237.8 L539.26,237.8 L539.95,237.8 L540.63,237.8 L541.31,237.79 L541.99,237.79 L542.67,237.77 L543.35,237.76 L544.03,237.74 L544.71,237.72 L545.39,237.7 L546.07,237.68 L546.75,237.65 L547.43,237.62 L548.11,237.59 L548.79,237.55 L549.47,237.49 L550.16,237.41 L550.84,237.32 L551.52,237.22 L552.2,237.12 L552.88,237.02 L553.56,236.92 L554.24,236.82 L554.92,236.72 L555.6,236.61 L556.28,236.49 L556.96,236.36 L557.64,236.21 L558.32,236.05 L559,235.86 L559.69,235.62 L560.37,235.36 L561.05,235.05 L561.73,234.71 L562.41,234.35 L563.09,233.95 L563.77,233.54 L564.45,233.1 L565.13,232.64 L565.81,232.13 L566.49,231.56 L567.17,230.93 L567.85,230.24 L568.53,229.5 L569.22,228.72 L569.9,227.89 L570.58,226.99 L571.26,225.96 L571.94,224.81 L572.62,223.57 L573.3,222.29 L573.98,220.99 L574.66,219.71 L575.34,218.42 L576.02,217.11 L576.7,215.76 L577.38,214.36 L578.06,212.9 L578.74,211.37 L579.43,209.75 L580.11,208.06 L580.79,206.29 L581.47,204.44 L582.15,202.52 L582.83,200.5 L583.51,198.27 L584.19,195.99 L584.87,193.88 L585.55,191.86 L586.23,189.9 L586.91,188 L587.59,186.18 L588.27,184.42 L588.96,182.7 L589.64,181.05 L590.32,179.47 L591,177.97 L591.68,176.52 L592.36,175.12 L593.04,173.8 L593.72,172.57 L594.4,171.44 L595.08,170.36 L595.76,169.34 L596.44,168.44 L597.12,167.68 L597.8,166.98 L598.48,166.27 L599.17,165.6 L599.85,164.99 L600.53,164.49 L601.21,164.12 L601.89,163.92 L602.57,163.91 L603.25,163.97 L603.93,164.08 L604.61,164.23 L605.29,164.41 L605.97,164.63 L606.65,165.04 L607.33,165.71 L608.01,166.57 L608.7,167.53 L609.38,168.53 L610.06,169.52 L610.74,170.61 L611.42,171.81 L612.1,173.09 L612.78,174.43 L613.46,175.82 L614.14,177.26 L614.82,178.79 L615.5,180.4 L616.18,182.08 L616.86,183.82 L617.54,185.65 L618.23,187.64 L618.91,189.57 L619.59,191.43 L620.27,193.27 L620.95,195.06 L621.63,196.81 L622.31,198.53 L622.99,200.21 L623.67,201.87 L624.35,203.48 L625.03,205.04 L625.71,206.54 L626.39,208.01 L627.07,209.44 L627.75,210.83 L628.44,212.15 L629.12,213.4 L629.8,214.58 L630.48,215.71 L631.16,216.79 L631.84,217.84 L632.52,218.84 L633.2,219.8 L633.88,220.72 L634.56,221.61 L635.24,222.46 L635.92,223.3 L636.6,224.1 L637.28,224.87 L637.97,225.61 L638.65,226.3 L639.33,226.94 L640.01,227.54 L640.69,228.11 L641.37,228.64 L642.05,229.15 L642.73,229.64 L643.41,230.1 L644.09,230.54 L644.77,230.97 L645.45,231.38 L646.13,231.76 L646.81,232.13 L647.49,232.47 L648.18,232.78 L648.86,233.07 L649.54,233.35 L650.22,233.63 L650.9,233.89 L651.58,234.14 L652.26,234.38 L652.94,234.6 L653.62,234.82 L654.3,235.01 L654.98,235.2 L655.66,235.37 L656.34,235.54 L657.02,235.7 L657.71,235.86 L658.39,236.01 L659.07,236.15 L659.75,236.27 L660.43,236.39 L661.11,236.49 L661.79,236.58 L662.47,236.65 L663.15,236.72 L663.83,236.79 L664.51,236.86 L665.19,236.93 L665.87,236.99 L666.55,237.05 L667.24,237.1 L667.92,237.15 L668.6,237.19 L669.28,237.23 L669.96,237.26 L670.64,237.28 L671.32,237.3 L672,237.3" stroke="#1d2a8a" stroke-width="1.7" fill="none" stroke-linejoin="round"/>
<line x1="635.2" y1="147.9" x2="644.8" y2="147.9" stroke="#111111" stroke-width="1.3"/>
<text font-size="6.7" text-anchor="start" fill="#262626" font-weight="normal" font-style="normal" font-family='"Liberation Sans", sans-serif' transform="translate(648.3 150.49) scale(1 1.08)" stroke="#262626" stroke-width="0.12">Open-loop</text>
<line x1="635.2" y1="158.8" x2="644.8" y2="158.8" stroke="#a6d0f6" stroke-width="1.3"/>
<text font-size="6.7" text-anchor="start" fill="#262626" font-weight="normal" font-style="normal" font-family='"Liberation Sans", sans-serif' transform="translate(648.3 161.39) scale(1 1.08)" stroke="#262626" stroke-width="0.12">top99%</text>
<line x1="635.2" y1="170.5" x2="644.8" y2="170.5" stroke="#6fa6ee" stroke-width="1.3"/>
<text font-size="6.7" text-anchor="start" fill="#262626" font-weight="normal" font-style="normal" font-family='"Liberation Sans", sans-serif' transform="translate(648.3 173.09) scale(1 1.08)" stroke="#262626" stroke-width="0.12">top50%</text>
<line x1="635.2" y1="182.5" x2="644.8" y2="182.5" stroke="#3a70e6" stroke-width="1.3"/>
<text font-size="6.7" text-anchor="start" fill="#262626" font-weight="normal" font-style="normal" font-family='"Liberation Sans", sans-serif' transform="translate(648.3 185.09) scale(1 1.08)" stroke="#262626" stroke-width="0.12">top1%</text>
<line x1="635.2" y1="194.8" x2="644.8" y2="194.8" stroke="#2a48c8" stroke-width="1.3"/>
<text font-size="6.7" text-anchor="start" fill="#262626" font-weight="normal" font-style="normal" font-family='"Liberation Sans", sans-serif' transform="translate(648.3 197.39) scale(1 1.08)" stroke="#262626" stroke-width="0.12">10xMean</text>
<line x1="635.2" y1="206.7" x2="644.8" y2="206.7" stroke="#1d2a8a" stroke-width="1.3"/>
<text font-size="6.7" text-anchor="start" fill="#262626" font-weight="normal" font-style="normal" font-family='"Liberation Sans", sans-serif' transform="translate(648.3 209.29) scale(1 1.08)" stroke="#262626" stroke-width="0.12">20xMean</text>
<text font-size="8.6" text-anchor="start" fill="#000" font-weight="bold" font-style="normal" font-family='"Liberation Sans", sans-serif' transform="translate(1.2 267) scale(1 1.08)">g.</text>
<text font-size="6.5" text-anchor="start" fill="#262626" font-weight="normal" font-style="normal" font-family='"Liberation Sans", sans-serif' transform="translate(31.8 273.9) scale(1 1.08)" stroke="#262626" stroke-width="0.12">×</text>
<text font-size="7.1" text-anchor="start" fill="#262626" font-weight="normal" font-style="normal" font-family='"Liberation Sans", sans-serif' transform="translate(35.3 274) scale(1 1.08)" stroke="#262626" stroke-width="0.12">10</text>
<text font-size="4.9" text-anchor="start" fill="#262626" font-weight="normal" font-style="normal" font-family='"Liberation Sans", sans-serif' transform="translate(43.6 270.6) scale(1 1.08)" stroke="#262626" stroke-width="0.12">16</text>
<line x1="33.6" y1="278.5" x2="33.6" y2="376.9" stroke="#7a7a7a" stroke-width="0.7"/>
<line x1="31.4" y1="376.9" x2="190" y2="376.9" stroke="#7a7a7a" stroke-width="0.7"/>
<text font-size="7.1" text-anchor="end" fill="#262626" font-weight="normal" font-style="normal" font-family='"Liberation Sans", sans-serif' transform="translate(32 349.7) scale(1 1.08)" stroke="#262626" stroke-width="0.12">0.5</text>
<line x1="33.6" y1="346.95" x2="35.6" y2="346.95" stroke="#7a7a7a" stroke-width="0.5"/>
<text font-size="7.1" text-anchor="end" fill="#262626" font-weight="normal" font-style="normal" font-family='"Liberation Sans", sans-serif' transform="translate(32 319.75) scale(1 1.08)" stroke="#262626" stroke-width="0.12">1.0</text>
<line x1="33.6" y1="317" x2="35.6" y2="317" stroke="#7a7a7a" stroke-width="0.5"/>
<text font-size="7.1" text-anchor="end" fill="#262626" font-weight="normal" font-style="normal" font-family='"Liberation Sans", sans-serif' transform="translate(32 289.8) scale(1 1.08)" stroke="#262626" stroke-width="0.12">1.5</text>
<line x1="33.6" y1="287.05" x2="35.6" y2="287.05" stroke="#7a7a7a" stroke-width="0.5"/>
<line x1="33.6" y1="370.91" x2="34.8" y2="370.91" stroke="#7a7a7a" stroke-width="0.4"/>
<line x1="33.6" y1="364.92" x2="34.8" y2="364.92" stroke="#7a7a7a" stroke-width="0.4"/>
<line x1="33.6" y1="358.93" x2="34.8" y2="358.93" stroke="#7a7a7a" stroke-width="0.4"/>
<line x1="33.6" y1="352.94" x2="34.8" y2="352.94" stroke="#7a7a7a" stroke-width="0.4"/>
<line x1="33.6" y1="346.95" x2="34.8" y2="346.95" stroke="#7a7a7a" stroke-width="0.4"/>
<line x1="33.6" y1="340.96" x2="34.8" y2="340.96" stroke="#7a7a7a" stroke-width="0.4"/>
<line x1="33.6" y1="334.97" x2="34.8" y2="334.97" stroke="#7a7a7a" stroke-width="0.4"/>
<line x1="33.6" y1="328.98" x2="34.8" y2="328.98" stroke="#7a7a7a" stroke-width="0.4"/>
<line x1="33.6" y1="322.99" x2="34.8" y2="322.99" stroke="#7a7a7a" stroke-width="0.4"/>
<line x1="33.6" y1="317" x2="34.8" y2="317" stroke="#7a7a7a" stroke-width="0.4"/>
<line x1="33.6" y1="311.01" x2="34.8" y2="311.01" stroke="#7a7a7a" stroke-width="0.4"/>
<line x1="33.6" y1="305.02" x2="34.8" y2="305.02" stroke="#7a7a7a" stroke-width="0.4"/>
<line x1="33.6" y1="299.03" x2="34.8" y2="299.03" stroke="#7a7a7a" stroke-width="0.4"/>
<line x1="33.6" y1="293.04" x2="34.8" y2="293.04" stroke="#7a7a7a" stroke-width="0.4"/>
<line x1="33.6" y1="287.05" x2="34.8" y2="287.05" stroke="#7a7a7a" stroke-width="0.4"/>
<line x1="33.6" y1="281.06" x2="34.8" y2="281.06" stroke="#7a7a7a" stroke-width="0.4"/>
<text font-size="7.1" text-anchor="middle" fill="#262626" font-weight="normal" font-style="normal" font-family='"Liberation Sans", sans-serif' transform="translate(65.7 386.45) scale(1 1.08)" stroke="#262626" stroke-width="0.12">5</text>
<text font-size="7.1" text-anchor="middle" fill="#262626" font-weight="normal" font-style="normal" font-family='"Liberation Sans", sans-serif' transform="translate(98 386.45) scale(1 1.08)" stroke="#262626" stroke-width="0.12">10</text>
<text font-size="7.1" text-anchor="middle" fill="#262626" font-weight="normal" font-style="normal" font-family='"Liberation Sans", sans-serif' transform="translate(130.3 386.45) scale(1 1.08)" stroke="#262626" stroke-width="0.12">15</text>
<text font-size="7.1" text-anchor="middle" fill="#262626" font-weight="normal" font-style="normal" font-family='"Liberation Sans", sans-serif' transform="translate(162.6 386.45) scale(1 1.08)" stroke="#262626" stroke-width="0.12">20</text>
<line x1="39.86" y1="376.9" x2="39.86" y2="375.7" stroke="#7a7a7a" stroke-width="0.4"/>
<line x1="46.32" y1="376.9" x2="46.32" y2="375.7" stroke="#7a7a7a" stroke-width="0.4"/>
<line x1="52.78" y1="376.9" x2="52.78" y2="375.7" stroke="#7a7a7a" stroke-width="0.4"/>
<line x1="59.24" y1="376.9" x2="59.24" y2="375.7" stroke="#7a7a7a" stroke-width="0.4"/>
<line x1="65.7" y1="376.9" x2="65.7" y2="374.9" stroke="#7a7a7a" stroke-width="0.4"/>
<line x1="72.16" y1="376.9" x2="72.16" y2="375.7" stroke="#7a7a7a" stroke-width="0.4"/>
<line x1="78.62" y1="376.9" x2="78.62" y2="375.7" stroke="#7a7a7a" stroke-width="0.4"/>
<line x1="85.08" y1="376.9" x2="85.08" y2="375.7" stroke="#7a7a7a" stroke-width="0.4"/>
<line x1="91.54" y1="376.9" x2="91.54" y2="375.7" stroke="#7a7a7a" stroke-width="0.4"/>
<line x1="98" y1="376.9" x2="98" y2="374.9" stroke="#7a7a7a" stroke-width="0.4"/>
<line x1="104.46" y1="376.9" x2="104.46" y2="375.7" stroke="#7a7a7a" stroke-width="0.4"/>
<line x1="110.92" y1="376.9" x2="110.92" y2="375.7" stroke="#7a7a7a" stroke-width="0.4"/>
<line x1="117.38" y1="376.9" x2="117.38" y2="375.7" stroke="#7a7a7a" stroke-width="0.4"/>
<line x1="123.84" y1="376.9" x2="123.84" y2="375.7" stroke="#7a7a7a" stroke-width="0.4"/>
<line x1="130.3" y1="376.9" x2="130.3" y2="374.9" stroke="#7a7a7a" stroke-width="0.4"/>
<line x1="136.76" y1="376.9" x2="136.76" y2="375.7" stroke="#7a7a7a" stroke-width="0.4"/>
<line x1="143.22" y1="376.9" x2="143.22" y2="375.7" stroke="#7a7a7a" stroke-width="0.4"/>
<line x1="149.68" y1="376.9" x2="149.68" y2="375.7" stroke="#7a7a7a" stroke-width="0.4"/>
<line x1="156.14" y1="376.9" x2="156.14" y2="375.7" stroke="#7a7a7a" stroke-width="0.4"/>
<line x1="162.6" y1="376.9" x2="162.6" y2="374.9" stroke="#7a7a7a" stroke-width="0.4"/>
<line x1="169.06" y1="376.9" x2="169.06" y2="375.7" stroke="#7a7a7a" stroke-width="0.4"/>
<line x1="175.52" y1="376.9" x2="175.52" y2="375.7" stroke="#7a7a7a" stroke-width="0.4"/>
<line x1="181.98" y1="376.9" x2="181.98" y2="375.7" stroke="#7a7a7a" stroke-width="0.4"/>
<line x1="188.44" y1="376.9" x2="188.44" y2="375.7" stroke="#7a7a7a" stroke-width="0.4"/>
<text font-size="7.7" text-anchor="middle" fill="#1a1a1a" font-weight="normal" font-style="normal" font-family='"Liberation Sans", sans-serif' transform="translate(13.6 316.8) rotate(-90) scale(1 1.08)" stroke="#1a1a1a" stroke-width="0.12">Total Metabolite Conc.</text>
<text font-size="7.7" text-anchor="middle" fill="#1a1a1a" font-weight="normal" font-style="normal" font-family='"Liberation Sans", sans-serif' transform="translate(22.5 316) rotate(-90) scale(1 1.08)" stroke="#1a1a1a" stroke-width="0.12">(arb. units)</text>
<line x1="35" y1="388.4" x2="259.1" y2="388.4" stroke="#ddd" stroke-width="0.6"/>
<text font-size="7.6" text-anchor="middle" fill="#1a1a1a" font-weight="normal" font-style="normal" font-family='"Liberation Sans", sans-serif' transform="translate(115 395.6) scale(1 1.08)" stroke="#1a1a1a" stroke-width="0.12">Time (h)</text>
<path d="M33.4,376.78 L34.05,376.77 L34.69,376.76 L35.34,376.75 L35.98,376.74 L36.63,376.73 L37.28,376.72 L37.92,376.7 L38.57,376.69 L39.21,376.67 L39.86,376.66 L40.51,376.64 L41.15,376.62 L41.8,376.6 L42.44,376.58 L43.09,376.56 L43.74,376.53 L44.38,376.51 L45.03,376.48 L45.67,376.45 L46.32,376.41 L46.97,376.38 L47.61,376.34 L48.26,376.3 L48.9,376.26 L49.55,376.21 L50.2,376.16 L50.84,376.11 L51.49,376.05 L52.13,375.99 L52.78,375.92 L53.43,375.85 L54.07,375.77 L54.72,375.69 L55.36,375.6 L56.01,375.51 L56.66,375.41 L57.3,375.3 L57.95,375.19 L58.59,375.06 L59.24,374.93 L59.89,374.79 L60.53,374.63 L61.18,374.47 L61.82,374.29 L62.47,374.1 L63.12,373.9 L63.76,373.68 L64.41,373.45 L65.05,373.2 L65.7,372.93 L66.35,372.64 L66.99,372.33 L67.64,372 L68.28,371.65 L68.93,371.27 L69.58,370.86 L70.22,370.42 L70.87,369.95 L71.51,369.44 L72.16,368.9 L72.81,368.32 L73.45,367.7 L74.1,367.03 L74.74,366.32 L75.39,365.55 L76.04,364.73 L76.68,363.85 L77.33,362.9 L77.97,361.89 L78.62,360.8 L79.27,359.63 L79.91,358.38 L80.56,357.03 L81.2,355.59 L81.85,354.05 L82.5,352.39 L83.14,350.62 L83.27,350.24 L188.44,350.24" stroke="#111111" stroke-width="1.5" fill="none" stroke-linejoin="round"/>
<path d="M33.4,376.72 L34.05,376.71 L34.69,376.7 L35.34,376.69 L35.98,376.68 L36.63,376.67 L37.28,376.65 L37.92,376.64 L38.57,376.62 L39.21,376.61 L39.86,376.59 L40.51,376.57 L41.15,376.55 L41.8,376.54 L42.44,376.51 L43.09,376.49 L43.74,376.47 L44.38,376.44 L45.03,376.42 L45.67,376.39 L46.32,376.36 L46.97,376.33 L47.61,376.3 L48.26,376.26 L48.9,376.22 L49.55,376.19 L50.2,376.14 L50.84,376.1 L51.49,376.05 L52.13,376.01 L52.78,375.95 L53.43,375.9 L54.07,375.84 L54.72,375.78 L55.36,375.72 L56.01,375.65 L56.66,375.58 L57.3,375.5 L57.95,375.42 L58.59,375.33 L59.24,375.24 L59.89,375.15 L60.53,375.05 L61.18,374.94 L61.82,374.83 L62.47,374.71 L63.12,374.58 L63.76,374.45 L64.41,374.31 L65.05,374.16 L65.7,374 L66.35,373.83 L66.99,373.66 L67.64,373.47 L68.28,373.27 L68.93,373.07 L69.58,372.84 L70.22,372.61 L70.87,372.36 L71.51,372.1 L72.16,371.83 L72.81,371.53 L73.45,371.23 L74.1,370.9 L74.74,370.55 L75.39,370.19 L76.04,369.8 L76.68,369.39 L77.33,368.96 L77.97,368.5 L78.62,368.02 L79.27,367.51 L79.91,366.97 L80.56,366.39 L81.2,365.79 L81.85,365.15 L82.5,364.47 L83.14,363.75 L83.79,363 L84.43,362.2 L85.08,361.35 L85.73,360.45 L86.37,359.51 L87.02,358.51 L87.66,357.45 L88.31,356.33 L88.96,355.14 L89.6,353.89 L90.25,352.56 L90.89,351.16 L91.54,349.68 L92.19,348.11 L92.83,346.45 L93.48,344.7 L94.12,342.84 L94.51,341.68 L188.44,341.68" stroke="#b4d8f6" stroke-width="1.5" fill="none" stroke-linejoin="round"/>
<path d="M33.4,376.73 L34.05,376.72 L34.69,376.71 L35.34,376.7 L35.98,376.69 L36.63,376.68 L37.28,376.66 L37.92,376.65 L38.57,376.64 L39.21,376.62 L39.86,376.61 L40.51,376.59 L41.15,376.57 L41.8,376.56 L42.44,376.54 L43.09,376.52 L43.74,376.5 L44.38,376.47 L45.03,376.45 L45.67,376.42 L46.32,376.4 L46.97,376.37 L47.61,376.34 L48.26,376.31 L48.9,376.28 L49.55,376.24 L50.2,376.21 L50.84,376.17 L51.49,376.13 L52.13,376.08 L52.78,376.04 L53.43,375.99 L54.07,375.94 L54.72,375.89 L55.36,375.83 L56.01,375.77 L56.66,375.71 L57.3,375.64 L57.95,375.57 L58.59,375.5 L59.24,375.42 L59.89,375.34 L60.53,375.25 L61.18,375.16 L61.82,375.07 L62.47,374.96 L63.12,374.86 L63.76,374.74 L64.41,374.62 L65.05,374.5 L65.7,374.36 L66.35,374.22 L66.99,374.07 L67.64,373.92 L68.28,373.75 L68.93,373.58 L69.58,373.39 L70.22,373.2 L70.87,372.99 L71.51,372.78 L72.16,372.55 L72.81,372.31 L73.45,372.05 L74.1,371.78 L74.74,371.5 L75.39,371.2 L76.04,370.88 L76.68,370.55 L77.33,370.2 L77.97,369.82 L78.62,369.43 L79.27,369.02 L79.91,368.58 L80.56,368.12 L81.2,367.63 L81.85,367.12 L82.5,366.57 L83.14,366 L83.79,365.4 L84.43,364.76 L85.08,364.08 L85.73,363.37 L86.37,362.62 L87.02,361.83 L87.66,360.99 L88.31,360.11 L88.96,359.18 L89.6,358.2 L90.25,357.16 L90.89,356.06 L91.54,354.91 L92.19,353.69 L92.83,352.4 L93.48,351.04 L94.12,349.61 L94.77,348.09 L95.42,346.49 L96.06,344.81 L96.71,343.03 L97.35,341.15 L98,339.16 L188.44,339.16" stroke="#96c4f2" stroke-width="1.5" fill="none" stroke-linejoin="round"/>
<path d="M33.4,376.73 L34.05,376.72 L34.69,376.71 L35.34,376.7 L35.98,376.69 L36.63,376.68 L37.28,376.67 L37.92,376.66 L38.57,376.65 L39.21,376.63 L39.86,376.62 L40.51,376.61 L41.15,376.59 L41.8,376.57 L42.44,376.56 L43.09,376.54 L43.74,376.52 L44.38,376.5 L45.03,376.48 L45.67,376.46 L46.32,376.43 L46.97,376.41 L47.61,376.38 L48.26,376.36 L48.9,376.33 L49.55,376.3 L50.2,376.27 L50.84,376.23 L51.49,376.2 L52.13,376.16 L52.78,376.12 L53.43,376.08 L54.07,376.04 L54.72,376 L55.36,375.95 L56.01,375.9 L56.66,375.85 L57.3,375.79 L57.95,375.73 L58.59,375.67 L59.24,375.61 L59.89,375.54 L60.53,375.47 L61.18,375.39 L61.82,375.32 L62.47,375.23 L63.12,375.15 L63.76,375.05 L64.41,374.96 L65.05,374.86 L65.7,374.75 L66.35,374.64 L66.99,374.52 L67.64,374.39 L68.28,374.26 L68.93,374.12 L69.58,373.98 L70.22,373.83 L70.87,373.66 L71.51,373.49 L72.16,373.32 L72.81,373.13 L73.45,372.93 L74.1,372.72 L74.74,372.51 L75.39,372.28 L76.04,372.03 L76.68,371.78 L77.33,371.51 L77.97,371.23 L78.62,370.93 L79.27,370.62 L79.91,370.29 L80.56,369.95 L81.2,369.58 L81.85,369.2 L82.5,368.8 L83.14,368.37 L83.79,367.93 L84.43,367.46 L85.08,366.96 L85.73,366.44 L86.37,365.9 L87.02,365.32 L87.66,364.71 L88.31,364.08 L88.96,363.41 L89.6,362.7 L90.25,361.96 L90.89,361.17 L91.54,360.35 L92.19,359.49 L92.83,358.57 L93.48,357.62 L94.12,356.61 L94.77,355.54 L95.42,354.43 L96.06,353.25 L96.71,352.01 L97.35,350.71 L98,349.34 L98.65,347.9 L99.29,346.38 L99.94,344.79 L100.58,343.11 L101.23,341.34 L101.88,339.48 L102.52,337.52 L103.17,335.46 L103.62,333.95 L188.44,333.95" stroke="#6ea4ee" stroke-width="1.5" fill="none" stroke-linejoin="round"/>
<path d="M33.4,376.73 L34.05,376.73 L34.69,376.72 L35.34,376.71 L35.98,376.7 L36.63,376.69 L37.28,376.68 L37.92,376.67 L38.57,376.66 L39.21,376.65 L39.86,376.63 L40.51,376.62 L41.15,376.61 L41.8,376.59 L42.44,376.58 L43.09,376.56 L43.74,376.54 L44.38,376.53 L45.03,376.51 L45.67,376.49 L46.32,376.47 L46.97,376.45 L47.61,376.43 L48.26,376.4 L48.9,376.38 L49.55,376.35 L50.2,376.32 L50.84,376.3 L51.49,376.27 L52.13,376.24 L52.78,376.2 L53.43,376.17 L54.07,376.13 L54.72,376.09 L55.36,376.06 L56.01,376.01 L56.66,375.97 L57.3,375.92 L57.95,375.88 L58.59,375.83 L59.24,375.77 L59.89,375.72 L60.53,375.66 L61.18,375.6 L61.82,375.53 L62.47,375.47 L63.12,375.4 L63.76,375.32 L64.41,375.25 L65.05,375.16 L65.7,375.08 L66.35,374.99 L66.99,374.9 L67.64,374.8 L68.28,374.69 L68.93,374.58 L69.58,374.47 L70.22,374.35 L70.87,374.23 L71.51,374.09 L72.16,373.96 L72.81,373.81 L73.45,373.66 L74.1,373.5 L74.74,373.33 L75.39,373.16 L76.04,372.97 L76.68,372.78 L77.33,372.58 L77.97,372.37 L78.62,372.14 L79.27,371.91 L79.91,371.66 L80.56,371.41 L81.2,371.14 L81.85,370.85 L82.5,370.56 L83.14,370.24 L83.79,369.92 L84.43,369.57 L85.08,369.21 L85.73,368.84 L86.37,368.44 L87.02,368.02 L87.66,367.59 L88.31,367.13 L88.96,366.65 L89.6,366.14 L90.25,365.62 L90.89,365.06 L91.54,364.48 L92.19,363.87 L92.83,363.23 L93.48,362.55 L94.12,361.85 L94.77,361.11 L95.42,360.33 L96.06,359.52 L96.71,358.66 L97.35,357.77 L98,356.83 L98.65,355.84 L99.29,354.8 L99.94,353.72 L100.58,352.58 L101.23,351.38 L101.88,350.13 L102.52,348.81 L103.17,347.43 L103.81,345.98 L104.46,344.46 L105.11,342.86 L105.75,341.19 L106.4,339.43 L107.04,337.59 L107.69,335.66 L108.34,333.63 L108.98,331.5 L109.37,330.18 L188.44,330.18" stroke="#3f74e6" stroke-width="1.5" fill="none" stroke-linejoin="round"/>
<path d="M33.4,376.74 L34.05,376.74 L34.69,376.73 L35.34,376.72 L35.98,376.71 L36.63,376.7 L37.28,376.69 L37.92,376.68 L38.57,376.67 L39.21,376.66 L39.86,376.65 L40.51,376.64 L41.15,376.63 L41.8,376.61 L42.44,376.6 L43.09,376.59 L43.74,376.57 L44.38,376.56 L45.03,376.54 L45.67,376.52 L46.32,376.51 L46.97,376.49 L47.61,376.47 L48.26,376.45 L48.9,376.43 L49.55,376.4 L50.2,376.38 L50.84,376.36 L51.49,376.33 L52.13,376.3 L52.78,376.27 L53.43,376.25 L54.07,376.21 L54.72,376.18 L55.36,376.15 L56.01,376.11 L56.66,376.08 L57.3,376.04 L57.95,376 L58.59,375.95 L59.24,375.91 L59.89,375.86 L60.53,375.81 L61.18,375.76 L61.82,375.71 L62.47,375.65 L63.12,375.59 L63.76,375.53 L64.41,375.47 L65.05,375.4 L65.7,375.33 L66.35,375.26 L66.99,375.18 L67.64,375.1 L68.28,375.01 L68.93,374.93 L69.58,374.83 L70.22,374.74 L70.87,374.63 L71.51,374.53 L72.16,374.41 L72.81,374.3 L73.45,374.18 L74.1,374.05 L74.74,373.91 L75.39,373.77 L76.04,373.63 L76.68,373.47 L77.33,373.31 L77.97,373.14 L78.62,372.96 L79.27,372.78 L79.91,372.58 L80.56,372.38 L81.2,372.17 L81.85,371.95 L82.5,371.71 L83.14,371.47 L83.79,371.21 L84.43,370.94 L85.08,370.66 L85.73,370.37 L86.37,370.06 L87.02,369.74 L87.66,369.4 L88.31,369.05 L88.96,368.68 L89.6,368.3 L90.25,367.89 L90.89,367.47 L91.54,367.02 L92.19,366.56 L92.83,366.07 L93.48,365.56 L94.12,365.03 L94.77,364.47 L95.42,363.88 L96.06,363.27 L96.71,362.63 L97.35,361.96 L98,361.25 L98.65,360.52 L99.29,359.74 L99.94,358.94 L100.58,358.09 L101.23,357.21 L101.88,356.28 L102.52,355.31 L103.17,354.29 L103.81,353.23 L104.46,352.11 L105.11,350.95 L105.75,349.72 L106.4,348.45 L107.04,347.11 L107.69,345.7 L108.34,344.23 L108.98,342.7 L109.63,341.09 L110.27,339.4 L110.92,337.64 L111.57,335.79 L112.21,333.85 L112.86,331.83 L113.5,329.7 L114.15,327.48 L114.6,325.87 L188.44,325.87" stroke="#2f5ad8" stroke-width="1.5" fill="none" stroke-linejoin="round"/>
<path d="M33.4,376.26 L34.05,376.25 L34.69,376.24 L35.34,376.22 L35.98,376.21 L36.63,376.2 L37.28,376.18 L37.92,376.17 L38.57,376.16 L39.21,376.14 L39.86,376.13 L40.51,376.11 L41.15,376.1 L41.8,376.08 L42.44,376.07 L43.09,376.05 L43.74,376.03 L44.38,376.02 L45.03,376 L45.67,375.98 L46.32,375.96 L46.97,375.95 L47.61,375.93 L48.26,375.91 L48.9,375.89 L49.55,375.87 L50.2,375.85 L50.84,375.83 L51.49,375.81 L52.13,375.79 L52.78,375.77 L53.43,375.74 L54.07,375.72 L54.72,375.7 L55.36,375.68 L56.01,375.65 L56.66,375.63 L57.3,375.6 L57.95,375.58 L58.59,375.55 L59.24,375.53 L59.89,375.5 L60.53,375.47 L61.18,375.44 L61.82,375.42 L62.47,375.39 L63.12,375.36 L63.76,375.33 L64.41,375.3 L65.05,375.27 L65.7,375.23 L66.35,375.2 L66.99,375.17 L67.64,375.14 L68.28,375.1 L68.93,375.07 L69.58,375.03 L70.22,375 L70.87,374.96 L71.51,374.92 L72.16,374.88 L72.81,374.84 L73.45,374.8 L74.1,374.76 L74.74,374.72 L75.39,374.68 L76.04,374.64 L76.68,374.59 L77.33,374.55 L77.97,374.5 L78.62,374.46 L79.27,374.41 L79.91,374.36 L80.56,374.31 L81.2,374.26 L81.85,374.21 L82.5,374.16 L83.14,374.1 L83.79,374.05 L84.43,373.99 L85.08,373.94 L85.73,373.88 L86.37,373.82 L87.02,373.76 L87.66,373.7 L88.31,373.64 L88.96,373.58 L89.6,373.51 L90.25,373.45 L90.89,373.38 L91.54,373.31 L92.19,373.24 L92.83,373.17 L93.48,373.1 L94.12,373.02 L94.77,372.95 L95.42,372.87 L96.06,372.79 L96.71,372.71 L97.35,372.63 L98,372.55 L98.65,372.47 L99.29,372.38 L99.94,372.29 L100.58,372.2 L101.23,372.11 L101.88,372.02 L102.52,371.93 L103.17,371.83 L103.81,371.73 L104.46,371.63 L105.11,371.53 L105.75,371.42 L106.4,371.32 L107.04,371.21 L107.69,371.1 L108.34,370.99 L108.98,370.87 L109.63,370.76 L110.27,370.64 L110.92,370.51 L111.57,370.39 L112.21,370.26 L112.86,370.14 L113.5,370 L114.15,369.87 L114.8,369.73 L115.44,369.6 L116.09,369.45 L116.73,369.31 L117.38,369.16 L118.03,369.01 L118.67,368.86 L119.32,368.7 L119.96,368.55 L120.61,368.38 L121.26,368.22 L121.9,368.05 L122.55,367.88 L123.19,367.7 L123.84,367.53 L124.49,367.34 L125.13,367.16 L125.78,366.97 L126.42,366.78 L127.07,366.58 L127.72,366.38 L128.36,366.18 L129.01,365.97 L129.65,365.76 L130.3,365.54 L130.95,365.32 L131.59,365.1 L132.24,364.87 L132.88,364.63 L133.53,364.4 L134.18,364.15 L134.82,363.91 L135.47,363.66 L136.11,363.4 L136.76,363.14 L137.41,362.87 L138.05,362.6 L138.7,362.32 L139.34,362.04 L139.99,361.75 L140.64,361.46 L141.28,361.16 L141.93,360.85 L142.57,360.54 L143.22,360.22 L143.87,359.9 L144.51,359.57 L145.16,359.23 L145.8,358.89 L146.45,358.54 L147.1,358.19 L147.74,357.82 L148.39,357.45 L149.03,357.08 L149.68,356.69 L150.33,356.3 L150.97,355.9 L151.62,355.5 L152.26,355.08 L152.91,354.66 L153.56,354.23 L154.2,353.79 L154.85,353.34 L155.49,352.88 L156.14,352.42 L156.79,351.94 L157.43,351.46 L158.08,350.96 L158.72,350.46 L159.37,349.95 L160.02,349.43 L160.66,348.89 L161.31,348.35 L161.95,347.8 L162.6,347.23 L163.25,346.66 L163.89,346.07 L164.54,345.47 L165.18,344.87 L165.83,344.24 L166.48,343.61 L167.12,342.97 L167.77,342.31 L168.41,341.64 L169.06,340.95 L169.71,340.26 L170.35,339.55 L171,338.82 L171.64,338.08 L172.29,337.33 L172.94,336.57 L173.58,335.78 L174.23,334.99 L174.87,334.17 L175.52,333.35 L176.17,332.5 L176.81,331.64 L177.46,330.76 L178.1,329.87 L178.75,328.96 L179.4,328.03 L180.04,327.08 L180.69,326.11 L181.33,325.13 L181.98,324.13 L182.63,323.1 L183.27,322.06 L183.92,321 L184.56,319.91 L185.21,318.81 L185.86,317.68 L186.5,316.53 L187.15,315.36 L187.79,314.17 L188.44,312.96" stroke="#2b44b8" stroke-width="1.5" fill="none" stroke-linejoin="round"/>
<path d="M33.4,376.33 L34.05,376.32 L34.69,376.3 L35.34,376.29 L35.98,376.28 L36.63,376.26 L37.28,376.25 L37.92,376.23 L38.57,376.21 L39.21,376.2 L39.86,376.18 L40.51,376.16 L41.15,376.14 L41.8,376.13 L42.44,376.11 L43.09,376.09 L43.74,376.07 L44.38,376.05 L45.03,376.03 L45.67,376.01 L46.32,375.98 L46.97,375.96 L47.61,375.94 L48.26,375.92 L48.9,375.89 L49.55,375.87 L50.2,375.84 L50.84,375.82 L51.49,375.79 L52.13,375.76 L52.78,375.73 L53.43,375.71 L54.07,375.68 L54.72,375.65 L55.36,375.62 L56.01,375.59 L56.66,375.55 L57.3,375.52 L57.95,375.49 L58.59,375.45 L59.24,375.42 L59.89,375.38 L60.53,375.35 L61.18,375.31 L61.82,375.27 L62.47,375.23 L63.12,375.19 L63.76,375.15 L64.41,375.11 L65.05,375.06 L65.7,375.02 L66.35,374.97 L66.99,374.92 L67.64,374.88 L68.28,374.83 L68.93,374.78 L69.58,374.73 L70.22,374.67 L70.87,374.62 L71.51,374.56 L72.16,374.51 L72.81,374.45 L73.45,374.39 L74.1,374.33 L74.74,374.27 L75.39,374.2 L76.04,374.14 L76.68,374.07 L77.33,374 L77.97,373.93 L78.62,373.86 L79.27,373.78 L79.91,373.71 L80.56,373.63 L81.2,373.55 L81.85,373.47 L82.5,373.39 L83.14,373.3 L83.79,373.21 L84.43,373.12 L85.08,373.03 L85.73,372.94 L86.37,372.84 L87.02,372.74 L87.66,372.64 L88.31,372.54 L88.96,372.43 L89.6,372.32 L90.25,372.21 L90.89,372.1 L91.54,371.98 L92.19,371.86 L92.83,371.74 L93.48,371.62 L94.12,371.49 L94.77,371.36 L95.42,371.22 L96.06,371.08 L96.71,370.94 L97.35,370.8 L98,370.65 L98.65,370.5 L99.29,370.34 L99.94,370.18 L100.58,370.02 L101.23,369.85 L101.88,369.68 L102.52,369.5 L103.17,369.32 L103.81,369.14 L104.46,368.95 L105.11,368.76 L105.75,368.56 L106.4,368.36 L107.04,368.15 L107.69,367.94 L108.34,367.72 L108.98,367.5 L109.63,367.27 L110.27,367.04 L110.92,366.8 L111.57,366.55 L112.21,366.3 L112.86,366.04 L113.5,365.78 L114.15,365.51 L114.8,365.23 L115.44,364.95 L116.09,364.66 L116.73,364.36 L117.38,364.06 L118.03,363.74 L118.67,363.42 L119.32,363.1 L119.96,362.76 L120.61,362.42 L121.26,362.07 L121.9,361.71 L122.55,361.34 L123.19,360.96 L123.84,360.57 L124.49,360.18 L125.13,359.77 L125.78,359.35 L126.42,358.93 L127.07,358.49 L127.72,358.04 L128.36,357.59 L129.01,357.12 L129.65,356.64 L130.3,356.14 L130.95,355.64 L131.59,355.12 L132.24,354.59 L132.88,354.05 L133.53,353.5 L134.18,352.93 L134.82,352.35 L135.47,351.75 L136.11,351.14 L136.76,350.51 L137.41,349.87 L138.05,349.22 L138.7,348.54 L139.34,347.85 L139.99,347.15 L140.64,346.43 L141.28,345.69 L141.93,344.93 L142.57,344.15 L143.22,343.36 L143.87,342.54 L144.51,341.71 L145.16,340.85 L145.8,339.98 L146.45,339.08 L147.1,338.16 L147.74,337.22 L148.39,336.26 L149.03,335.27 L149.68,334.26 L150.33,333.22 L150.97,332.16 L151.62,331.07 L152.26,329.96 L152.91,328.82 L153.56,327.65 L154.2,326.46 L154.85,325.23 L155.49,323.98 L156.14,322.69 L156.79,321.37 L157.43,320.02 L158.08,318.64 L158.72,317.23 L159.37,315.78 L160.02,314.29 L160.66,312.77 L161.31,311.22 L161.95,309.62 L162.6,307.99 L163.25,306.31 L163.89,304.6 L164.54,302.84 L165.18,301.04 L165.83,299.2 L166.48,297.31 L167.12,295.38 L167.77,293.4 L168.41,291.37 L169.06,289.29 L169.71,287.16 L170.35,284.98 L170.68,283.88 L188.44,283.88" stroke="#1f2d8e" stroke-width="1.5" fill="none" stroke-linejoin="round"/>
<path d="M259.1,276 V388.4" stroke="#e6e6e6" stroke-width="0.8" fill="none"/>
<line x1="200.3" y1="286.1" x2="210" y2="286.1" stroke="#111111" stroke-width="1.6"/>
<text font-size="6.9" text-anchor="start" fill="#262626" font-weight="normal" font-style="normal" font-family='"Liberation Sans", sans-serif' transform="translate(214.1 288.77) scale(1 1.08)" stroke="#262626" stroke-width="0.12">Open-loop</text>
<line x1="200.3" y1="298.6" x2="210" y2="298.6" stroke="#b4d8f6" stroke-width="1.6"/>
<text font-size="6.9" text-anchor="start" fill="#262626" font-weight="normal" font-style="normal" font-family='"Liberation Sans", sans-serif' transform="translate(214.1 301.27) scale(1 1.08)" stroke="#262626" stroke-width="0.12">top99%</text>
<line x1="200.3" y1="311.1" x2="210" y2="311.1" stroke="#96c4f2" stroke-width="1.6"/>
<text font-size="6.9" text-anchor="start" fill="#262626" font-weight="normal" font-style="normal" font-family='"Liberation Sans", sans-serif' transform="translate(214.1 313.77) scale(1 1.08)" stroke="#262626" stroke-width="0.12">top90%</text>
<line x1="200.3" y1="323.6" x2="210" y2="323.6" stroke="#6ea4ee" stroke-width="1.6"/>
<text font-size="6.9" text-anchor="start" fill="#262626" font-weight="normal" font-style="normal" font-family='"Liberation Sans", sans-serif' transform="translate(214.1 326.27) scale(1 1.08)" stroke="#262626" stroke-width="0.12">top50%</text>
<line x1="200.3" y1="336.1" x2="210" y2="336.1" stroke="#3f74e6" stroke-width="1.6"/>
<text font-size="6.9" text-anchor="start" fill="#262626" font-weight="normal" font-style="normal" font-family='"Liberation Sans", sans-serif' transform="translate(214.1 338.77) scale(1 1.08)" stroke="#262626" stroke-width="0.12">top10%</text>
<line x1="200.3" y1="348.6" x2="210" y2="348.6" stroke="#2f5ad8" stroke-width="1.6"/>
<text font-size="6.9" text-anchor="start" fill="#262626" font-weight="normal" font-style="normal" font-family='"Liberation Sans", sans-serif' transform="translate(214.1 351.27) scale(1 1.08)" stroke="#262626" stroke-width="0.12">top1%</text>
<line x1="200.3" y1="361.1" x2="210" y2="361.1" stroke="#2b44b8" stroke-width="1.6"/>
<text font-size="6.9" text-anchor="start" fill="#262626" font-weight="normal" font-style="normal" font-family='"Liberation Sans", sans-serif' transform="translate(214.1 363.77) scale(1 1.08)" stroke="#262626" stroke-width="0.12">hp=10xmean</text>
<line x1="200.3" y1="373.6" x2="210" y2="373.6" stroke="#1f2d8e" stroke-width="1.6"/>
<text font-size="6.9" text-anchor="start" fill="#262626" font-weight="normal" font-style="normal" font-family='"Liberation Sans", sans-serif' transform="translate(214.1 376.27) scale(1 1.08)" stroke="#262626" stroke-width="0.12">hp=20xmean</text>
<text font-size="8.6" text-anchor="start" fill="#000" font-weight="bold" font-style="normal" font-family='"Liberation Sans", sans-serif' transform="translate(257.8 267) scale(1 1.08)">h.</text>
<line x1="292.2" y1="267.6" x2="292.2" y2="377.5" stroke="#7a7a7a" stroke-width="0.7"/>
<line x1="290.2" y1="377.5" x2="464.5" y2="377.5" stroke="#555" stroke-width="0.7"/>
<text font-size="8.2" text-anchor="end" fill="#262626" font-weight="normal" font-style="normal" font-family='"Liberation Sans", sans-serif' transform="translate(289.8 380.67) scale(1 1.08)" stroke="#262626" stroke-width="0.12">0.0</text>
<line x1="290.2" y1="377.5" x2="292.2" y2="377.5" stroke="#555" stroke-width="0.5"/>
<text font-size="8.2" text-anchor="end" fill="#262626" font-weight="normal" font-style="normal" font-family='"Liberation Sans", sans-serif' transform="translate(289.8 360.97) scale(1 1.08)" stroke="#262626" stroke-width="0.12">0.5</text>
<line x1="290.2" y1="357.8" x2="292.2" y2="357.8" stroke="#555" stroke-width="0.5"/>
<text font-size="8.2" text-anchor="end" fill="#262626" font-weight="normal" font-style="normal" font-family='"Liberation Sans", sans-serif' transform="translate(289.8 341.27) scale(1 1.08)" stroke="#262626" stroke-width="0.12">1.0</text>
<line x1="290.2" y1="338.1" x2="292.2" y2="338.1" stroke="#555" stroke-width="0.5"/>
<text font-size="8.2" text-anchor="end" fill="#262626" font-weight="normal" font-style="normal" font-family='"Liberation Sans", sans-serif' transform="translate(289.8 321.57) scale(1 1.08)" stroke="#262626" stroke-width="0.12">1.5</text>
<line x1="290.2" y1="318.4" x2="292.2" y2="318.4" stroke="#555" stroke-width="0.5"/>
<text font-size="8.2" text-anchor="end" fill="#262626" font-weight="normal" font-style="normal" font-family='"Liberation Sans", sans-serif' transform="translate(289.8 301.87) scale(1 1.08)" stroke="#262626" stroke-width="0.12">2.0</text>
<line x1="290.2" y1="298.7" x2="292.2" y2="298.7" stroke="#555" stroke-width="0.5"/>
<text font-size="8.2" text-anchor="end" fill="#262626" font-weight="normal" font-style="normal" font-family='"Liberation Sans", sans-serif' transform="translate(289.8 282.17) scale(1 1.08)" stroke="#262626" stroke-width="0.12">2.5</text>
<line x1="290.2" y1="279" x2="292.2" y2="279" stroke="#555" stroke-width="0.5"/>
<line x1="291" y1="377.5" x2="292.2" y2="377.5" stroke="#555" stroke-width="0.4"/>
<line x1="291" y1="373.56" x2="292.2" y2="373.56" stroke="#555" stroke-width="0.4"/>
<line x1="291" y1="369.62" x2="292.2" y2="369.62" stroke="#555" stroke-width="0.4"/>
<line x1="291" y1="365.68" x2="292.2" y2="365.68" stroke="#555" stroke-width="0.4"/>
<line x1="291" y1="361.74" x2="292.2" y2="361.74" stroke="#555" stroke-width="0.4"/>
<line x1="291" y1="357.8" x2="292.2" y2="357.8" stroke="#555" stroke-width="0.4"/>
<line x1="291" y1="353.86" x2="292.2" y2="353.86" stroke="#555" stroke-width="0.4"/>
<line x1="291" y1="349.92" x2="292.2" y2="349.92" stroke="#555" stroke-width="0.4"/>
<line x1="291" y1="345.98" x2="292.2" y2="345.98" stroke="#555" stroke-width="0.4"/>
<line x1="291" y1="342.04" x2="292.2" y2="342.04" stroke="#555" stroke-width="0.4"/>
<line x1="291" y1="338.1" x2="292.2" y2="338.1" stroke="#555" stroke-width="0.4"/>
<line x1="291" y1="334.16" x2="292.2" y2="334.16" stroke="#555" stroke-width="0.4"/>
<line x1="291" y1="330.22" x2="292.2" y2="330.22" stroke="#555" stroke-width="0.4"/>
<line x1="291" y1="326.28" x2="292.2" y2="326.28" stroke="#555" stroke-width="0.4"/>
<line x1="291" y1="322.34" x2="292.2" y2="322.34" stroke="#555" stroke-width="0.4"/>
<line x1="291" y1="318.4" x2="292.2" y2="318.4" stroke="#555" stroke-width="0.4"/>
<line x1="291" y1="314.46" x2="292.2" y2="314.46" stroke="#555" stroke-width="0.4"/>
<line x1="291" y1="310.52" x2="292.2" y2="310.52" stroke="#555" stroke-width="0.4"/>
<line x1="291" y1="306.58" x2="292.2" y2="306.58" stroke="#555" stroke-width="0.4"/>
<line x1="291" y1="302.64" x2="292.2" y2="302.64" stroke="#555" stroke-width="0.4"/>
<line x1="291" y1="298.7" x2="292.2" y2="298.7" stroke="#555" stroke-width="0.4"/>
<line x1="291" y1="294.76" x2="292.2" y2="294.76" stroke="#555" stroke-width="0.4"/>
<line x1="291" y1="290.82" x2="292.2" y2="290.82" stroke="#555" stroke-width="0.4"/>
<line x1="291" y1="286.88" x2="292.2" y2="286.88" stroke="#555" stroke-width="0.4"/>
<line x1="291" y1="282.94" x2="292.2" y2="282.94" stroke="#555" stroke-width="0.4"/>
<line x1="291" y1="279" x2="292.2" y2="279" stroke="#555" stroke-width="0.4"/>
<line x1="291" y1="275.06" x2="292.2" y2="275.06" stroke="#555" stroke-width="0.4"/>
<line x1="291" y1="271.12" x2="292.2" y2="271.12" stroke="#555" stroke-width="0.4"/>
<line x1="291" y1="267.18" x2="292.2" y2="267.18" stroke="#555" stroke-width="0.4"/>
<rect x="294.4" y="338.1" width="19.3" height="39.4" fill="#9bc9f4" stroke="#505050" stroke-width="0.6"/>
<text font-size="7.6" text-anchor="middle" fill="#1a1a1a" font-weight="normal" font-style="normal" font-family='"Liberation Sans", sans-serif' transform="translate(304.05 388.54) scale(1 1.08)" stroke="#1a1a1a" stroke-width="0.12">OL</text>
<line x1="304.05" y1="377.5" x2="304.05" y2="379" stroke="#555" stroke-width="0.5"/>
<rect x="315.4" y="328.25" width="19.9" height="49.25" fill="#6eaaf0" stroke="#505050" stroke-width="0.6"/>
<text font-size="7.6" text-anchor="middle" fill="#1a1a1a" font-weight="normal" font-style="normal" font-family='"Liberation Sans", sans-serif' transform="translate(325.35 388.54) scale(1 1.08)" stroke="#1a1a1a" stroke-width="0.12">99%</text>
<line x1="325.35" y1="377.5" x2="325.35" y2="379" stroke="#555" stroke-width="0.5"/>
<rect x="337" y="325.1" width="19.6" height="52.4" fill="#5a94ea" stroke="#505050" stroke-width="0.6"/>
<text font-size="7.6" text-anchor="middle" fill="#1a1a1a" font-weight="normal" font-style="normal" font-family='"Liberation Sans", sans-serif' transform="translate(346.8 388.54) scale(1 1.08)" stroke="#1a1a1a" stroke-width="0.12">90%</text>
<line x1="346.8" y1="377.5" x2="346.8" y2="379" stroke="#555" stroke-width="0.5"/>
<rect x="358.2" y="320.76" width="19.5" height="56.74" fill="#3c78e1" stroke="#505050" stroke-width="0.6"/>
<text font-size="7.6" text-anchor="middle" fill="#1a1a1a" font-weight="normal" font-style="normal" font-family='"Liberation Sans", sans-serif' transform="translate(367.95 388.54) scale(1 1.08)" stroke="#1a1a1a" stroke-width="0.12">50%</text>
<line x1="367.95" y1="377.5" x2="367.95" y2="379" stroke="#555" stroke-width="0.5"/>
<rect x="379.5" y="316.82" width="19.7" height="60.68" fill="#2c62df" stroke="#505050" stroke-width="0.6"/>
<text font-size="7.6" text-anchor="middle" fill="#1a1a1a" font-weight="normal" font-style="normal" font-family='"Liberation Sans", sans-serif' transform="translate(389.35 388.54) scale(1 1.08)" stroke="#1a1a1a" stroke-width="0.12">10%</text>
<line x1="389.35" y1="377.5" x2="389.35" y2="379" stroke="#555" stroke-width="0.5"/>
<rect x="400.6" y="313.28" width="19.6" height="64.22" fill="#2a52cf" stroke="#505050" stroke-width="0.6"/>
<text font-size="7.6" text-anchor="middle" fill="#1a1a1a" font-weight="normal" font-style="normal" font-family='"Liberation Sans", sans-serif' transform="translate(410.4 388.54) scale(1 1.08)" stroke="#1a1a1a" stroke-width="0.12">1%</text>
<line x1="410.4" y1="377.5" x2="410.4" y2="379" stroke="#555" stroke-width="0.5"/>
<rect x="421.8" y="273.09" width="19.7" height="104.41" fill="#1f3aa6" stroke="#505050" stroke-width="0.6"/>
<text font-size="7.6" text-anchor="middle" fill="#1a1a1a" font-weight="normal" font-style="normal" font-family='"Liberation Sans", sans-serif' transform="translate(431.65 388.54) scale(1 1.08)" stroke="#1a1a1a" stroke-width="0.12">10x</text>
<line x1="431.65" y1="377.5" x2="431.65" y2="379" stroke="#555" stroke-width="0.5"/>
<rect x="443.2" y="308.94" width="19.8" height="68.56" fill="#1d2a8a" stroke="#505050" stroke-width="0.6"/>
<text font-size="7.6" text-anchor="middle" fill="#1a1a1a" font-weight="normal" font-style="normal" font-family='"Liberation Sans", sans-serif' transform="translate(453.1 388.54) scale(1 1.08)" stroke="#1a1a1a" stroke-width="0.12">20x</text>
<line x1="453.1" y1="377.5" x2="453.1" y2="379" stroke="#555" stroke-width="0.5"/>
<text font-size="7.9" text-anchor="middle" fill="#1a1a1a" font-weight="normal" font-style="normal" font-family='"Liberation Sans", sans-serif' transform="translate(275.8 325.4) rotate(-90) scale(1 1.08)" stroke="#1a1a1a" stroke-width="0.12">Norm. Protein Titer (arb. units)</text>
<line x1="452.4" y1="303.2" x2="452.4" y2="313.4" stroke="#000" stroke-width="0.7"/>
<line x1="451.2" y1="303.2" x2="453.6" y2="303.2" stroke="#000" stroke-width="0.6"/>
<circle cx="325.6" cy="327.3" r="1.45" fill="#fff" stroke="#000" stroke-width="0.75"/>
<circle cx="326.8" cy="328.2" r="1.75" fill="#000" stroke="#000" stroke-width="0.3"/>
<circle cx="325.9" cy="328.6" r="1.75" fill="#000" stroke="#000" stroke-width="0.3"/>
<circle cx="346.2" cy="323.6" r="1.45" fill="#fff" stroke="#000" stroke-width="0.75"/>
<circle cx="347.6" cy="324.8" r="1.75" fill="#000" stroke="#000" stroke-width="0.3"/>
<circle cx="346.8" cy="325.1" r="1.75" fill="#000" stroke="#000" stroke-width="0.3"/>
<circle cx="369.8" cy="319.8" r="1.45" fill="#fff" stroke="#000" stroke-width="0.75"/>
<circle cx="368.4" cy="321.2" r="1.75" fill="#000" stroke="#000" stroke-width="0.3"/>
<circle cx="367.6" cy="321.4" r="1.75" fill="#000" stroke="#000" stroke-width="0.3"/>
<circle cx="390.3" cy="315.8" r="1.45" fill="#fff" stroke="#000" stroke-width="0.75"/>
<circle cx="388.9" cy="316.9" r="1.75" fill="#000" stroke="#000" stroke-width="0.3"/>
<circle cx="389.6" cy="317" r="1.75" fill="#000" stroke="#000" stroke-width="0.3"/>
<circle cx="409.8" cy="312.3" r="1.75" fill="#000" stroke="#000" stroke-width="0.3"/>
<circle cx="410.6" cy="312.9" r="1.75" fill="#000" stroke="#000" stroke-width="0.3"/>
<circle cx="431" cy="270.4" r="1.45" fill="#fff" stroke="#000" stroke-width="0.75"/>
<circle cx="431.6" cy="272.6" r="1.75" fill="#000" stroke="#000" stroke-width="0.3"/>
<circle cx="430.8" cy="272.8" r="1.75" fill="#000" stroke="#000" stroke-width="0.3"/>
<circle cx="452.4" cy="303.4" r="1.45" fill="#fff" stroke="#000" stroke-width="0.75"/>
<circle cx="452.4" cy="309.8" r="1.45" fill="#fff" stroke="#000" stroke-width="0.75"/>
<circle cx="451.8" cy="312.2" r="1.75" fill="#000" stroke="#000" stroke-width="0.3"/>
<text font-size="8.6" text-anchor="start" fill="#000" font-weight="bold" font-style="normal" font-family='"Liberation Sans", sans-serif' transform="translate(475.6 267) scale(1 1.08)">i.</text>
<line x1="510" y1="262.9" x2="510" y2="377.3" stroke="#7a7a7a" stroke-width="0.7"/>
<line x1="508" y1="377.3" x2="682.9" y2="377.3" stroke="#555" stroke-width="0.7"/>
<text font-size="8.2" text-anchor="end" fill="#262626" font-weight="normal" font-style="normal" font-family='"Liberation Sans", sans-serif' transform="translate(507.6 380.47) scale(1 1.08)" stroke="#262626" stroke-width="0.12">0.0</text>
<line x1="508" y1="377.3" x2="510" y2="377.3" stroke="#555" stroke-width="0.5"/>
<text font-size="8.2" text-anchor="end" fill="#262626" font-weight="normal" font-style="normal" font-family='"Liberation Sans", sans-serif' transform="translate(507.6 364.97) scale(1 1.08)" stroke="#262626" stroke-width="0.12">0.5</text>
<line x1="508" y1="361.8" x2="510" y2="361.8" stroke="#555" stroke-width="0.5"/>
<text font-size="8.2" text-anchor="end" fill="#262626" font-weight="normal" font-style="normal" font-family='"Liberation Sans", sans-serif' transform="translate(507.6 349.47) scale(1 1.08)" stroke="#262626" stroke-width="0.12">1.0</text>
<line x1="508" y1="346.3" x2="510" y2="346.3" stroke="#555" stroke-width="0.5"/>
<text font-size="8.2" text-anchor="end" fill="#262626" font-weight="normal" font-style="normal" font-family='"Liberation Sans", sans-serif' transform="translate(507.6 333.97) scale(1 1.08)" stroke="#262626" stroke-width="0.12">1.5</text>
<line x1="508" y1="330.8" x2="510" y2="330.8" stroke="#555" stroke-width="0.5"/>
<text font-size="8.2" text-anchor="end" fill="#262626" font-weight="normal" font-style="normal" font-family='"Liberation Sans", sans-serif' transform="translate(507.6 318.47) scale(1 1.08)" stroke="#262626" stroke-width="0.12">2.0</text>
<line x1="508" y1="315.3" x2="510" y2="315.3" stroke="#555" stroke-width="0.5"/>
<text font-size="8.2" text-anchor="end" fill="#262626" font-weight="normal" font-style="normal" font-family='"Liberation Sans", sans-serif' transform="translate(507.6 302.97) scale(1 1.08)" stroke="#262626" stroke-width="0.12">2.5</text>
<line x1="508" y1="299.8" x2="510" y2="299.8" stroke="#555" stroke-width="0.5"/>
<text font-size="8.2" text-anchor="end" fill="#262626" font-weight="normal" font-style="normal" font-family='"Liberation Sans", sans-serif' transform="translate(507.6 287.47) scale(1 1.08)" stroke="#262626" stroke-width="0.12">3.0</text>
<line x1="508" y1="284.3" x2="510" y2="284.3" stroke="#555" stroke-width="0.5"/>
<text font-size="8.2" text-anchor="end" fill="#262626" font-weight="normal" font-style="normal" font-family='"Liberation Sans", sans-serif' transform="translate(507.6 271.97) scale(1 1.08)" stroke="#262626" stroke-width="0.12">3.5</text>
<line x1="508" y1="268.8" x2="510" y2="268.8" stroke="#555" stroke-width="0.5"/>
<line x1="508.8" y1="377.3" x2="510" y2="377.3" stroke="#555" stroke-width="0.4"/>
<line x1="508.8" y1="374.2" x2="510" y2="374.2" stroke="#555" stroke-width="0.4"/>
<line x1="508.8" y1="371.1" x2="510" y2="371.1" stroke="#555" stroke-width="0.4"/>
<line x1="508.8" y1="368" x2="510" y2="368" stroke="#555" stroke-width="0.4"/>
<line x1="508.8" y1="364.9" x2="510" y2="364.9" stroke="#555" stroke-width="0.4"/>
<line x1="508.8" y1="361.8" x2="510" y2="361.8" stroke="#555" stroke-width="0.4"/>
<line x1="508.8" y1="358.7" x2="510" y2="358.7" stroke="#555" stroke-width="0.4"/>
<line x1="508.8" y1="355.6" x2="510" y2="355.6" stroke="#555" stroke-width="0.4"/>
<line x1="508.8" y1="352.5" x2="510" y2="352.5" stroke="#555" stroke-width="0.4"/>
<line x1="508.8" y1="349.4" x2="510" y2="349.4" stroke="#555" stroke-width="0.4"/>
<line x1="508.8" y1="346.3" x2="510" y2="346.3" stroke="#555" stroke-width="0.4"/>
<line x1="508.8" y1="343.2" x2="510" y2="343.2" stroke="#555" stroke-width="0.4"/>
<line x1="508.8" y1="340.1" x2="510" y2="340.1" stroke="#555" stroke-width="0.4"/>
<line x1="508.8" y1="337" x2="510" y2="337" stroke="#555" stroke-width="0.4"/>
<line x1="508.8" y1="333.9" x2="510" y2="333.9" stroke="#555" stroke-width="0.4"/>
<line x1="508.8" y1="330.8" x2="510" y2="330.8" stroke="#555" stroke-width="0.4"/>
<line x1="508.8" y1="327.7" x2="510" y2="327.7" stroke="#555" stroke-width="0.4"/>
<line x1="508.8" y1="324.6" x2="510" y2="324.6" stroke="#555" stroke-width="0.4"/>
<line x1="508.8" y1="321.5" x2="510" y2="321.5" stroke="#555" stroke-width="0.4"/>
<line x1="508.8" y1="318.4" x2="510" y2="318.4" stroke="#555" stroke-width="0.4"/>
<line x1="508.8" y1="315.3" x2="510" y2="315.3" stroke="#555" stroke-width="0.4"/>
<line x1="508.8" y1="312.2" x2="510" y2="312.2" stroke="#555" stroke-width="0.4"/>
<line x1="508.8" y1="309.1" x2="510" y2="309.1" stroke="#555" stroke-width="0.4"/>
<line x1="508.8" y1="306" x2="510" y2="306" stroke="#555" stroke-width="0.4"/>
<line x1="508.8" y1="302.9" x2="510" y2="302.9" stroke="#555" stroke-width="0.4"/>
<line x1="508.8" y1="299.8" x2="510" y2="299.8" stroke="#555" stroke-width="0.4"/>
<line x1="508.8" y1="296.7" x2="510" y2="296.7" stroke="#555" stroke-width="0.4"/>
<line x1="508.8" y1="293.6" x2="510" y2="293.6" stroke="#555" stroke-width="0.4"/>
<line x1="508.8" y1="290.5" x2="510" y2="290.5" stroke="#555" stroke-width="0.4"/>
<line x1="508.8" y1="287.4" x2="510" y2="287.4" stroke="#555" stroke-width="0.4"/>
<line x1="508.8" y1="284.3" x2="510" y2="284.3" stroke="#555" stroke-width="0.4"/>
<line x1="508.8" y1="281.2" x2="510" y2="281.2" stroke="#555" stroke-width="0.4"/>
<line x1="508.8" y1="278.1" x2="510" y2="278.1" stroke="#555" stroke-width="0.4"/>
<line x1="508.8" y1="275" x2="510" y2="275" stroke="#555" stroke-width="0.4"/>
<line x1="508.8" y1="271.9" x2="510" y2="271.9" stroke="#555" stroke-width="0.4"/>
<line x1="508.8" y1="268.8" x2="510" y2="268.8" stroke="#555" stroke-width="0.4"/>
<line x1="508.8" y1="265.7" x2="510" y2="265.7" stroke="#555" stroke-width="0.4"/>
<line x1="508.8" y1="262.6" x2="510" y2="262.6" stroke="#555" stroke-width="0.4"/>
<rect x="512.5" y="346.3" width="18.7" height="31" fill="#9bc9f4" stroke="#505050" stroke-width="0.6"/>
<text font-size="7.6" text-anchor="middle" fill="#1a1a1a" font-weight="normal" font-style="normal" font-family='"Liberation Sans", sans-serif' transform="translate(521.85 389.14) scale(1 1.08)" stroke="#1a1a1a" stroke-width="0.12">OL</text>
<line x1="521.85" y1="377.3" x2="521.85" y2="378.8" stroke="#555" stroke-width="0.5"/>
<rect x="533.3" y="335.45" width="19.5" height="41.85" fill="#6eaaf0" stroke="#505050" stroke-width="0.6"/>
<text font-size="7.6" text-anchor="middle" fill="#1a1a1a" font-weight="normal" font-style="normal" font-family='"Liberation Sans", sans-serif' transform="translate(543.05 389.14) scale(1 1.08)" stroke="#1a1a1a" stroke-width="0.12">99%</text>
<line x1="543.05" y1="377.3" x2="543.05" y2="378.8" stroke="#555" stroke-width="0.5"/>
<rect x="554.9" y="331.42" width="19.4" height="45.88" fill="#5a94ea" stroke="#505050" stroke-width="0.6"/>
<text font-size="7.6" text-anchor="middle" fill="#1a1a1a" font-weight="normal" font-style="normal" font-family='"Liberation Sans", sans-serif' transform="translate(564.6 389.14) scale(1 1.08)" stroke="#1a1a1a" stroke-width="0.12">90%</text>
<line x1="564.6" y1="377.3" x2="564.6" y2="378.8" stroke="#555" stroke-width="0.5"/>
<rect x="576.1" y="327.08" width="19.8" height="50.22" fill="#3c78e1" stroke="#505050" stroke-width="0.6"/>
<text font-size="7.6" text-anchor="middle" fill="#1a1a1a" font-weight="normal" font-style="normal" font-family='"Liberation Sans", sans-serif' transform="translate(586 389.14) scale(1 1.08)" stroke="#1a1a1a" stroke-width="0.12">50%</text>
<line x1="586" y1="377.3" x2="586" y2="378.8" stroke="#555" stroke-width="0.5"/>
<rect x="597.3" y="321.5" width="20" height="55.8" fill="#2c62df" stroke="#505050" stroke-width="0.6"/>
<text font-size="7.6" text-anchor="middle" fill="#1a1a1a" font-weight="normal" font-style="normal" font-family='"Liberation Sans", sans-serif' transform="translate(607.3 389.14) scale(1 1.08)" stroke="#1a1a1a" stroke-width="0.12">10%</text>
<line x1="607.3" y1="377.3" x2="607.3" y2="378.8" stroke="#555" stroke-width="0.5"/>
<rect x="618.6" y="317.16" width="20.3" height="60.14" fill="#2a52cf" stroke="#505050" stroke-width="0.6"/>
<text font-size="7.6" text-anchor="middle" fill="#1a1a1a" font-weight="normal" font-style="normal" font-family='"Liberation Sans", sans-serif' transform="translate(628.75 389.14) scale(1 1.08)" stroke="#1a1a1a" stroke-width="0.12">1%</text>
<line x1="628.75" y1="377.3" x2="628.75" y2="378.8" stroke="#555" stroke-width="0.5"/>
<rect x="640" y="268.8" width="19.8" height="108.5" fill="#1f3aa6" stroke="#505050" stroke-width="0.6"/>
<text font-size="7.6" text-anchor="middle" fill="#1a1a1a" font-weight="normal" font-style="normal" font-family='"Liberation Sans", sans-serif' transform="translate(649.9 389.14) scale(1 1.08)" stroke="#1a1a1a" stroke-width="0.12">10x</text>
<line x1="649.9" y1="377.3" x2="649.9" y2="378.8" stroke="#555" stroke-width="0.5"/>
<rect x="661.6" y="309.72" width="19.8" height="67.58" fill="#1d2a8a" stroke="#505050" stroke-width="0.6"/>
<text font-size="7.6" text-anchor="middle" fill="#1a1a1a" font-weight="normal" font-style="normal" font-family='"Liberation Sans", sans-serif' transform="translate(671.5 389.14) scale(1 1.08)" stroke="#1a1a1a" stroke-width="0.12">20x</text>
<line x1="671.5" y1="377.3" x2="671.5" y2="378.8" stroke="#555" stroke-width="0.5"/>
<text font-size="7.9" text-anchor="middle" fill="#1a1a1a" font-weight="normal" font-style="normal" font-family='"Liberation Sans", sans-serif' transform="translate(492.6 323.2) rotate(-90) scale(1 1.08)" stroke="#1a1a1a" stroke-width="0.12">Norm. Metabolite Titer (arb. units)</text>
<line x1="671.5" y1="302.3" x2="671.5" y2="317" stroke="#000" stroke-width="0.7"/>
<line x1="670.3" y1="302.3" x2="672.7" y2="302.3" stroke="#000" stroke-width="0.6"/>
<line x1="670.3" y1="317" x2="672.7" y2="317" stroke="#000" stroke-width="0.6"/>
<circle cx="543" cy="335.4" r="1.75" fill="#000" stroke="#000" stroke-width="0.3"/>
<circle cx="544.2" cy="335.8" r="1.75" fill="#000" stroke="#000" stroke-width="0.3"/>
<circle cx="542.4" cy="334.8" r="1.45" fill="#fff" stroke="#000" stroke-width="0.75"/>
<circle cx="565.2" cy="330" r="1.45" fill="#fff" stroke="#000" stroke-width="0.75"/>
<circle cx="564.6" cy="331.6" r="1.75" fill="#000" stroke="#000" stroke-width="0.3"/>
<circle cx="566" cy="331.2" r="1.75" fill="#000" stroke="#000" stroke-width="0.3"/>
<circle cx="586.4" cy="326" r="1.45" fill="#fff" stroke="#000" stroke-width="0.75"/>
<circle cx="585.6" cy="327.2" r="1.75" fill="#000" stroke="#000" stroke-width="0.3"/>
<circle cx="586.8" cy="327.6" r="1.75" fill="#000" stroke="#000" stroke-width="0.3"/>
<circle cx="607.2" cy="320.6" r="1.45" fill="#fff" stroke="#000" stroke-width="0.75"/>
<circle cx="607.8" cy="322.2" r="1.75" fill="#000" stroke="#000" stroke-width="0.3"/>
<circle cx="606.6" cy="322.4" r="1.75" fill="#000" stroke="#000" stroke-width="0.3"/>
<circle cx="628" cy="316.6" r="1.45" fill="#fff" stroke="#000" stroke-width="0.75"/>
<circle cx="628.6" cy="317.8" r="1.75" fill="#000" stroke="#000" stroke-width="0.3"/>
<circle cx="627.6" cy="318.2" r="1.75" fill="#000" stroke="#000" stroke-width="0.3"/>
<circle cx="649.8" cy="265.8" r="1.75" fill="#000" stroke="#000" stroke-width="0.3"/>
<circle cx="650.4" cy="268" r="1.75" fill="#000" stroke="#000" stroke-width="0.3"/>
<circle cx="649.4" cy="270.4" r="1.75" fill="#000" stroke="#000" stroke-width="0.3"/>
<circle cx="671.5" cy="303.6" r="1.75" fill="#000" stroke="#000" stroke-width="0.3"/>
<circle cx="671" cy="309.3" r="1.45" fill="#fff" stroke="#000" stroke-width="0.75"/>
<circle cx="670.5" cy="315.8" r="1.45" fill="#fff" stroke="#000" stroke-width="0.75"/>
</svg>
</body></html>
